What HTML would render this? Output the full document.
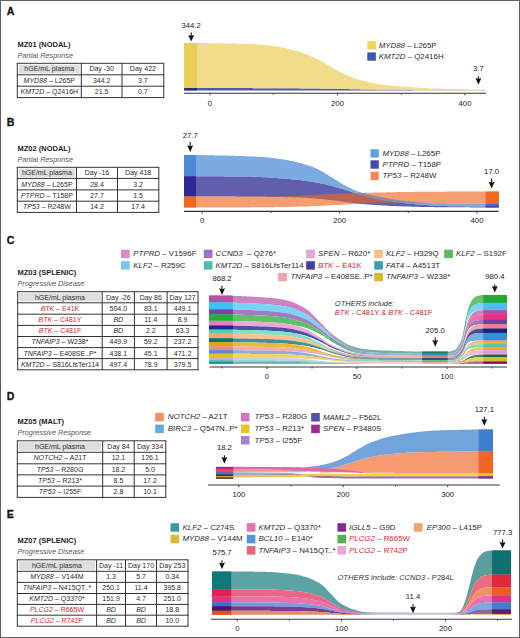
<!DOCTYPE html>
<html><head><meta charset="utf-8"><style>
html,body{margin:0;padding:0;background:#fff;}
svg{display:block;}
text{font-family:"Liberation Sans",sans-serif;}
</style></head><body>
<svg width="520" height="638" viewBox="0 0 520 638" font-family='"Liberation Sans", sans-serif'><rect x="0" y="0" width="520" height="638" fill="#fff"/>
<text x="6.8" y="14.6" font-size="10.6" font-weight="bold" fill="#111" stroke="#111" stroke-width="0.3">A</text>
<text x="17.50" y="46.90" font-size="7.5" font-weight="bold" fill="#1e1e1e"><tspan>MZ01 (NODAL)</tspan></text>
<text x="17.50" y="58.00" font-size="7.3" font-style="italic" fill="#555"><tspan>Partial Response</tspan></text>
<rect x="18.80" y="64.70" width="61.00" height="8.70" fill="#dedede" />
<line x1="16.80" y1="63.30" x2="164.30" y2="63.30" stroke="#333" stroke-width="1"/>
<line x1="16.80" y1="74.80" x2="164.30" y2="74.80" stroke="#333" stroke-width="1"/>
<line x1="16.80" y1="86.20" x2="164.30" y2="86.20" stroke="#333" stroke-width="1"/>
<line x1="16.80" y1="97.60" x2="164.30" y2="97.60" stroke="#333" stroke-width="1"/>
<line x1="17.30" y1="63.30" x2="17.30" y2="97.60" stroke="#333" stroke-width="1"/>
<line x1="81.30" y1="63.30" x2="81.30" y2="97.60" stroke="#333" stroke-width="1"/>
<line x1="122.00" y1="63.30" x2="122.00" y2="97.60" stroke="#333" stroke-width="1"/>
<line x1="163.80" y1="63.30" x2="163.80" y2="97.60" stroke="#333" stroke-width="1"/>
<text x="49.30" y="71.47" font-size="7.0" text-anchor="middle" fill="#2e2e2e"><tspan>hGE/mL plasma</tspan></text>
<text x="101.65" y="71.47" font-size="7.0" text-anchor="middle" fill="#2e2e2e"><tspan>Day -30</tspan></text>
<text x="142.90" y="71.47" font-size="7.0" text-anchor="middle" fill="#2e2e2e"><tspan>Day 422</tspan></text>
<text x="49.30" y="82.92" font-size="7.0" text-anchor="middle" fill="#2e2e2e"><tspan font-style="italic">MYD88</tspan><tspan> – L265P</tspan></text>
<text x="101.65" y="82.92" font-size="7.0" text-anchor="middle" fill="#2e2e2e"><tspan>344.2</tspan></text>
<text x="142.90" y="82.92" font-size="7.0" text-anchor="middle" fill="#2e2e2e"><tspan>3.7</tspan></text>
<text x="49.30" y="94.32" font-size="7.0" text-anchor="middle" fill="#2e2e2e"><tspan font-style="italic">KMT2D</tspan><tspan> – Q2416H</tspan></text>
<text x="101.65" y="94.32" font-size="7.0" text-anchor="middle" fill="#2e2e2e"><tspan>21.5</tspan></text>
<text x="142.90" y="94.32" font-size="7.0" text-anchor="middle" fill="#2e2e2e"><tspan>0.7</tspan></text>
<path d="M184,88.1 185,88.1 186,88.1 187,88.1 188,88.1 189,88.1 190,88.1 191,88.1 192,88.1 193,88.1 194,88.1 195,88.1 196,88.1 197,88.1 198,88.1 199,88.1 200,88.1 201,88.1 202,88.1 203,88.1 204,88.1 205,88.1 206,88.1 207,88.1 208,88.1 209,88.1 210,88.1 211,88.1 212,88.1 213,88.1 214,88.1 215,88.1 216,88.1 217,88.1 218,88.1 219,88.1 220,88.1 221,88.1 222,88.1 223,88.1 224,88.1 225,88.1 226,88.1 227,88.1 228,88.1 229,88.1 230,88.1 231,88.1 232,88.1 233,88.1 234,88.1 235,88.1 236,88.1 237,88.1 238,88.1 239,88.1 240,88.1 241,88.1 242,88.1 243,88.1 244,88.1 245,88.1 246,88.1 247,88.1 248,88.1 249,88.1 250,88.1 251,88.1 252,88.1 253,88.2 254,88.2 255,88.2 256,88.2 257,88.2 258,88.2 259,88.2 260,88.2 261,88.2 262,88.2 263,88.2 264,88.2 265,88.2 266,88.2 267,88.2 268,88.2 269,88.2 270,88.2 271,88.2 272,88.2 273,88.2 274,88.2 275,88.2 276,88.2 277,88.2 278,88.2 279,88.2 280,88.2 281,88.2 282,88.2 283,88.2 284,88.2 285,88.2 286,88.2 287,88.2 288,88.2 289,88.2 290,88.3 291,88.3 292,88.3 293,88.3 294,88.3 295,88.3 296,88.3 297,88.3 298,88.3 299,88.3 300,88.4 301,88.4 302,88.4 303,88.4 304,88.4 305,88.4 306,88.4 307,88.5 308,88.5 309,88.5 310,88.5 311,88.5 312,88.5 313,88.5 314,88.6 315,88.6 316,88.6 317,88.6 318,88.6 319,88.6 320,88.6 321,88.7 322,88.7 323,88.7 324,88.7 325,88.7 326,88.7 327,88.8 328,88.8 329,88.8 330,88.8 331,88.8 332,88.8 333,88.8 334,88.9 335,88.9 336,88.9 337,88.9 338,88.9 339,88.9 340,89 341,89 342,89 343,89 344,89 345,89.1 346,89.1 347,89.1 348,89.1 349,89.1 350,89.2 351,89.2 352,89.2 353,89.2 354,89.2 355,89.2 356,89.3 357,89.3 358,89.3 359,89.3 360,89.3 361,89.4 362,89.4 363,89.4 364,89.4 365,89.4 366,89.5 367,89.5 368,89.5 369,89.5 370,89.5 371,89.6 372,89.6 373,89.6 374,89.6 375,89.6 376,89.6 377,89.7 378,89.7 379,89.7 380,89.7 381,89.7 382,89.7 383,89.7 384,89.8 385,89.8 386,89.8 387,89.8 388,89.8 389,89.8 390,89.9 391,89.9 392,89.9 393,89.9 394,89.9 395,89.9 396,89.9 397,90 398,90 399,90 400,90 401,90 402,90 403,90 404,90.1 405,90.1 406,90.1 407,90.1 408,90.1 409,90.1 410,90.1 411,90.1 412,90.1 413,90.2 414,90.2 415,90.2 416,90.2 417,90.2 418,90.2 419,90.2 420,90.2 421,90.2 422,90.2 423,90.2 424,90.2 425,90.2 426,90.2 427,90.2 428,90.2 429,90.2 430,90.2 431,90.2 432,90.2 433,90.2 434,90.3 435,90.3 436,90.3 437,90.3 438,90.3 439,90.3 440,90.3 441,90.3 442,90.3 443,90.3 444,90.3 445,90.3 446,90.3 447,90.3 448,90.3 449,90.3 450,90.3 451,90.3 452,90.3 453,90.3 454,90.3 455,90.3 456,90.3 457,90.3 458,90.3 459,90.3 460,90.3 461,90.3 462,90.3 463,90.3 464,90.3 465,90.3 466,90.3 467,90.3 468,90.3 469,90.3 470,90.3 471,90.3 472,90.3 473,90.3 474,90.3 475,90.3 476,90.3 477,90.3 478,90.3 479,90.3 480,90.3 481,90.3 482,90.3 483,90.3 484,90.3 485,90.3 486,90.3 486,90.4 485,90.4 484,90.4 483,90.4 482,90.4 481,90.4 480,90.4 479,90.4 478,90.4 477,90.4 476,90.4 475,90.4 474,90.4 473,90.4 472,90.4 471,90.4 470,90.4 469,90.4 468,90.4 467,90.4 466,90.4 465,90.4 464,90.4 463,90.4 462,90.4 461,90.4 460,90.4 459,90.4 458,90.4 457,90.4 456,90.4 455,90.4 454,90.4 453,90.4 452,90.4 451,90.4 450,90.4 449,90.4 448,90.4 447,90.4 446,90.4 445,90.4 444,90.4 443,90.4 442,90.4 441,90.4 440,90.4 439,90.4 438,90.4 437,90.4 436,90.4 435,90.4 434,90.4 433,90.4 432,90.4 431,90.4 430,90.4 429,90.4 428,90.4 427,90.4 426,90.4 425,90.4 424,90.4 423,90.4 422,90.4 421,90.4 420,90.4 419,90.4 418,90.4 417,90.4 416,90.4 415,90.4 414,90.4 413,90.4 412,90.4 411,90.4 410,90.4 409,90.4 408,90.4 407,90.4 406,90.4 405,90.4 404,90.4 403,90.4 402,90.4 401,90.4 400,90.4 399,90.4 398,90.4 397,90.4 396,90.4 395,90.4 394,90.4 393,90.4 392,90.4 391,90.4 390,90.4 389,90.4 388,90.4 387,90.4 386,90.4 385,90.4 384,90.4 383,90.4 382,90.4 381,90.4 380,90.4 379,90.4 378,90.4 377,90.4 376,90.4 375,90.4 374,90.4 373,90.4 372,90.4 371,90.4 370,90.4 369,90.4 368,90.4 367,90.4 366,90.4 365,90.4 364,90.4 363,90.4 362,90.4 361,90.4 360,90.4 359,90.4 358,90.4 357,90.4 356,90.4 355,90.4 354,90.4 353,90.4 352,90.4 351,90.4 350,90.4 349,90.4 348,90.4 347,90.4 346,90.4 345,90.4 344,90.4 343,90.4 342,90.4 341,90.4 340,90.4 339,90.4 338,90.4 337,90.4 336,90.4 335,90.4 334,90.4 333,90.4 332,90.4 331,90.4 330,90.4 329,90.4 328,90.4 327,90.4 326,90.4 325,90.4 324,90.4 323,90.4 322,90.4 321,90.4 320,90.4 319,90.4 318,90.4 317,90.4 316,90.4 315,90.4 314,90.4 313,90.4 312,90.4 311,90.4 310,90.4 309,90.4 308,90.4 307,90.4 306,90.4 305,90.4 304,90.4 303,90.4 302,90.4 301,90.4 300,90.4 299,90.4 298,90.4 297,90.4 296,90.4 295,90.4 294,90.4 293,90.4 292,90.4 291,90.4 290,90.4 289,90.4 288,90.4 287,90.4 286,90.4 285,90.4 284,90.4 283,90.4 282,90.4 281,90.4 280,90.4 279,90.4 278,90.4 277,90.4 276,90.4 275,90.4 274,90.4 273,90.4 272,90.4 271,90.4 270,90.4 269,90.4 268,90.4 267,90.4 266,90.4 265,90.4 264,90.4 263,90.4 262,90.4 261,90.4 260,90.4 259,90.4 258,90.4 257,90.4 256,90.4 255,90.4 254,90.4 253,90.4 252,90.4 251,90.4 250,90.4 249,90.4 248,90.4 247,90.4 246,90.4 245,90.4 244,90.4 243,90.4 242,90.4 241,90.4 240,90.4 239,90.4 238,90.4 237,90.4 236,90.4 235,90.4 234,90.4 233,90.4 232,90.4 231,90.4 230,90.4 229,90.4 228,90.4 227,90.4 226,90.4 225,90.4 224,90.4 223,90.4 222,90.4 221,90.4 220,90.4 219,90.4 218,90.4 217,90.4 216,90.4 215,90.4 214,90.4 213,90.4 212,90.4 211,90.4 210,90.4 209,90.4 208,90.4 207,90.4 206,90.4 205,90.4 204,90.4 203,90.4 202,90.4 201,90.4 200,90.4 199,90.4 198,90.4 197,90.4 196,90.4 195,90.4 194,90.4 193,90.4 192,90.4 191,90.4 190,90.4 189,90.4 188,90.4 187,90.4 186,90.4 185,90.4 184,90.4Z" fill="#57599e"/>
<path d="M184,43 185,43 186,43 187,43 188,43 189,43 190,43 191,43 192,43 193,43 194,43 195,43 196,43 197,43 198,43 199,43.1 200,43.1 201,43.1 202,43.1 203,43.1 204,43.1 205,43.1 206,43.1 207,43.1 208,43.1 209,43.2 210,43.2 211,43.2 212,43.2 213,43.2 214,43.2 215,43.2 216,43.2 217,43.3 218,43.3 219,43.3 220,43.3 221,43.3 222,43.3 223,43.4 224,43.4 225,43.4 226,43.4 227,43.4 228,43.5 229,43.5 230,43.5 231,43.5 232,43.5 233,43.6 234,43.6 235,43.6 236,43.6 237,43.7 238,43.7 239,43.7 240,43.7 241,43.8 242,43.8 243,43.8 244,43.8 245,43.9 246,43.9 247,43.9 248,43.9 249,44 250,44 251,44 252,44.1 253,44.1 254,44.2 255,44.2 256,44.3 257,44.3 258,44.4 259,44.5 260,44.6 261,44.7 262,44.7 263,44.8 264,44.9 265,45 266,45.1 267,45.2 268,45.4 269,45.5 270,45.6 271,45.7 272,45.8 273,45.9 274,46.1 275,46.2 276,46.3 277,46.5 278,46.6 279,46.8 280,47 281,47.2 282,47.3 283,47.5 284,47.8 285,48 286,48.2 287,48.4 288,48.7 289,48.9 290,49.2 291,49.4 292,49.7 293,50 294,50.2 295,50.5 296,50.8 297,51.1 298,51.4 299,51.7 300,52 301,52.3 302,52.6 303,53 304,53.3 305,53.7 306,54.1 307,54.5 308,54.9 309,55.4 310,55.8 311,56.2 312,56.7 313,57.1 314,57.6 315,58.1 316,58.6 317,59 318,59.5 319,60 320,60.5 321,61 322,61.5 323,62.1 324,62.6 325,63.2 326,63.8 327,64.4 328,65 329,65.7 330,66.3 331,66.9 332,67.5 333,68.1 334,68.7 335,69.3 336,69.9 337,70.5 338,71 339,71.5 340,72 341,72.5 342,72.9 343,73.4 344,73.9 345,74.3 346,74.8 347,75.2 348,75.6 349,76.1 350,76.5 351,76.9 352,77.3 353,77.7 354,78 355,78.4 356,78.8 357,79.1 358,79.4 359,79.7 360,80 361,80.3 362,80.5 363,80.8 364,81.1 365,81.3 366,81.6 367,81.8 368,82.1 369,82.3 370,82.5 371,82.7 372,82.9 373,83.1 374,83.3 375,83.5 376,83.7 377,83.9 378,84 379,84.2 380,84.3 381,84.4 382,84.6 383,84.7 384,84.8 385,84.9 386,85 387,85.2 388,85.3 389,85.4 390,85.5 391,85.6 392,85.7 393,85.8 394,85.9 395,86 396,86.1 397,86.2 398,86.3 399,86.3 400,86.4 401,86.5 402,86.6 403,86.7 404,86.8 405,86.8 406,86.9 407,87 408,87.1 409,87.1 410,87.2 411,87.3 412,87.3 413,87.4 414,87.5 415,87.5 416,87.6 417,87.6 418,87.7 419,87.7 420,87.8 421,87.9 422,87.9 423,88 424,88 425,88.1 426,88.1 427,88.2 428,88.2 429,88.3 430,88.3 431,88.4 432,88.4 433,88.4 434,88.5 435,88.5 436,88.6 437,88.6 438,88.6 439,88.7 440,88.7 441,88.8 442,88.8 443,88.8 444,88.8 445,88.9 446,88.9 447,88.9 448,89 449,89 450,89 451,89 452,89 453,89.1 454,89.1 455,89.1 456,89.1 457,89.1 458,89.2 459,89.2 460,89.2 461,89.2 462,89.2 463,89.3 464,89.3 465,89.3 466,89.3 467,89.3 468,89.3 469,89.4 470,89.4 471,89.4 472,89.4 473,89.4 474,89.4 475,89.4 476,89.4 477,89.5 478,89.5 479,89.5 480,89.5 481,89.5 482,89.5 483,89.5 484,89.5 485,89.5 486,89.5 486,90.3 485,90.3 484,90.3 483,90.3 482,90.3 481,90.3 480,90.3 479,90.3 478,90.3 477,90.3 476,90.3 475,90.3 474,90.3 473,90.3 472,90.3 471,90.3 470,90.3 469,90.3 468,90.3 467,90.3 466,90.3 465,90.3 464,90.3 463,90.3 462,90.3 461,90.3 460,90.3 459,90.3 458,90.3 457,90.3 456,90.3 455,90.3 454,90.3 453,90.3 452,90.3 451,90.3 450,90.3 449,90.3 448,90.3 447,90.3 446,90.3 445,90.3 444,90.3 443,90.3 442,90.3 441,90.3 440,90.3 439,90.3 438,90.3 437,90.3 436,90.3 435,90.3 434,90.3 433,90.2 432,90.2 431,90.2 430,90.2 429,90.2 428,90.2 427,90.2 426,90.2 425,90.2 424,90.2 423,90.2 422,90.2 421,90.2 420,90.2 419,90.2 418,90.2 417,90.2 416,90.2 415,90.2 414,90.2 413,90.2 412,90.1 411,90.1 410,90.1 409,90.1 408,90.1 407,90.1 406,90.1 405,90.1 404,90.1 403,90 402,90 401,90 400,90 399,90 398,90 397,90 396,89.9 395,89.9 394,89.9 393,89.9 392,89.9 391,89.9 390,89.9 389,89.8 388,89.8 387,89.8 386,89.8 385,89.8 384,89.8 383,89.7 382,89.7 381,89.7 380,89.7 379,89.7 378,89.7 377,89.7 376,89.6 375,89.6 374,89.6 373,89.6 372,89.6 371,89.6 370,89.5 369,89.5 368,89.5 367,89.5 366,89.5 365,89.4 364,89.4 363,89.4 362,89.4 361,89.4 360,89.3 359,89.3 358,89.3 357,89.3 356,89.3 355,89.2 354,89.2 353,89.2 352,89.2 351,89.2 350,89.2 349,89.1 348,89.1 347,89.1 346,89.1 345,89.1 344,89 343,89 342,89 341,89 340,89 339,88.9 338,88.9 337,88.9 336,88.9 335,88.9 334,88.9 333,88.8 332,88.8 331,88.8 330,88.8 329,88.8 328,88.8 327,88.8 326,88.7 325,88.7 324,88.7 323,88.7 322,88.7 321,88.7 320,88.6 319,88.6 318,88.6 317,88.6 316,88.6 315,88.6 314,88.6 313,88.5 312,88.5 311,88.5 310,88.5 309,88.5 308,88.5 307,88.5 306,88.4 305,88.4 304,88.4 303,88.4 302,88.4 301,88.4 300,88.4 299,88.3 298,88.3 297,88.3 296,88.3 295,88.3 294,88.3 293,88.3 292,88.3 291,88.3 290,88.3 289,88.2 288,88.2 287,88.2 286,88.2 285,88.2 284,88.2 283,88.2 282,88.2 281,88.2 280,88.2 279,88.2 278,88.2 277,88.2 276,88.2 275,88.2 274,88.2 273,88.2 272,88.2 271,88.2 270,88.2 269,88.2 268,88.2 267,88.2 266,88.2 265,88.2 264,88.2 263,88.2 262,88.2 261,88.2 260,88.2 259,88.2 258,88.2 257,88.2 256,88.2 255,88.2 254,88.2 253,88.2 252,88.1 251,88.1 250,88.1 249,88.1 248,88.1 247,88.1 246,88.1 245,88.1 244,88.1 243,88.1 242,88.1 241,88.1 240,88.1 239,88.1 238,88.1 237,88.1 236,88.1 235,88.1 234,88.1 233,88.1 232,88.1 231,88.1 230,88.1 229,88.1 228,88.1 227,88.1 226,88.1 225,88.1 224,88.1 223,88.1 222,88.1 221,88.1 220,88.1 219,88.1 218,88.1 217,88.1 216,88.1 215,88.1 214,88.1 213,88.1 212,88.1 211,88.1 210,88.1 209,88.1 208,88.1 207,88.1 206,88.1 205,88.1 204,88.1 203,88.1 202,88.1 201,88.1 200,88.1 199,88.1 198,88.1 197,88.1 196,88.1 195,88.1 194,88.1 193,88.1 192,88.1 191,88.1 190,88.1 189,88.1 188,88.1 187,88.1 186,88.1 185,88.1 184,88.1Z" fill="#f1dc8c"/>
<rect x="184.20" y="43.00" width="12.80" height="45.10" fill="#e8cd58" />
<rect x="184.20" y="88.10" width="12.80" height="2.30" fill="#272a82" />
<line x1="184.00" y1="93.20" x2="486.00" y2="93.20" stroke="#333" stroke-width="1.1"/>
<line x1="210.00" y1="93.20" x2="210.00" y2="95.40" stroke="#333" stroke-width="0.9"/>
<line x1="337.50" y1="93.20" x2="337.50" y2="95.40" stroke="#333" stroke-width="0.9"/>
<line x1="465.00" y1="93.20" x2="465.00" y2="95.40" stroke="#333" stroke-width="0.9"/>
<line x1="273.70" y1="93.20" x2="273.70" y2="94.80" stroke="#333" stroke-width="0.8"/>
<line x1="401.30" y1="93.20" x2="401.30" y2="94.80" stroke="#333" stroke-width="0.8"/>
<text x="210.00" y="105.90" font-size="7.7" text-anchor="middle" fill="#222"><tspan>0</tspan></text>
<text x="337.50" y="105.90" font-size="7.7" text-anchor="middle" fill="#222"><tspan>200</tspan></text>
<text x="465.00" y="105.90" font-size="7.7" text-anchor="middle" fill="#222"><tspan>400</tspan></text>
<line x1="191.20" y1="32.40" x2="191.20" y2="37.60" stroke="#111" stroke-width="1.1"/>
<path d="M188.20,34.90 L191.20,35.80 L194.20,34.90 L191.20,41.60 Z" fill="#111"/>
<text x="191.20" y="27.90" font-size="7.7" text-anchor="middle" fill="#222"><tspan>344.2</tspan></text>
<line x1="478.40" y1="76.20" x2="478.40" y2="80.80" stroke="#111" stroke-width="1.1"/>
<path d="M475.40,78.10 L478.40,79.00 L481.40,78.10 L478.40,84.80 Z" fill="#111"/>
<text x="478.40" y="71.20" font-size="7.7" text-anchor="middle" fill="#222"><tspan>3.7</tspan></text>
<rect x="367.30" y="41.20" width="8.60" height="8.30" fill="#f4d356" />
<text x="378.70" y="47.67" font-size="7.9" fill="#2b2b2b"><tspan font-style="italic">MYD88</tspan><tspan> – L265P</tspan></text>
<rect x="367.30" y="52.40" width="8.60" height="8.30" fill="#3d59ae" />
<text x="378.70" y="58.87" font-size="7.9" fill="#2b2b2b"><tspan font-style="italic">KMT2D</tspan><tspan> – Q2416H</tspan></text>
<text x="6.8" y="126.3" font-size="10.6" font-weight="bold" fill="#111" stroke="#111" stroke-width="0.3">B</text>
<text x="17.50" y="150.90" font-size="7.5" font-weight="bold" fill="#1e1e1e"><tspan>MZ02 (NODAL)</tspan></text>
<text x="17.50" y="162.00" font-size="7.3" font-style="italic" fill="#555"><tspan>Partial Response</tspan></text>
<rect x="18.80" y="168.70" width="56.20" height="8.30" fill="#dedede" />
<line x1="16.80" y1="167.30" x2="159.30" y2="167.30" stroke="#333" stroke-width="1"/>
<line x1="16.80" y1="178.40" x2="159.30" y2="178.40" stroke="#333" stroke-width="1"/>
<line x1="16.80" y1="189.90" x2="159.30" y2="189.90" stroke="#333" stroke-width="1"/>
<line x1="16.80" y1="201.20" x2="159.30" y2="201.20" stroke="#333" stroke-width="1"/>
<line x1="16.80" y1="212.40" x2="159.30" y2="212.40" stroke="#333" stroke-width="1"/>
<line x1="17.30" y1="167.30" x2="17.30" y2="212.40" stroke="#333" stroke-width="1"/>
<line x1="76.50" y1="167.30" x2="76.50" y2="212.40" stroke="#333" stroke-width="1"/>
<line x1="117.50" y1="167.30" x2="117.50" y2="212.40" stroke="#333" stroke-width="1"/>
<line x1="158.80" y1="167.30" x2="158.80" y2="212.40" stroke="#333" stroke-width="1"/>
<text x="46.90" y="175.27" font-size="7.0" text-anchor="middle" fill="#2e2e2e"><tspan>hGE/mL plasma</tspan></text>
<text x="97.00" y="175.27" font-size="7.0" text-anchor="middle" fill="#2e2e2e"><tspan>Day -16</tspan></text>
<text x="138.15" y="175.27" font-size="7.0" text-anchor="middle" fill="#2e2e2e"><tspan>Day 418</tspan></text>
<text x="46.90" y="186.56" font-size="7.0" text-anchor="middle" fill="#2e2e2e"><tspan font-style="italic">MYD88</tspan><tspan> – L265P</tspan></text>
<text x="97.00" y="186.56" font-size="7.0" text-anchor="middle" fill="#2e2e2e"><tspan>28.4</tspan></text>
<text x="138.15" y="186.56" font-size="7.0" text-anchor="middle" fill="#2e2e2e"><tspan>3.2</tspan></text>
<text x="46.90" y="197.97" font-size="7.0" text-anchor="middle" fill="#2e2e2e"><tspan font-style="italic">PTPRD</tspan><tspan> – T158P</tspan></text>
<text x="97.00" y="197.97" font-size="7.0" text-anchor="middle" fill="#2e2e2e"><tspan>27.7</tspan></text>
<text x="138.15" y="197.97" font-size="7.0" text-anchor="middle" fill="#2e2e2e"><tspan>1.5</tspan></text>
<text x="46.90" y="209.22" font-size="7.0" text-anchor="middle" fill="#2e2e2e"><tspan font-style="italic">TP53</tspan><tspan> – R248W</tspan></text>
<text x="97.00" y="209.22" font-size="7.0" text-anchor="middle" fill="#2e2e2e"><tspan>14.2</tspan></text>
<text x="138.15" y="209.22" font-size="7.0" text-anchor="middle" fill="#2e2e2e"><tspan>17.4</tspan></text>
<path d="M184,176.3 185,176.3 186,176.3 187,176.3 188,176.3 189,176.3 190,176.3 191,176.3 192,176.3 193,176.3 194,176.3 195,176.3 196,176.3 197,176.3 198,176.3 199,176.3 200,176.3 201,176.3 202,176.3 203,176.3 204,176.3 205,176.3 206,176.3 207,176.3 208,176.3 209,176.3 210,176.3 211,176.3 212,176.3 213,176.3 214,176.3 215,176.3 216,176.3 217,176.3 218,176.3 219,176.3 220,176.3 221,176.3 222,176.3 223,176.3 224,176.4 225,176.4 226,176.4 227,176.4 228,176.4 229,176.4 230,176.4 231,176.4 232,176.4 233,176.4 234,176.4 235,176.4 236,176.4 237,176.4 238,176.4 239,176.4 240,176.4 241,176.4 242,176.4 243,176.4 244,176.4 245,176.5 246,176.5 247,176.5 248,176.5 249,176.5 250,176.6 251,176.6 252,176.6 253,176.7 254,176.7 255,176.8 256,176.8 257,176.8 258,176.9 259,176.9 260,177 261,177 262,177.1 263,177.2 264,177.2 265,177.3 266,177.3 267,177.4 268,177.5 269,177.5 270,177.6 271,177.7 272,177.7 273,177.8 274,177.9 275,177.9 276,178 277,178.1 278,178.2 279,178.3 280,178.3 281,178.4 282,178.5 283,178.6 284,178.7 285,178.7 286,178.8 287,178.9 288,179 289,179.1 290,179.2 291,179.2 292,179.3 293,179.4 294,179.5 295,179.6 296,179.7 297,179.8 298,179.9 299,180 300,180.1 301,180.2 302,180.4 303,180.5 304,180.6 305,180.7 306,180.9 307,181 308,181.2 309,181.3 310,181.5 311,181.6 312,181.8 313,182 314,182.1 315,182.3 316,182.5 317,182.7 318,182.8 319,183 320,183.2 321,183.4 322,183.6 323,183.8 324,184 325,184.2 326,184.5 327,184.7 328,184.9 329,185.2 330,185.5 331,185.7 332,186 333,186.2 334,186.5 335,186.8 336,187.1 337,187.4 338,187.6 339,187.9 340,188.2 341,188.5 342,188.8 343,189.1 344,189.4 345,189.8 346,190.1 347,190.4 348,190.8 349,191.1 350,191.4 351,191.8 352,192.1 353,192.4 354,192.7 355,193 356,193.3 357,193.6 358,193.9 359,194.2 360,194.5 361,194.8 362,195 363,195.3 364,195.6 365,195.9 366,196.2 367,196.5 368,196.7 369,197 370,197.3 371,197.5 372,197.8 373,198 374,198.3 375,198.5 376,198.7 377,198.9 378,199.1 379,199.3 380,199.5 381,199.7 382,199.8 383,200 384,200.2 385,200.4 386,200.5 387,200.7 388,200.8 389,201 390,201.1 391,201.3 392,201.4 393,201.6 394,201.7 395,201.9 396,202 397,202.2 398,202.3 399,202.4 400,202.6 401,202.7 402,202.8 403,202.9 404,203.1 405,203.2 406,203.3 407,203.4 408,203.5 409,203.6 410,203.7 411,203.8 412,203.9 413,204 414,204.1 415,204.2 416,204.3 417,204.4 418,204.4 419,204.5 420,204.6 421,204.7 422,204.7 423,204.8 424,204.9 425,205 426,205 427,205.1 428,205.2 429,205.2 430,205.3 431,205.4 432,205.4 433,205.5 434,205.6 435,205.6 436,205.7 437,205.7 438,205.8 439,205.8 440,205.9 441,205.9 442,206 443,206 444,206.1 445,206.1 446,206.1 447,206.1 448,206.2 449,206.2 450,206.2 451,206.2 452,206.2 453,206.2 454,206.2 455,206.3 456,206.3 457,206.3 458,206.3 459,206.3 460,206.3 461,206.3 462,206.3 463,206.3 464,206.3 465,206.4 466,206.4 467,206.4 468,206.4 469,206.4 470,206.4 471,206.4 472,206.4 473,206.4 474,206.4 475,206.4 476,206.4 477,206.4 478,206.4 479,206.4 480,206.5 481,206.5 482,206.5 483,206.5 484,206.5 485,206.5 486,206.5 487,206.5 488,206.5 489,206.5 490,206.5 491,206.5 492,206.5 493,206.5 494,206.5 495,206.5 496,206.5 497,206.5 498,206.5 499,206.5 499,207.4 498,207.4 497,207.4 496,207.4 495,207.4 494,207.4 493,207.4 492,207.4 491,207.4 490,207.4 489,207.4 488,207.4 487,207.4 486,207.4 485,207.4 484,207.4 483,207.4 482,207.4 481,207.4 480,207.4 479,207.4 478,207.4 477,207.4 476,207.4 475,207.4 474,207.4 473,207.4 472,207.4 471,207.4 470,207.3 469,207.3 468,207.3 467,207.3 466,207.3 465,207.3 464,207.3 463,207.3 462,207.3 461,207.3 460,207.3 459,207.3 458,207.3 457,207.3 456,207.3 455,207.3 454,207.3 453,207.3 452,207.3 451,207.3 450,207.3 449,207.3 448,207.2 447,207.2 446,207.2 445,207.2 444,207.2 443,207.2 442,207.2 441,207.2 440,207.2 439,207.2 438,207.2 437,207.2 436,207.2 435,207.2 434,207.1 433,207.1 432,207.1 431,207.1 430,207.1 429,207.1 428,207.1 427,207 426,207 425,207 424,207 423,207 422,206.9 421,206.9 420,206.9 419,206.9 418,206.8 417,206.8 416,206.8 415,206.8 414,206.7 413,206.7 412,206.7 411,206.6 410,206.6 409,206.6 408,206.6 407,206.5 406,206.5 405,206.5 404,206.4 403,206.4 402,206.4 401,206.3 400,206.3 399,206.3 398,206.2 397,206.2 396,206.2 395,206.1 394,206.1 393,206 392,206 391,205.9 390,205.9 389,205.8 388,205.8 387,205.7 386,205.7 385,205.6 384,205.6 383,205.5 382,205.4 381,205.4 380,205.3 379,205.2 378,205.2 377,205.1 376,205 375,205 374,204.9 373,204.8 372,204.8 371,204.7 370,204.6 369,204.5 368,204.5 367,204.4 366,204.3 365,204.2 364,204.1 363,204.1 362,204 361,203.9 360,203.8 359,203.7 358,203.6 357,203.5 356,203.4 355,203.3 354,203.2 353,203 352,202.9 351,202.8 350,202.7 349,202.5 348,202.4 347,202.2 346,202.1 345,201.9 344,201.8 343,201.7 342,201.5 341,201.4 340,201.2 339,201.1 338,201 337,200.8 336,200.7 335,200.6 334,200.4 333,200.3 332,200.2 331,200.1 330,200 329,199.9 328,199.8 327,199.7 326,199.6 325,199.5 324,199.4 323,199.3 322,199.2 321,199.1 320,199 319,198.9 318,198.8 317,198.7 316,198.6 315,198.6 314,198.5 313,198.4 312,198.3 311,198.2 310,198.2 309,198.1 308,198 307,197.9 306,197.9 305,197.8 304,197.8 303,197.7 302,197.7 301,197.6 300,197.6 299,197.6 298,197.5 297,197.5 296,197.5 295,197.4 294,197.4 293,197.4 292,197.4 291,197.3 290,197.3 289,197.3 288,197.3 287,197.2 286,197.2 285,197.2 284,197.2 283,197.1 282,197.1 281,197.1 280,197.1 279,197.1 278,197 277,197 276,197 275,197 274,197 273,196.9 272,196.9 271,196.9 270,196.9 269,196.9 268,196.9 267,196.9 266,196.9 265,196.8 264,196.8 263,196.8 262,196.8 261,196.8 260,196.8 259,196.8 258,196.8 257,196.8 256,196.8 255,196.8 254,196.8 253,196.8 252,196.7 251,196.7 250,196.7 249,196.7 248,196.7 247,196.7 246,196.7 245,196.7 244,196.7 243,196.7 242,196.7 241,196.7 240,196.7 239,196.7 238,196.7 237,196.7 236,196.6 235,196.6 234,196.6 233,196.6 232,196.6 231,196.6 230,196.6 229,196.6 228,196.6 227,196.6 226,196.6 225,196.6 224,196.6 223,196.6 222,196.6 221,196.6 220,196.6 219,196.6 218,196.6 217,196.6 216,196.6 215,196.6 214,196.6 213,196.5 212,196.5 211,196.5 210,196.5 209,196.5 208,196.5 207,196.5 206,196.5 205,196.5 204,196.5 203,196.5 202,196.5 201,196.5 200,196.5 199,196.5 198,196.5 197,196.5 196,196.5 195,196.5 194,196.5 193,196.5 192,196.5 191,196.5 190,196.5 189,196.5 188,196.5 187,196.5 186,196.5 185,196.5 184,196.5Z" fill="#2c2a92" fill-opacity="0.75"/>
<path d="M184,196.5 185,196.5 186,196.5 187,196.5 188,196.5 189,196.5 190,196.5 191,196.5 192,196.5 193,196.5 194,196.5 195,196.5 196,196.5 197,196.5 198,196.5 199,196.5 200,196.5 201,196.5 202,196.5 203,196.5 204,196.5 205,196.5 206,196.5 207,196.5 208,196.5 209,196.5 210,196.5 211,196.5 212,196.5 213,196.5 214,196.5 215,196.5 216,196.5 217,196.5 218,196.5 219,196.4 220,196.4 221,196.4 222,196.4 223,196.4 224,196.4 225,196.4 226,196.4 227,196.4 228,196.4 229,196.4 230,196.4 231,196.4 232,196.4 233,196.4 234,196.4 235,196.4 236,196.4 237,196.4 238,196.4 239,196.4 240,196.4 241,196.4 242,196.4 243,196.4 244,196.4 245,196.4 246,196.4 247,196.4 248,196.4 249,196.3 250,196.3 251,196.3 252,196.3 253,196.3 254,196.3 255,196.3 256,196.3 257,196.3 258,196.3 259,196.3 260,196.3 261,196.3 262,196.3 263,196.3 264,196.3 265,196.3 266,196.3 267,196.3 268,196.3 269,196.3 270,196.2 271,196.2 272,196.2 273,196.2 274,196.2 275,196.2 276,196.2 277,196.2 278,196.2 279,196.2 280,196.2 281,196.2 282,196.1 283,196.1 284,196.1 285,196.1 286,196.1 287,196.1 288,196.1 289,196.1 290,196.1 291,196 292,196 293,196 294,196 295,196 296,196 297,195.9 298,195.9 299,195.9 300,195.8 301,195.8 302,195.7 303,195.7 304,195.6 305,195.6 306,195.5 307,195.5 308,195.4 309,195.3 310,195.3 311,195.2 312,195.2 313,195.1 314,195 315,194.9 316,194.9 317,194.8 318,194.7 319,194.7 320,194.6 321,194.5 322,194.5 323,194.4 324,194.3 325,194.3 326,194.2 327,194.1 328,194.1 329,194 330,194 331,193.9 332,193.9 333,193.8 334,193.8 335,193.8 336,193.7 337,193.7 338,193.7 339,193.6 340,193.6 341,193.5 342,193.5 343,193.5 344,193.4 345,193.4 346,193.4 347,193.4 348,193.3 349,193.3 350,193.3 351,193.2 352,193.2 353,193.2 354,193.1 355,193.1 356,193.1 357,193.1 358,193 359,193 360,193 361,192.9 362,192.9 363,192.9 364,192.9 365,192.8 366,192.8 367,192.8 368,192.8 369,192.7 370,192.7 371,192.7 372,192.7 373,192.7 374,192.6 375,192.6 376,192.6 377,192.6 378,192.5 379,192.5 380,192.5 381,192.5 382,192.5 383,192.4 384,192.4 385,192.4 386,192.4 387,192.3 388,192.3 389,192.3 390,192.3 391,192.3 392,192.2 393,192.2 394,192.2 395,192.2 396,192.2 397,192.1 398,192.1 399,192.1 400,192.1 401,192.1 402,192 403,192 404,192 405,192 406,192 407,192 408,191.9 409,191.9 410,191.9 411,191.9 412,191.9 413,191.9 414,191.9 415,191.8 416,191.8 417,191.8 418,191.8 419,191.8 420,191.8 421,191.8 422,191.8 423,191.8 424,191.8 425,191.8 426,191.8 427,191.8 428,191.7 429,191.7 430,191.7 431,191.7 432,191.7 433,191.7 434,191.7 435,191.7 436,191.7 437,191.7 438,191.7 439,191.7 440,191.7 441,191.7 442,191.7 443,191.7 444,191.7 445,191.7 446,191.6 447,191.6 448,191.6 449,191.6 450,191.6 451,191.6 452,191.6 453,191.6 454,191.6 455,191.6 456,191.6 457,191.6 458,191.6 459,191.6 460,191.6 461,191.6 462,191.6 463,191.6 464,191.6 465,191.6 466,191.6 467,191.6 468,191.6 469,191.5 470,191.5 471,191.5 472,191.5 473,191.5 474,191.5 475,191.5 476,191.5 477,191.5 478,191.5 479,191.5 480,191.5 481,191.5 482,191.5 483,191.5 484,191.5 485,191.5 486,191.5 487,191.5 488,191.5 489,191.5 490,191.5 491,191.5 492,191.5 493,191.5 494,191.5 495,191.5 496,191.5 497,191.5 498,191.5 499,191.5 499,203.8 498,203.8 497,203.8 496,203.8 495,203.8 494,203.8 493,203.8 492,203.8 491,203.8 490,203.8 489,203.8 488,203.8 487,203.8 486,203.8 485,203.8 484,203.8 483,203.8 482,203.8 481,203.8 480,203.8 479,203.8 478,203.8 477,203.8 476,203.8 475,203.8 474,203.8 473,203.8 472,203.8 471,203.8 470,203.8 469,203.8 468,203.8 467,203.8 466,203.8 465,203.8 464,203.8 463,203.8 462,203.8 461,203.8 460,203.8 459,203.7 458,203.7 457,203.7 456,203.7 455,203.7 454,203.7 453,203.7 452,203.7 451,203.7 450,203.7 449,203.7 448,203.7 447,203.7 446,203.7 445,203.7 444,203.7 443,203.7 442,203.7 441,203.7 440,203.7 439,203.7 438,203.7 437,203.7 436,203.7 435,203.7 434,203.7 433,203.7 432,203.7 431,203.7 430,203.6 429,203.6 428,203.6 427,203.6 426,203.6 425,203.6 424,203.6 423,203.6 422,203.6 421,203.6 420,203.6 419,203.6 418,203.6 417,203.6 416,203.6 415,203.5 414,203.5 413,203.5 412,203.5 411,203.4 410,203.4 409,203.4 408,203.4 407,203.3 406,203.3 405,203.3 404,203.2 403,203.2 402,203.1 401,203.1 400,203.1 399,203 398,203 397,203 396,202.9 395,202.9 394,202.9 393,202.8 392,202.8 391,202.8 390,202.7 389,202.7 388,202.7 387,202.7 386,202.7 385,202.6 384,202.6 383,202.6 382,202.6 381,202.6 380,202.6 379,202.6 378,202.6 377,202.6 376,202.6 375,202.7 374,202.7 373,202.7 372,202.8 371,202.8 370,202.8 369,202.9 368,202.9 367,203 366,203 365,203.1 364,203.2 363,203.2 362,203.3 361,203.3 360,203.4 359,203.5 358,203.6 357,203.6 356,203.7 355,203.8 354,203.9 353,203.9 352,204 351,204.1 350,204.2 349,204.2 348,204.3 347,204.4 346,204.5 345,204.5 344,204.6 343,204.7 342,204.7 341,204.8 340,204.9 339,204.9 338,205 337,205 336,205.1 335,205.2 334,205.2 333,205.2 332,205.3 331,205.3 330,205.4 329,205.4 328,205.5 327,205.5 326,205.6 325,205.6 324,205.7 323,205.7 322,205.8 321,205.8 320,205.9 319,205.9 318,206 317,206 316,206 315,206.1 314,206.1 313,206.2 312,206.2 311,206.2 310,206.3 309,206.3 308,206.4 307,206.4 306,206.4 305,206.5 304,206.5 303,206.5 302,206.5 301,206.6 300,206.6 299,206.6 298,206.6 297,206.7 296,206.7 295,206.7 294,206.7 293,206.8 292,206.8 291,206.8 290,206.8 289,206.9 288,206.9 287,206.9 286,206.9 285,206.9 284,207 283,207 282,207 281,207 280,207 279,207.1 278,207.1 277,207.1 276,207.1 275,207.1 274,207.2 273,207.2 272,207.2 271,207.2 270,207.2 269,207.2 268,207.2 267,207.2 266,207.3 265,207.3 264,207.3 263,207.3 262,207.3 261,207.3 260,207.3 259,207.3 258,207.3 257,207.3 256,207.3 255,207.3 254,207.3 253,207.3 252,207.3 251,207.3 250,207.3 249,207.4 248,207.4 247,207.4 246,207.4 245,207.4 244,207.4 243,207.4 242,207.4 241,207.4 240,207.4 239,207.4 238,207.4 237,207.4 236,207.4 235,207.4 234,207.4 233,207.4 232,207.4 231,207.4 230,207.4 229,207.4 228,207.4 227,207.4 226,207.4 225,207.4 224,207.4 223,207.4 222,207.4 221,207.4 220,207.5 219,207.5 218,207.5 217,207.5 216,207.5 215,207.5 214,207.5 213,207.5 212,207.5 211,207.5 210,207.5 209,207.5 208,207.5 207,207.5 206,207.5 205,207.5 204,207.5 203,207.5 202,207.5 201,207.5 200,207.5 199,207.5 198,207.5 197,207.5 196,207.5 195,207.5 194,207.5 193,207.5 192,207.5 191,207.5 190,207.5 189,207.5 188,207.5 187,207.5 186,207.5 185,207.5 184,207.5Z" fill="#f06822" fill-opacity="0.64"/>
<path d="M184,155 185,155 186,155 187,155 188,155 189,155 190,155 191,155 192,155 193,155 194,155 195,155.1 196,155.1 197,155.1 198,155.1 199,155.1 200,155.1 201,155.1 202,155.1 203,155.1 204,155.2 205,155.2 206,155.2 207,155.2 208,155.2 209,155.2 210,155.3 211,155.3 212,155.3 213,155.3 214,155.3 215,155.4 216,155.4 217,155.4 218,155.4 219,155.5 220,155.5 221,155.5 222,155.5 223,155.5 224,155.6 225,155.6 226,155.6 227,155.6 228,155.7 229,155.7 230,155.7 231,155.8 232,155.8 233,155.8 234,155.8 235,155.9 236,155.9 237,155.9 238,155.9 239,156 240,156 241,156 242,156.1 243,156.1 244,156.1 245,156.2 246,156.2 247,156.2 248,156.3 249,156.3 250,156.4 251,156.4 252,156.5 253,156.5 254,156.6 255,156.6 256,156.7 257,156.7 258,156.8 259,156.8 260,156.9 261,157 262,157 263,157.1 264,157.2 265,157.2 266,157.3 267,157.4 268,157.5 269,157.6 270,157.7 271,157.8 272,157.9 273,158 274,158.1 275,158.2 276,158.4 277,158.5 278,158.6 279,158.8 280,158.9 281,159.1 282,159.3 283,159.4 284,159.6 285,159.8 286,159.9 287,160.1 288,160.3 289,160.5 290,160.7 291,160.9 292,161.1 293,161.3 294,161.5 295,161.7 296,161.9 297,162.2 298,162.4 299,162.7 300,162.9 301,163.2 302,163.5 303,163.8 304,164.1 305,164.4 306,164.7 307,165 308,165.4 309,165.7 310,166.1 311,166.5 312,166.8 313,167.2 314,167.6 315,168 316,168.4 317,168.8 318,169.3 319,169.8 320,170.3 321,170.9 322,171.5 323,172 324,172.6 325,173.2 326,173.9 327,174.5 328,175.1 329,175.7 330,176.4 331,177 332,177.6 333,178.2 334,178.8 335,179.4 336,180 337,180.6 338,181.3 339,181.9 340,182.5 341,183.1 342,183.8 343,184.4 344,185 345,185.5 346,186.1 347,186.6 348,187.1 349,187.6 350,188 351,188.5 352,189 353,189.4 354,189.8 355,190.2 356,190.6 357,191 358,191.4 359,191.7 360,192.1 361,192.4 362,192.7 363,193 364,193.3 365,193.6 366,193.9 367,194.1 368,194.4 369,194.6 370,194.9 371,195.1 372,195.3 373,195.6 374,195.8 375,196 376,196.2 377,196.4 378,196.6 379,196.8 380,197 381,197.2 382,197.4 383,197.6 384,197.7 385,197.9 386,198.1 387,198.3 388,198.4 389,198.6 390,198.8 391,199 392,199.1 393,199.3 394,199.4 395,199.6 396,199.8 397,199.9 398,200 399,200.2 400,200.3 401,200.5 402,200.6 403,200.7 404,200.8 405,201 406,201.1 407,201.2 408,201.3 409,201.4 410,201.5 411,201.6 412,201.7 413,201.8 414,201.9 415,202 416,202.1 417,202.2 418,202.3 419,202.4 420,202.5 421,202.5 422,202.6 423,202.7 424,202.8 425,202.9 426,203 427,203 428,203.1 429,203.2 430,203.2 431,203.3 432,203.4 433,203.4 434,203.4 435,203.5 436,203.5 437,203.5 438,203.6 439,203.6 440,203.6 441,203.6 442,203.6 443,203.6 444,203.6 445,203.6 446,203.6 447,203.6 448,203.7 449,203.7 450,203.7 451,203.7 452,203.7 453,203.7 454,203.7 455,203.7 456,203.7 457,203.7 458,203.7 459,203.7 460,203.7 461,203.7 462,203.7 463,203.7 464,203.7 465,203.7 466,203.7 467,203.7 468,203.7 469,203.8 470,203.8 471,203.8 472,203.8 473,203.8 474,203.8 475,203.8 476,203.8 477,203.8 478,203.8 479,203.8 480,203.8 481,203.8 482,203.8 483,203.8 484,203.8 485,203.8 486,203.8 487,203.8 488,203.8 489,203.8 490,203.8 491,203.8 492,203.8 493,203.8 494,203.8 495,203.8 496,203.8 497,203.8 498,203.8 499,203.8 499,206.5 498,206.5 497,206.5 496,206.5 495,206.5 494,206.5 493,206.5 492,206.5 491,206.5 490,206.5 489,206.5 488,206.5 487,206.5 486,206.5 485,206.5 484,206.5 483,206.5 482,206.5 481,206.5 480,206.5 479,206.4 478,206.4 477,206.4 476,206.4 475,206.4 474,206.4 473,206.4 472,206.4 471,206.4 470,206.4 469,206.4 468,206.4 467,206.4 466,206.4 465,206.4 464,206.3 463,206.3 462,206.3 461,206.3 460,206.3 459,206.3 458,206.3 457,206.3 456,206.3 455,206.3 454,206.2 453,206.2 452,206.2 451,206.2 450,206.2 449,206.2 448,206.2 447,206.1 446,206.1 445,206.1 444,206.1 443,206 442,206 441,205.9 440,205.9 439,205.8 438,205.8 437,205.7 436,205.7 435,205.6 434,205.6 433,205.5 432,205.4 431,205.4 430,205.3 429,205.2 428,205.2 427,205.1 426,205 425,205 424,204.9 423,204.8 422,204.7 421,204.7 420,204.6 419,204.5 418,204.4 417,204.4 416,204.3 415,204.2 414,204.1 413,204 412,203.9 411,203.8 410,203.7 409,203.6 408,203.5 407,203.4 406,203.3 405,203.2 404,203.1 403,202.9 402,202.8 401,202.7 400,202.6 399,202.4 398,202.3 397,202.2 396,202 395,201.9 394,201.7 393,201.6 392,201.4 391,201.3 390,201.1 389,201 388,200.8 387,200.7 386,200.5 385,200.4 384,200.2 383,200 382,199.8 381,199.7 380,199.5 379,199.3 378,199.1 377,198.9 376,198.7 375,198.5 374,198.3 373,198 372,197.8 371,197.5 370,197.3 369,197 368,196.7 367,196.5 366,196.2 365,195.9 364,195.6 363,195.3 362,195 361,194.8 360,194.5 359,194.2 358,193.9 357,193.6 356,193.3 355,193 354,192.7 353,192.4 352,192.1 351,191.8 350,191.4 349,191.1 348,190.8 347,190.4 346,190.1 345,189.8 344,189.4 343,189.1 342,188.8 341,188.5 340,188.2 339,187.9 338,187.6 337,187.4 336,187.1 335,186.8 334,186.5 333,186.2 332,186 331,185.7 330,185.5 329,185.2 328,184.9 327,184.7 326,184.5 325,184.2 324,184 323,183.8 322,183.6 321,183.4 320,183.2 319,183 318,182.8 317,182.7 316,182.5 315,182.3 314,182.1 313,182 312,181.8 311,181.6 310,181.5 309,181.3 308,181.2 307,181 306,180.9 305,180.7 304,180.6 303,180.5 302,180.4 301,180.2 300,180.1 299,180 298,179.9 297,179.8 296,179.7 295,179.6 294,179.5 293,179.4 292,179.3 291,179.2 290,179.2 289,179.1 288,179 287,178.9 286,178.8 285,178.7 284,178.7 283,178.6 282,178.5 281,178.4 280,178.3 279,178.3 278,178.2 277,178.1 276,178 275,177.9 274,177.9 273,177.8 272,177.7 271,177.7 270,177.6 269,177.5 268,177.5 267,177.4 266,177.3 265,177.3 264,177.2 263,177.2 262,177.1 261,177 260,177 259,176.9 258,176.9 257,176.8 256,176.8 255,176.8 254,176.7 253,176.7 252,176.6 251,176.6 250,176.6 249,176.5 248,176.5 247,176.5 246,176.5 245,176.5 244,176.4 243,176.4 242,176.4 241,176.4 240,176.4 239,176.4 238,176.4 237,176.4 236,176.4 235,176.4 234,176.4 233,176.4 232,176.4 231,176.4 230,176.4 229,176.4 228,176.4 227,176.4 226,176.4 225,176.4 224,176.4 223,176.3 222,176.3 221,176.3 220,176.3 219,176.3 218,176.3 217,176.3 216,176.3 215,176.3 214,176.3 213,176.3 212,176.3 211,176.3 210,176.3 209,176.3 208,176.3 207,176.3 206,176.3 205,176.3 204,176.3 203,176.3 202,176.3 201,176.3 200,176.3 199,176.3 198,176.3 197,176.3 196,176.3 195,176.3 194,176.3 193,176.3 192,176.3 191,176.3 190,176.3 189,176.3 188,176.3 187,176.3 186,176.3 185,176.3 184,176.3Z" fill="#4a8ad6" fill-opacity="0.72"/>
<rect x="184.00" y="155.00" width="12.00" height="21.30" fill="#4a8ad6" />
<rect x="184.00" y="176.30" width="12.00" height="20.20" fill="#2c2a92" />
<rect x="184.00" y="196.50" width="12.00" height="11.00" fill="#f06822" />
<rect x="485.60" y="191.50" width="13.20" height="12.30" fill="#f06822" />
<rect x="485.60" y="203.80" width="13.20" height="2.50" fill="#3e70c8" />
<rect x="485.60" y="206.30" width="13.20" height="1.10" fill="#2c2a92" />
<line x1="184.00" y1="211.40" x2="498.80" y2="211.40" stroke="#333" stroke-width="1.1"/>
<line x1="202.20" y1="211.40" x2="202.20" y2="213.60" stroke="#333" stroke-width="0.9"/>
<line x1="339.60" y1="211.40" x2="339.60" y2="213.60" stroke="#333" stroke-width="0.9"/>
<line x1="477.00" y1="211.40" x2="477.00" y2="213.60" stroke="#333" stroke-width="0.9"/>
<line x1="270.90" y1="211.40" x2="270.90" y2="213.00" stroke="#333" stroke-width="0.8"/>
<line x1="408.30" y1="211.40" x2="408.30" y2="213.00" stroke="#333" stroke-width="0.8"/>
<text x="202.20" y="222.80" font-size="7.7" text-anchor="middle" fill="#222"><tspan>0</tspan></text>
<text x="339.60" y="222.80" font-size="7.7" text-anchor="middle" fill="#222"><tspan>200</tspan></text>
<text x="477.00" y="222.80" font-size="7.7" text-anchor="middle" fill="#222"><tspan>400</tspan></text>
<line x1="190.20" y1="142.00" x2="190.20" y2="148.00" stroke="#111" stroke-width="1.1"/>
<path d="M187.20,145.30 L190.20,146.20 L193.20,145.30 L190.20,152.00 Z" fill="#111"/>
<text x="190.20" y="138.20" font-size="7.7" text-anchor="middle" fill="#222"><tspan>27.7</tspan></text>
<line x1="491.60" y1="178.50" x2="491.60" y2="184.50" stroke="#111" stroke-width="1.1"/>
<path d="M488.60,181.80 L491.60,182.70 L494.60,181.80 L491.60,188.50 Z" fill="#111"/>
<text x="491.60" y="174.00" font-size="7.7" text-anchor="middle" fill="#222"><tspan>17.0</tspan></text>
<rect x="370.50" y="149.20" width="8.30" height="8.40" fill="#5ea2de" />
<text x="382.50" y="155.72" font-size="7.9" fill="#2b2b2b"><tspan font-style="italic">MYD88</tspan><tspan> – L265P</tspan></text>
<rect x="370.50" y="160.30" width="8.30" height="8.40" fill="#4a48aa" />
<text x="382.50" y="166.82" font-size="7.9" fill="#2b2b2b"><tspan font-style="italic">PTPRD</tspan><tspan> – T158P</tspan></text>
<rect x="370.50" y="171.70" width="8.30" height="8.40" fill="#f08e56" />
<text x="382.50" y="178.22" font-size="7.9" fill="#2b2b2b"><tspan font-style="italic">TP53</tspan><tspan> – R248W</tspan></text>
<text x="6.8" y="243.8" font-size="10.6" font-weight="bold" fill="#111" stroke="#111" stroke-width="0.3">C</text>
<text x="17.50" y="275.00" font-size="7.5" font-weight="bold" fill="#1e1e1e"><tspan>MZ03 (SPLENIC)</tspan></text>
<text x="17.50" y="286.00" font-size="7.3" font-style="italic" fill="#555"><tspan>Progressive Disease</tspan></text>
<rect x="19.20" y="293.10" width="81.50" height="8.30" fill="#dedede" />
<line x1="17.20" y1="291.70" x2="198.50" y2="291.70" stroke="#333" stroke-width="1"/>
<line x1="17.20" y1="302.80" x2="198.50" y2="302.80" stroke="#333" stroke-width="1"/>
<line x1="17.20" y1="314.20" x2="198.50" y2="314.20" stroke="#333" stroke-width="1"/>
<line x1="17.20" y1="325.40" x2="198.50" y2="325.40" stroke="#333" stroke-width="1"/>
<line x1="17.20" y1="336.50" x2="198.50" y2="336.50" stroke="#333" stroke-width="1"/>
<line x1="17.20" y1="347.60" x2="198.50" y2="347.60" stroke="#333" stroke-width="1"/>
<line x1="17.20" y1="358.60" x2="198.50" y2="358.60" stroke="#333" stroke-width="1"/>
<line x1="17.20" y1="369.80" x2="198.50" y2="369.80" stroke="#333" stroke-width="1"/>
<line x1="17.70" y1="291.70" x2="17.70" y2="369.80" stroke="#333" stroke-width="1"/>
<line x1="102.20" y1="291.70" x2="102.20" y2="369.80" stroke="#333" stroke-width="1"/>
<line x1="134.40" y1="291.70" x2="134.40" y2="369.80" stroke="#333" stroke-width="1"/>
<line x1="167.10" y1="291.70" x2="167.10" y2="369.80" stroke="#333" stroke-width="1"/>
<line x1="198.00" y1="291.70" x2="198.00" y2="369.80" stroke="#333" stroke-width="1"/>
<text x="59.95" y="299.67" font-size="7.0" text-anchor="middle" fill="#2e2e2e"><tspan>hGE/mL plasma</tspan></text>
<text x="118.30" y="299.67" font-size="7.0" text-anchor="middle" fill="#2e2e2e"><tspan>Day -26</tspan></text>
<text x="150.75" y="299.67" font-size="7.0" text-anchor="middle" fill="#2e2e2e"><tspan>Day 86</tspan></text>
<text x="182.55" y="299.67" font-size="7.0" text-anchor="middle" fill="#2e2e2e"><tspan>Day 127</tspan></text>
<text x="59.95" y="310.92" font-size="7.0" text-anchor="middle" fill="#2e2e2e"><tspan font-style="italic" fill="#d01f2c">BTK</tspan><tspan fill="#d01f2c"> – E41K</tspan></text>
<text x="118.30" y="310.92" font-size="7.0" text-anchor="middle" fill="#2e2e2e"><tspan>504.0</tspan></text>
<text x="150.75" y="310.92" font-size="7.0" text-anchor="middle" fill="#2e2e2e"><tspan>83.1</tspan></text>
<text x="182.55" y="310.92" font-size="7.0" text-anchor="middle" fill="#2e2e2e"><tspan>449.1</tspan></text>
<text x="59.95" y="322.21" font-size="7.0" text-anchor="middle" fill="#2e2e2e"><tspan font-style="italic" fill="#d01f2c">BTK</tspan><tspan fill="#d01f2c"> – C481Y</tspan></text>
<text x="118.30" y="322.21" font-size="7.0" text-anchor="middle" fill="#2e2e2e"><tspan font-style="italic">BD</tspan></text>
<text x="150.75" y="322.21" font-size="7.0" text-anchor="middle" fill="#2e2e2e"><tspan>11.4</tspan></text>
<text x="182.55" y="322.21" font-size="7.0" text-anchor="middle" fill="#2e2e2e"><tspan>8.9</tspan></text>
<text x="59.95" y="333.37" font-size="7.0" text-anchor="middle" fill="#2e2e2e"><tspan font-style="italic" fill="#d01f2c">BTK</tspan><tspan fill="#d01f2c"> – C481F</tspan></text>
<text x="118.30" y="333.37" font-size="7.0" text-anchor="middle" fill="#2e2e2e"><tspan font-style="italic">BD</tspan></text>
<text x="150.75" y="333.37" font-size="7.0" text-anchor="middle" fill="#2e2e2e"><tspan>2.2</tspan></text>
<text x="182.55" y="333.37" font-size="7.0" text-anchor="middle" fill="#2e2e2e"><tspan>63.3</tspan></text>
<text x="59.95" y="344.47" font-size="7.0" text-anchor="middle" fill="#2e2e2e"><tspan font-style="italic">TNFAIP3</tspan><tspan> – W238*</tspan></text>
<text x="118.30" y="344.47" font-size="7.0" text-anchor="middle" fill="#2e2e2e"><tspan>449.9</tspan></text>
<text x="150.75" y="344.47" font-size="7.0" text-anchor="middle" fill="#2e2e2e"><tspan>59.2</tspan></text>
<text x="182.55" y="344.47" font-size="7.0" text-anchor="middle" fill="#2e2e2e"><tspan>237.2</tspan></text>
<text x="59.95" y="355.52" font-size="7.0" text-anchor="middle" fill="#2e2e2e"><tspan font-style="italic">TNFAIP3</tspan><tspan> – E408SE..P*</tspan></text>
<text x="118.30" y="355.52" font-size="7.0" text-anchor="middle" fill="#2e2e2e"><tspan>438.1</tspan></text>
<text x="150.75" y="355.52" font-size="7.0" text-anchor="middle" fill="#2e2e2e"><tspan>45.1</tspan></text>
<text x="182.55" y="355.52" font-size="7.0" text-anchor="middle" fill="#2e2e2e"><tspan>471.2</tspan></text>
<text x="59.95" y="366.62" font-size="7.0" text-anchor="middle" fill="#2e2e2e"><tspan font-style="italic">KMT2D</tspan><tspan> – S816LfsTer114</tspan></text>
<text x="118.30" y="366.62" font-size="7.0" text-anchor="middle" fill="#2e2e2e"><tspan>497.4</tspan></text>
<text x="150.75" y="366.62" font-size="7.0" text-anchor="middle" fill="#2e2e2e"><tspan>78.9</tspan></text>
<text x="182.55" y="366.62" font-size="7.0" text-anchor="middle" fill="#2e2e2e"><tspan>379.5</tspan></text>
<rect x="121.00" y="249.70" width="8.70" height="8.40" fill="#d48ccc" />
<text x="133.30" y="256.22" font-size="7.9" fill="#2b2b2b"><tspan font-style="italic">PTPRD</tspan><tspan> – V1596F</tspan></text>
<rect x="121.00" y="261.20" width="8.70" height="8.40" fill="#72c8f0" />
<text x="133.30" y="267.72" font-size="7.9" fill="#2b2b2b"><tspan font-style="italic">KLF2</tspan><tspan> – R259C</tspan></text>
<rect x="203.80" y="249.70" width="8.70" height="8.40" fill="#9c72c2" />
<text x="215.50" y="256.22" font-size="7.9" fill="#2b2b2b"><tspan font-style="italic">CCND3</tspan><tspan>  – Q276*</tspan></text>
<rect x="203.80" y="261.20" width="8.70" height="8.40" fill="#4cbfaa" />
<text x="215.50" y="267.72" font-size="7.9" fill="#2b2b2b"><tspan font-style="italic">KMT2D</tspan><tspan> – S816LfsTer114</tspan></text>
<rect x="306.20" y="249.70" width="8.70" height="8.40" fill="#e8a2d6" />
<text x="318.00" y="256.22" font-size="7.9" fill="#2b2b2b"><tspan font-style="italic">SPEN</tspan><tspan> – R620*</tspan></text>
<rect x="306.20" y="261.20" width="8.70" height="8.40" fill="#42409e" />
<text x="318.00" y="267.72" font-size="7.9" fill="#2b2b2b"><tspan font-style="italic" fill="#d01f2c">BTK</tspan><tspan fill="#d01f2c"> – E41K</tspan></text>
<rect x="278.20" y="272.90" width="8.70" height="8.40" fill="#f2a2aa" />
<text x="290.40" y="279.42" font-size="7.9" fill="#2b2b2b"><tspan font-style="italic">TNFAIP3</tspan><tspan> – E408SE..P*</tspan></text>
<rect x="374.20" y="249.70" width="8.70" height="8.40" fill="#f8be8a" />
<text x="386.00" y="256.22" font-size="7.9" fill="#2b2b2b"><tspan font-style="italic">KLF2</tspan><tspan> – H329Q</tspan></text>
<rect x="374.20" y="261.20" width="8.70" height="8.40" fill="#3a9cb2" />
<text x="386.00" y="267.72" font-size="7.9" fill="#2b2b2b"><tspan font-style="italic">FAT4</tspan><tspan> – A4513T</tspan></text>
<rect x="374.20" y="272.90" width="8.70" height="8.40" fill="#dab832" />
<text x="386.00" y="279.42" font-size="7.9" fill="#2b2b2b"><tspan font-style="italic">TNFAIP3</tspan><tspan> – W238*</tspan></text>
<rect x="444.20" y="249.70" width="8.70" height="8.40" fill="#5cb862" />
<text x="455.90" y="256.22" font-size="7.9" fill="#2b2b2b"><tspan font-style="italic">KLF2</tspan><tspan> – S192F</tspan></text>
<path d="M330,332.5 331,333.4 332,334.2 333,335 334,335.8 335,336.6 336,337.3 337,338 338,338.7 339,339.4 340,340 341,340.6 342,341.3 343,341.9 344,342.6 345,343.2 346,343.8 347,344.3 348,344.8 349,345.2 350,345.6 351,345.9 352,346.2 353,346.5 354,346.8 355,347.1 356,347.4 357,347.7 358,347.9 359,348.1 360,348.4 361,348.6 362,348.8 363,348.9 364,349.1 365,349.3 366,349.4 367,349.5 368,349.6 369,349.7 370,349.8 371,349.8 372,349.9 373,350 374,350 375,350.1 376,350.1 377,350.2 378,350.2 379,350.3 380,350.3 381,350.4 382,350.4 383,350.5 384,350.5 385,350.5 386,350.6 387,350.6 388,350.6 389,350.7 390,350.7 391,350.7 392,350.8 393,350.8 394,350.8 395,350.9 396,350.9 397,350.9 398,350.9 399,351 400,351 401,351 402,351.1 403,351.1 404,351.1 405,351.2 406,351.2 407,351.2 408,351.2 409,351.3 410,351.3 411,351.3 412,351.4 413,351.4 414,351.4 415,351.4 416,351.4 417,351.5 418,351.5 419,351.5 420,351.5 421,351.5 422,351.5 423,351.5 424,351.5 425,351.5 426,351.5 427,351.5 428,351.5 429,351.5 430,351.5 431,351.5 432,351.5 433,351.5 434,351.5 435,351.5 436,351.5 437,351.5 438,351.5 439,351.5 440,351.5 441,351.5 442,351.5 443,351.5 444,351.5 445,351.5 446,351.5 447,351.5 448,351.5 449,351.5 450,351.4 451,351.2 452,351 453,350.8 454,350.5 455,350 456,349.1 457,347.9 458,346.5 459,345 460,343.2 461,341 462,338.3 463,334.5 464,329.1 465,323.7 466,318.3 466,326.9 465,331.3 464,335.7 463,340 462,343.1 461,345.3 460,347.1 459,348.5 458,349.7 457,350.9 456,351.8 455,352.6 454,353 453,353.2 452,353.4 451,353.6 450,353.7 449,353.8 448,353.8 447,353.8 446,353.8 445,353.8 444,353.8 443,353.8 442,353.8 441,353.8 440,353.8 439,353.8 438,353.8 437,353.8 436,353.8 435,353.8 434,353.8 433,353.8 432,353.8 431,353.8 430,353.8 429,353.8 428,353.8 427,353.8 426,353.8 425,353.8 424,353.8 423,353.8 422,353.8 421,353.8 420,353.8 419,353.8 418,353.8 417,353.8 416,353.8 415,353.7 414,353.7 413,353.7 412,353.7 411,353.7 410,353.6 409,353.6 408,353.6 407,353.6 406,353.5 405,353.5 404,353.5 403,353.5 402,353.4 401,353.4 400,353.4 399,353.4 398,353.3 397,353.3 396,353.3 395,353.3 394,353.3 393,353.2 392,353.2 391,353.2 390,353.2 389,353.1 388,353.1 387,353.1 386,353.1 385,353 384,353 383,353 382,352.9 381,352.9 380,352.9 379,352.8 378,352.8 377,352.7 376,352.7 375,352.7 374,352.6 373,352.6 372,352.5 371,352.5 370,352.4 369,352.3 368,352.3 367,352.2 366,352.1 365,352 364,351.9 363,351.7 362,351.6 361,351.4 360,351.3 359,351.1 358,350.9 357,350.7 356,350.5 355,350.2 354,350 353,349.8 352,349.5 351,349.3 350,349 349,348.7 348,348.4 347,348 346,347.5 345,347.1 344,346.6 343,346 342,345.5 341,345 340,344.5 339,343.9 338,343.4 337,342.8 336,342.3 335,341.7 334,341.1 333,340.4 332,339.8 331,339.1 330,338.4Z" fill="#79aea0"/>
<path d="M330,338.4 331,339.1 332,339.8 333,340.4 334,341.1 335,341.7 336,342.3 337,342.8 338,343.4 339,343.9 340,344.5 341,345 342,345.5 343,346 344,346.6 345,347.1 346,347.5 347,348 348,348.4 349,348.7 350,349 351,349.3 352,349.5 353,349.8 354,350 355,350.2 356,350.5 357,350.7 358,350.9 359,351.1 360,351.3 361,351.4 362,351.6 363,351.7 364,351.9 365,352 366,352.1 367,352.2 368,352.3 369,352.3 370,352.4 371,352.5 372,352.5 373,352.6 374,352.6 375,352.7 376,352.7 377,352.7 378,352.8 379,352.8 380,352.9 381,352.9 382,352.9 383,353 384,353 385,353 386,353.1 387,353.1 388,353.1 389,353.1 390,353.2 391,353.2 392,353.2 393,353.2 394,353.3 395,353.3 396,353.3 397,353.3 398,353.3 399,353.4 400,353.4 401,353.4 402,353.4 403,353.5 404,353.5 405,353.5 406,353.5 407,353.6 408,353.6 409,353.6 410,353.6 411,353.7 412,353.7 413,353.7 414,353.7 415,353.7 416,353.8 417,353.8 418,353.8 419,353.8 420,353.8 421,353.8 422,353.8 423,353.8 424,353.8 425,353.8 426,353.8 427,353.8 428,353.8 429,353.8 430,353.8 431,353.8 432,353.8 433,353.8 434,353.8 435,353.8 436,353.8 437,353.8 438,353.8 439,353.8 440,353.8 441,353.8 442,353.8 443,353.8 444,353.8 445,353.8 446,353.8 447,353.8 448,353.8 449,353.8 450,353.7 451,353.6 452,353.4 453,353.2 454,353 455,352.6 456,351.8 457,350.9 458,349.7 459,348.5 460,347.1 461,345.3 462,343.1 463,340 464,335.7 465,331.3 466,326.9 466,334.3 465,337.8 464,341.3 463,344.8 462,347.2 461,349 460,350.4 459,351.6 458,352.6 457,353.5 456,354.2 455,354.8 454,355.2 453,355.3 452,355.5 451,355.6 450,355.7 449,355.8 448,355.8 447,355.8 446,355.8 445,355.8 444,355.8 443,355.8 442,355.8 441,355.8 440,355.8 439,355.8 438,355.8 437,355.8 436,355.8 435,355.8 434,355.8 433,355.8 432,355.8 431,355.8 430,355.8 429,355.8 428,355.8 427,355.8 426,355.8 425,355.8 424,355.8 423,355.8 422,355.8 421,355.8 420,355.8 419,355.8 418,355.8 417,355.8 416,355.8 415,355.8 414,355.7 413,355.7 412,355.7 411,355.7 410,355.7 409,355.7 408,355.6 407,355.6 406,355.6 405,355.6 404,355.6 403,355.5 402,355.5 401,355.5 400,355.5 399,355.5 398,355.4 397,355.4 396,355.4 395,355.4 394,355.4 393,355.3 392,355.3 391,355.3 390,355.3 389,355.3 388,355.2 387,355.2 386,355.2 385,355.2 384,355.2 383,355.1 382,355.1 381,355.1 380,355 379,355 378,355 377,355 376,354.9 375,354.9 374,354.8 373,354.8 372,354.8 371,354.7 370,354.7 369,354.6 368,354.6 367,354.5 366,354.4 365,354.4 364,354.3 363,354.1 362,354 361,353.9 360,353.8 359,353.6 358,353.5 357,353.3 356,353.1 355,353 354,352.8 353,352.6 352,352.4 351,352.2 350,352 349,351.7 348,351.5 347,351.1 346,350.8 345,350.4 344,350 343,349.6 342,349.2 341,348.8 340,348.4 339,347.9 338,347.5 337,347.1 336,346.6 335,346.1 334,345.6 333,345.1 332,344.6 331,344.1 330,343.5Z" fill="#83bcd0"/>
<path d="M330,343.5 331,344.1 332,344.6 333,345.1 334,345.6 335,346.1 336,346.6 337,347.1 338,347.5 339,347.9 340,348.4 341,348.8 342,349.2 343,349.6 344,350 345,350.4 346,350.8 347,351.1 348,351.5 349,351.7 350,352 351,352.2 352,352.4 353,352.6 354,352.8 355,353 356,353.1 357,353.3 358,353.5 359,353.6 360,353.8 361,353.9 362,354 363,354.1 364,354.3 365,354.4 366,354.4 367,354.5 368,354.6 369,354.6 370,354.7 371,354.7 372,354.8 373,354.8 374,354.8 375,354.9 376,354.9 377,355 378,355 379,355 380,355 381,355.1 382,355.1 383,355.1 384,355.2 385,355.2 386,355.2 387,355.2 388,355.2 389,355.3 390,355.3 391,355.3 392,355.3 393,355.3 394,355.4 395,355.4 396,355.4 397,355.4 398,355.4 399,355.5 400,355.5 401,355.5 402,355.5 403,355.5 404,355.6 405,355.6 406,355.6 407,355.6 408,355.6 409,355.7 410,355.7 411,355.7 412,355.7 413,355.7 414,355.7 415,355.8 416,355.8 417,355.8 418,355.8 419,355.8 420,355.8 421,355.8 422,355.8 423,355.8 424,355.8 425,355.8 426,355.8 427,355.8 428,355.8 429,355.8 430,355.8 431,355.8 432,355.8 433,355.8 434,355.8 435,355.8 436,355.8 437,355.8 438,355.8 439,355.8 440,355.8 441,355.8 442,355.8 443,355.8 444,355.8 445,355.8 446,355.8 447,355.8 448,355.8 449,355.8 450,355.7 451,355.6 452,355.5 453,355.3 454,355.2 455,354.8 456,354.2 457,353.5 458,352.6 459,351.6 460,350.4 461,349 462,347.2 463,344.8 464,341.3 465,337.8 466,334.3 466,342.5 465,345 464,347.6 463,350.1 462,351.8 461,353.1 460,354.1 459,355 458,355.7 457,356.3 456,356.9 455,357.3 454,357.5 453,357.7 452,357.8 451,357.9 450,357.9 449,358 448,358 447,358 446,358 445,358 444,358 443,358 442,358 441,358 440,358 439,358 438,358 437,358 436,358 435,358 434,358 433,358 432,358 431,358 430,358 429,358 428,358 427,358 426,358 425,358 424,358 423,358 422,358 421,358 420,358 419,358 418,358 417,358 416,358 415,358 414,358 413,357.9 412,357.9 411,357.9 410,357.9 409,357.9 408,357.9 407,357.9 406,357.9 405,357.8 404,357.8 403,357.8 402,357.8 401,357.8 400,357.8 399,357.8 398,357.7 397,357.7 396,357.7 395,357.7 394,357.7 393,357.7 392,357.7 391,357.6 390,357.6 389,357.6 388,357.6 387,357.6 386,357.6 385,357.6 384,357.5 383,357.5 382,357.5 381,357.5 380,357.5 379,357.4 378,357.4 377,357.4 376,357.4 375,357.3 374,357.3 373,357.3 372,357.3 371,357.2 370,357.2 369,357.2 368,357.1 367,357.1 366,357 365,357 364,356.9 363,356.8 362,356.7 361,356.6 360,356.5 359,356.4 358,356.3 357,356.2 356,356.1 355,356 354,355.8 353,355.7 352,355.5 351,355.4 350,355.2 349,355.1 348,354.9 347,354.6 346,354.4 345,354.1 344,353.8 343,353.5 342,353.2 341,352.9 340,352.6 339,352.3 338,352 337,351.7 336,351.4 335,351 334,350.7 333,350.3 332,349.9 331,349.5 330,349.1Z" fill="#ecb3b3"/>
<path d="M330,349.1 331,349.5 332,349.9 333,350.3 334,350.7 335,351 336,351.4 337,351.7 338,352 339,352.3 340,352.6 341,352.9 342,353.2 343,353.5 344,353.8 345,354.1 346,354.4 347,354.6 348,354.9 349,355.1 350,355.2 351,355.4 352,355.5 353,355.7 354,355.8 355,356 356,356.1 357,356.2 358,356.3 359,356.4 360,356.5 361,356.6 362,356.7 363,356.8 364,356.9 365,357 366,357 367,357.1 368,357.1 369,357.2 370,357.2 371,357.2 372,357.3 373,357.3 374,357.3 375,357.3 376,357.4 377,357.4 378,357.4 379,357.4 380,357.5 381,357.5 382,357.5 383,357.5 384,357.5 385,357.6 386,357.6 387,357.6 388,357.6 389,357.6 390,357.6 391,357.6 392,357.7 393,357.7 394,357.7 395,357.7 396,357.7 397,357.7 398,357.7 399,357.8 400,357.8 401,357.8 402,357.8 403,357.8 404,357.8 405,357.8 406,357.9 407,357.9 408,357.9 409,357.9 410,357.9 411,357.9 412,357.9 413,357.9 414,358 415,358 416,358 417,358 418,358 419,358 420,358 421,358 422,358 423,358 424,358 425,358 426,358 427,358 428,358 429,358 430,358 431,358 432,358 433,358 434,358 435,358 436,358 437,358 438,358 439,358 440,358 441,358 442,358 443,358 444,358 445,358 446,358 447,358 448,358 449,358 450,357.9 451,357.9 452,357.8 453,357.7 454,357.5 455,357.3 456,356.9 457,356.3 458,355.7 459,355 460,354.1 461,353.1 462,351.8 463,350.1 464,347.6 465,345 466,342.5 466,350.7 465,352.2 464,353.8 463,355.3 462,356.4 461,357.2 460,357.8 459,358.3 458,358.8 457,359.2 456,359.5 455,359.8 454,359.9 453,360 452,360.1 451,360.1 450,360.2 449,360.2 448,360.2 447,360.2 446,360.2 445,360.2 444,360.2 443,360.2 442,360.2 441,360.2 440,360.2 439,360.2 438,360.2 437,360.2 436,360.2 435,360.2 434,360.2 433,360.2 432,360.2 431,360.2 430,360.2 429,360.2 428,360.2 427,360.2 426,360.2 425,360.2 424,360.2 423,360.2 422,360.2 421,360.2 420,360.2 419,360.2 418,360.2 417,360.2 416,360.2 415,360.2 414,360.2 413,360.2 412,360.2 411,360.2 410,360.1 409,360.1 408,360.1 407,360.1 406,360.1 405,360.1 404,360.1 403,360.1 402,360.1 401,360.1 400,360.1 399,360 398,360 397,360 396,360 395,360 394,360 393,360 392,360 391,360 390,360 389,360 388,360 387,359.9 386,359.9 385,359.9 384,359.9 383,359.9 382,359.9 381,359.9 380,359.9 379,359.9 378,359.8 377,359.8 376,359.8 375,359.8 374,359.8 373,359.8 372,359.7 371,359.7 370,359.7 369,359.7 368,359.7 367,359.6 366,359.6 365,359.6 364,359.5 363,359.5 362,359.4 361,359.4 360,359.3 359,359.2 358,359.2 357,359.1 356,359 355,358.9 354,358.9 353,358.8 352,358.7 351,358.6 350,358.5 349,358.4 348,358.3 347,358.1 346,358 345,357.8 344,357.6 343,357.5 342,357.3 341,357.1 340,356.9 339,356.7 338,356.5 337,356.3 336,356.1 335,355.9 334,355.7 333,355.5 332,355.2 331,355 330,354.7Z" fill="#8396bc"/>
<path d="M330,354.7 331,355 332,355.2 333,355.5 334,355.7 335,355.9 336,356.1 337,356.3 338,356.5 339,356.7 340,356.9 341,357.1 342,357.3 343,357.5 344,357.6 345,357.8 346,358 347,358.1 348,358.3 349,358.4 350,358.5 351,358.6 352,358.7 353,358.8 354,358.9 355,358.9 356,359 357,359.1 358,359.2 359,359.2 360,359.3 361,359.4 362,359.4 363,359.5 364,359.5 365,359.6 366,359.6 367,359.6 368,359.7 369,359.7 370,359.7 371,359.7 372,359.7 373,359.8 374,359.8 375,359.8 376,359.8 377,359.8 378,359.8 379,359.9 380,359.9 381,359.9 382,359.9 383,359.9 384,359.9 385,359.9 386,359.9 387,359.9 388,360 389,360 390,360 391,360 392,360 393,360 394,360 395,360 396,360 397,360 398,360 399,360 400,360.1 401,360.1 402,360.1 403,360.1 404,360.1 405,360.1 406,360.1 407,360.1 408,360.1 409,360.1 410,360.1 411,360.2 412,360.2 413,360.2 414,360.2 415,360.2 416,360.2 417,360.2 418,360.2 419,360.2 420,360.2 421,360.2 422,360.2 423,360.2 424,360.2 425,360.2 426,360.2 427,360.2 428,360.2 429,360.2 430,360.2 431,360.2 432,360.2 433,360.2 434,360.2 435,360.2 436,360.2 437,360.2 438,360.2 439,360.2 440,360.2 441,360.2 442,360.2 443,360.2 444,360.2 445,360.2 446,360.2 447,360.2 448,360.2 449,360.2 450,360.2 451,360.1 452,360.1 453,360 454,359.9 455,359.8 456,359.5 457,359.2 458,358.8 459,358.3 460,357.8 461,357.2 462,356.4 463,355.3 464,353.8 465,352.2 466,350.7 466,357.4 465,358.1 464,358.9 463,359.6 462,360.2 461,360.5 460,360.8 459,361.1 458,361.3 457,361.5 456,361.7 455,361.8 454,361.9 453,361.9 452,361.9 451,362 450,362 449,362 448,362 447,362 446,362 445,362 444,362 443,362 442,362 441,362 440,362 439,362 438,362 437,362 436,362 435,362 434,362 433,362 432,362 431,362 430,362 429,362 428,362 427,362 426,362 425,362 424,362 423,362 422,362 421,362 420,362 419,362 418,362 417,362 416,362 415,362 414,362 413,362 412,362 411,362 410,362 409,362 408,362 407,362 406,362 405,362 404,361.9 403,361.9 402,361.9 401,361.9 400,361.9 399,361.9 398,361.9 397,361.9 396,361.9 395,361.9 394,361.9 393,361.9 392,361.9 391,361.9 390,361.9 389,361.9 388,361.9 387,361.9 386,361.9 385,361.9 384,361.9 383,361.9 382,361.9 381,361.8 380,361.8 379,361.8 378,361.8 377,361.8 376,361.8 375,361.8 374,361.8 373,361.8 372,361.8 371,361.8 370,361.8 369,361.7 368,361.7 367,361.7 366,361.7 365,361.7 364,361.7 363,361.6 362,361.6 361,361.6 360,361.6 359,361.5 358,361.5 357,361.5 356,361.4 355,361.4 354,361.3 353,361.3 352,361.3 351,361.2 350,361.2 349,361.1 348,361.1 347,361 346,360.9 345,360.8 344,360.8 343,360.7 342,360.6 341,360.5 340,360.4 339,360.3 338,360.2 337,360.1 336,360 335,359.9 334,359.8 333,359.7 332,359.6 331,359.5 330,359.4Z" fill="#a0d9a9"/>
<path d="M330,359.4 331,359.5 332,359.6 333,359.7 334,359.8 335,359.9 336,360 337,360.1 338,360.2 339,360.3 340,360.4 341,360.5 342,360.6 343,360.7 344,360.8 345,360.8 346,360.9 347,361 348,361.1 349,361.1 350,361.2 351,361.2 352,361.3 353,361.3 354,361.3 355,361.4 356,361.4 357,361.5 358,361.5 359,361.5 360,361.6 361,361.6 362,361.6 363,361.6 364,361.7 365,361.7 366,361.7 367,361.7 368,361.7 369,361.7 370,361.8 371,361.8 372,361.8 373,361.8 374,361.8 375,361.8 376,361.8 377,361.8 378,361.8 379,361.8 380,361.8 381,361.8 382,361.9 383,361.9 384,361.9 385,361.9 386,361.9 387,361.9 388,361.9 389,361.9 390,361.9 391,361.9 392,361.9 393,361.9 394,361.9 395,361.9 396,361.9 397,361.9 398,361.9 399,361.9 400,361.9 401,361.9 402,361.9 403,361.9 404,361.9 405,362 406,362 407,362 408,362 409,362 410,362 411,362 412,362 413,362 414,362 415,362 416,362 417,362 418,362 419,362 420,362 421,362 422,362 423,362 424,362 425,362 426,362 427,362 428,362 429,362 430,362 431,362 432,362 433,362 434,362 435,362 436,362 437,362 438,362 439,362 440,362 441,362 442,362 443,362 444,362 445,362 446,362 447,362 448,362 449,362 450,362 451,362 452,361.9 453,361.9 454,361.9 455,361.8 456,361.7 457,361.5 458,361.3 459,361.1 460,360.8 461,360.5 462,360.2 463,359.6 464,358.9 465,358.1 466,357.4 466,363.7 465,363.7 464,363.7 463,363.7 462,363.7 461,363.7 460,363.7 459,363.7 458,363.7 457,363.7 456,363.7 455,363.7 454,363.7 453,363.7 452,363.7 451,363.7 450,363.7 449,363.7 448,363.7 447,363.7 446,363.7 445,363.7 444,363.7 443,363.7 442,363.7 441,363.7 440,363.7 439,363.7 438,363.7 437,363.7 436,363.7 435,363.7 434,363.7 433,363.7 432,363.7 431,363.7 430,363.7 429,363.7 428,363.7 427,363.7 426,363.7 425,363.7 424,363.7 423,363.7 422,363.7 421,363.7 420,363.7 419,363.7 418,363.7 417,363.7 416,363.7 415,363.7 414,363.7 413,363.7 412,363.7 411,363.7 410,363.7 409,363.7 408,363.7 407,363.7 406,363.7 405,363.7 404,363.7 403,363.7 402,363.7 401,363.7 400,363.7 399,363.7 398,363.7 397,363.7 396,363.7 395,363.7 394,363.7 393,363.7 392,363.7 391,363.7 390,363.7 389,363.7 388,363.7 387,363.7 386,363.7 385,363.7 384,363.7 383,363.7 382,363.7 381,363.7 380,363.7 379,363.7 378,363.7 377,363.7 376,363.7 375,363.7 374,363.7 373,363.7 372,363.7 371,363.7 370,363.7 369,363.7 368,363.7 367,363.7 366,363.7 365,363.7 364,363.7 363,363.7 362,363.7 361,363.7 360,363.7 359,363.7 358,363.7 357,363.7 356,363.7 355,363.7 354,363.7 353,363.7 352,363.7 351,363.7 350,363.7 349,363.7 348,363.7 347,363.7 346,363.7 345,363.7 344,363.7 343,363.7 342,363.7 341,363.7 340,363.7 339,363.7 338,363.7 337,363.7 336,363.7 335,363.7 334,363.7 333,363.7 332,363.7 331,363.7 330,363.7Z" fill="#f6c6d0"/>
<linearGradient id="gmCL" gradientUnits="userSpaceOnUse" x1="338" x2="372" y1="0" y2="0"><stop offset="0" stop-color="#fff"/><stop offset="1" stop-color="#000"/></linearGradient><mask id="mCL" maskUnits="userSpaceOnUse" x="0" y="0" width="520" height="638"><rect x="0" y="0" width="520" height="638" fill="url(#gmCL)"/></mask>
<g mask="url(#mCL)">
<path d="M209,295.5 210,295.5 211,295.5 212,295.5 213,295.5 214,295.5 215,295.5 216,295.6 217,295.6 218,295.6 219,295.6 220,295.6 221,295.6 222,295.6 223,295.7 224,295.7 225,295.7 226,295.7 227,295.7 228,295.8 229,295.8 230,295.8 231,295.8 232,295.8 233,295.9 234,295.9 235,295.9 236,296 237,296 238,296 239,296 240,296.1 241,296.1 242,296.2 243,296.2 244,296.2 245,296.3 246,296.3 247,296.4 248,296.4 249,296.5 250,296.5 251,296.6 252,296.6 253,296.7 254,296.7 255,296.8 256,296.8 257,296.9 258,297 259,297 260,297.1 261,297.2 262,297.2 263,297.3 264,297.4 265,297.4 266,297.5 267,297.6 268,297.7 269,297.7 270,297.8 271,297.9 272,298 273,298.1 274,298.2 275,298.4 276,298.5 277,298.6 278,298.8 279,298.9 280,299.1 281,299.3 282,299.4 283,299.6 284,299.8 285,300 286,300.2 287,300.4 288,300.7 289,300.9 290,301.2 291,301.6 292,301.9 293,302.3 294,302.7 295,303.2 296,303.6 297,304.1 298,304.5 299,305 300,305.5 301,306 302,306.5 303,307 304,307.6 305,308.2 306,308.9 307,309.6 308,310.3 309,311.2 310,312.1 311,313 312,314 313,315 314,316 315,317 316,318 317,318.9 318,319.9 319,320.9 320,322 321,323 322,324 323,325.1 324,326.2 325,327.3 326,328.4 327,329.5 328,330.6 329,331.6 330,332.5 331,333.4 332,334.2 333,335 334,335.8 335,336.6 336,337.3 337,338 338,338.7 339,339.4 340,340 341,340.6 342,341.3 343,341.9 344,342.6 345,343.2 346,343.8 347,344.3 348,344.8 349,345.2 350,345.6 351,345.9 352,346.2 353,346.5 354,346.8 355,347.1 356,347.4 357,347.7 358,347.9 359,348.1 360,348.4 361,348.6 362,348.8 363,348.9 364,349.1 365,349.3 366,349.4 367,349.5 368,349.6 369,349.7 370,349.8 371,349.8 372,349.9 373,350 373,351.3 372,351.3 371,351.2 370,351.2 369,351.1 368,351 367,350.9 366,350.8 365,350.7 364,350.5 363,350.4 362,350.2 361,350 360,349.8 359,349.6 358,349.4 357,349.1 356,348.9 355,348.6 354,348.3 353,348 352,347.7 351,347.4 350,347.1 349,346.7 348,346.3 347,345.8 346,345.3 345,344.8 344,344.2 343,343.6 342,343 341,342.3 340,341.7 339,341.1 338,340.5 337,339.8 336,339.2 335,338.5 334,337.8 333,337 332,336.3 331,335.5 330,334.7 329,333.9 328,333 327,332 326,331 325,330 324,329 323,328 322,327.1 321,326.2 320,325.3 319,324.4 318,323.6 317,322.7 316,321.9 315,321 314,320.2 313,319.3 312,318.5 311,317.6 310,316.8 309,316.1 308,315.3 307,314.7 306,314.1 305,313.6 304,313.1 303,312.6 302,312.1 301,311.7 300,311.3 299,310.8 298,310.4 297,310 296,309.6 295,309.2 294,308.8 293,308.5 292,308.1 291,307.8 290,307.5 289,307.3 288,307 287,306.8 286,306.6 285,306.5 284,306.3 283,306.1 282,305.9 281,305.8 280,305.6 279,305.5 278,305.3 277,305.2 276,305.1 275,305 274,304.9 273,304.8 272,304.7 271,304.6 270,304.5 269,304.4 268,304.3 267,304.3 266,304.2 265,304.1 264,304.1 263,304 262,303.9 261,303.9 260,303.8 259,303.8 258,303.7 257,303.7 256,303.6 255,303.5 254,303.5 253,303.4 252,303.4 251,303.4 250,303.3 249,303.3 248,303.2 247,303.2 246,303.1 245,303.1 244,303.1 243,303 242,303 241,303 240,302.9 239,302.9 238,302.9 237,302.8 236,302.8 235,302.8 234,302.8 233,302.7 232,302.7 231,302.7 230,302.7 229,302.7 228,302.6 227,302.6 226,302.6 225,302.6 224,302.6 223,302.5 222,302.5 221,302.5 220,302.5 219,302.5 218,302.5 217,302.5 216,302.4 215,302.4 214,302.4 213,302.4 212,302.4 211,302.4 210,302.4 209,302.4Z" fill="#cd82c2"/>
<path d="M209,302.4 210,302.4 211,302.4 212,302.4 213,302.4 214,302.4 215,302.4 216,302.4 217,302.5 218,302.5 219,302.5 220,302.5 221,302.5 222,302.5 223,302.5 224,302.6 225,302.6 226,302.6 227,302.6 228,302.6 229,302.7 230,302.7 231,302.7 232,302.7 233,302.7 234,302.8 235,302.8 236,302.8 237,302.8 238,302.9 239,302.9 240,302.9 241,303 242,303 243,303 244,303.1 245,303.1 246,303.1 247,303.2 248,303.2 249,303.3 250,303.3 251,303.4 252,303.4 253,303.4 254,303.5 255,303.5 256,303.6 257,303.7 258,303.7 259,303.8 260,303.8 261,303.9 262,303.9 263,304 264,304.1 265,304.1 266,304.2 267,304.3 268,304.3 269,304.4 270,304.5 271,304.6 272,304.7 273,304.8 274,304.9 275,305 276,305.1 277,305.2 278,305.3 279,305.5 280,305.6 281,305.8 282,305.9 283,306.1 284,306.3 285,306.5 286,306.6 287,306.8 288,307 289,307.3 290,307.5 291,307.8 292,308.1 293,308.5 294,308.8 295,309.2 296,309.6 297,310 298,310.4 299,310.8 300,311.3 301,311.7 302,312.1 303,312.6 304,313.1 305,313.6 306,314.1 307,314.7 308,315.3 309,316.1 310,316.8 311,317.6 312,318.5 313,319.3 314,320.2 315,321 316,321.9 317,322.7 318,323.6 319,324.4 320,325.3 321,326.2 322,327.1 323,328 324,329 325,330 326,331 327,332 328,333 329,333.9 330,334.7 331,335.5 332,336.3 333,337 334,337.8 335,338.5 336,339.2 337,339.8 338,340.5 339,341.1 340,341.7 341,342.3 342,343 343,343.6 344,344.2 345,344.8 346,345.3 347,345.8 348,346.3 349,346.7 350,347.1 351,347.4 352,347.7 353,348 354,348.3 355,348.6 356,348.9 357,349.1 358,349.4 359,349.6 360,349.8 361,350 362,350.2 363,350.4 364,350.5 365,350.7 366,350.8 367,350.9 368,351 369,351.1 370,351.2 371,351.2 372,351.3 373,351.3 373,352.7 372,352.7 371,352.6 370,352.5 369,352.5 368,352.4 367,352.3 366,352.2 365,352.1 364,351.9 363,351.8 362,351.6 361,351.4 360,351.2 359,351 358,350.8 357,350.6 356,350.3 355,350.1 354,349.8 353,349.5 352,349.2 351,348.9 350,348.6 349,348.2 348,347.8 347,347.4 346,346.9 345,346.3 344,345.8 343,345.2 342,344.6 341,344 340,343.4 339,342.9 338,342.3 337,341.7 336,341 335,340.4 334,339.7 333,339.1 332,338.4 331,337.7 330,337 329,336.2 328,335.4 327,334.5 326,333.6 325,332.7 324,331.8 323,331 322,330.2 321,329.4 320,328.6 319,327.9 318,327.2 317,326.4 316,325.7 315,325 314,324.4 313,323.6 312,322.9 311,322.2 310,321.6 309,320.9 308,320.3 307,319.8 306,319.3 305,318.9 304,318.5 303,318.1 302,317.7 301,317.3 300,317 299,316.7 298,316.3 297,316 296,315.6 295,315.3 294,315 293,314.7 292,314.4 291,314.1 290,313.8 289,313.6 288,313.4 287,313.2 286,313.1 285,312.9 284,312.7 283,312.6 282,312.4 281,312.3 280,312.2 279,312 278,311.9 277,311.8 276,311.7 275,311.6 274,311.5 273,311.4 272,311.3 271,311.2 270,311.2 269,311.1 268,311 267,311 266,310.9 265,310.8 264,310.8 263,310.7 262,310.7 261,310.6 260,310.6 259,310.5 258,310.5 257,310.4 256,310.4 255,310.3 254,310.3 253,310.2 252,310.2 251,310.1 250,310.1 249,310.1 248,310 247,310 246,310 245,309.9 244,309.9 243,309.9 242,309.8 241,309.8 240,309.8 239,309.7 238,309.7 237,309.7 236,309.7 235,309.6 234,309.6 233,309.6 232,309.6 231,309.6 230,309.5 229,309.5 228,309.5 227,309.5 226,309.5 225,309.5 224,309.4 223,309.4 222,309.4 221,309.4 220,309.4 219,309.4 218,309.4 217,309.4 216,309.3 215,309.3 214,309.3 213,309.3 212,309.3 211,309.3 210,309.3 209,309.3Z" fill="#79d3f4"/>
<path d="M209,309.3 210,309.3 211,309.3 212,309.3 213,309.3 214,309.3 215,309.3 216,309.3 217,309.4 218,309.4 219,309.4 220,309.4 221,309.4 222,309.4 223,309.4 224,309.4 225,309.5 226,309.5 227,309.5 228,309.5 229,309.5 230,309.5 231,309.6 232,309.6 233,309.6 234,309.6 235,309.6 236,309.7 237,309.7 238,309.7 239,309.7 240,309.8 241,309.8 242,309.8 243,309.9 244,309.9 245,309.9 246,310 247,310 248,310 249,310.1 250,310.1 251,310.1 252,310.2 253,310.2 254,310.3 255,310.3 256,310.4 257,310.4 258,310.5 259,310.5 260,310.6 261,310.6 262,310.7 263,310.7 264,310.8 265,310.8 266,310.9 267,311 268,311 269,311.1 270,311.2 271,311.2 272,311.3 273,311.4 274,311.5 275,311.6 276,311.7 277,311.8 278,311.9 279,312 280,312.2 281,312.3 282,312.4 283,312.6 284,312.7 285,312.9 286,313.1 287,313.2 288,313.4 289,313.6 290,313.8 291,314.1 292,314.4 293,314.7 294,315 295,315.3 296,315.6 297,316 298,316.3 299,316.7 300,317 301,317.3 302,317.7 303,318.1 304,318.5 305,318.9 306,319.3 307,319.8 308,320.3 309,320.9 310,321.6 311,322.2 312,322.9 313,323.6 314,324.4 315,325 316,325.7 317,326.4 318,327.2 319,327.9 320,328.6 321,329.4 322,330.2 323,331 324,331.8 325,332.7 326,333.6 327,334.5 328,335.4 329,336.2 330,337 331,337.7 332,338.4 333,339.1 334,339.7 335,340.4 336,341 337,341.7 338,342.3 339,342.9 340,343.4 341,344 342,344.6 343,345.2 344,345.8 345,346.3 346,346.9 347,347.4 348,347.8 349,348.2 350,348.6 351,348.9 352,349.2 353,349.5 354,349.8 355,350.1 356,350.3 357,350.6 358,350.8 359,351 360,351.2 361,351.4 362,351.6 363,351.8 364,351.9 365,352.1 366,352.2 367,352.3 368,352.4 369,352.5 370,352.5 371,352.6 372,352.7 373,352.7 373,353.7 372,353.7 371,353.6 370,353.5 369,353.5 368,353.4 367,353.3 366,353.2 365,353.1 364,353 363,352.8 362,352.6 361,352.5 360,352.3 359,352.1 358,351.9 357,351.6 356,351.4 355,351.1 354,350.8 353,350.6 352,350.3 351,350 350,349.7 349,349.3 348,348.9 347,348.5 346,348 345,347.5 344,346.9 343,346.4 342,345.8 341,345.3 340,344.7 339,344.1 338,343.6 337,343 336,342.4 335,341.8 334,341.2 333,340.6 332,339.9 331,339.3 330,338.6 329,337.9 328,337.1 327,336.3 326,335.5 325,334.7 324,333.9 323,333.1 322,332.4 321,331.7 320,331.1 319,330.4 318,329.8 317,329.2 316,328.6 315,328 314,327.4 313,326.8 312,326.2 311,325.6 310,325 309,324.5 308,324 307,323.5 306,323.1 305,322.8 304,322.4 303,322.1 302,321.8 301,321.5 300,321.2 299,320.9 298,320.6 297,320.3 296,320 295,319.7 294,319.4 293,319.1 292,318.9 291,318.6 290,318.4 289,318.2 288,318 287,317.9 286,317.7 285,317.6 284,317.4 283,317.3 282,317.1 281,317 280,316.9 279,316.8 278,316.7 277,316.6 276,316.5 275,316.4 274,316.3 273,316.2 272,316.1 271,316.1 270,316 269,315.9 268,315.9 267,315.8 266,315.8 265,315.7 264,315.6 263,315.6 262,315.5 261,315.5 260,315.4 259,315.4 258,315.4 257,315.3 256,315.3 255,315.2 254,315.2 253,315.1 252,315.1 251,315.1 250,315 249,315 248,315 247,314.9 246,314.9 245,314.9 244,314.8 243,314.8 242,314.8 241,314.7 240,314.7 239,314.7 238,314.7 237,314.6 236,314.6 235,314.6 234,314.6 233,314.6 232,314.5 231,314.5 230,314.5 229,314.5 228,314.5 227,314.5 226,314.5 225,314.4 224,314.4 223,314.4 222,314.4 221,314.4 220,314.4 219,314.4 218,314.4 217,314.3 216,314.3 215,314.3 214,314.3 213,314.3 212,314.3 211,314.3 210,314.3 209,314.3Z" fill="#a679c2"/>
<path d="M209,314.3 210,314.3 211,314.3 212,314.3 213,314.3 214,314.3 215,314.3 216,314.3 217,314.3 218,314.4 219,314.4 220,314.4 221,314.4 222,314.4 223,314.4 224,314.4 225,314.4 226,314.5 227,314.5 228,314.5 229,314.5 230,314.5 231,314.5 232,314.5 233,314.6 234,314.6 235,314.6 236,314.6 237,314.6 238,314.7 239,314.7 240,314.7 241,314.7 242,314.8 243,314.8 244,314.8 245,314.9 246,314.9 247,314.9 248,315 249,315 250,315 251,315.1 252,315.1 253,315.1 254,315.2 255,315.2 256,315.3 257,315.3 258,315.4 259,315.4 260,315.4 261,315.5 262,315.5 263,315.6 264,315.6 265,315.7 266,315.8 267,315.8 268,315.9 269,315.9 270,316 271,316.1 272,316.1 273,316.2 274,316.3 275,316.4 276,316.5 277,316.6 278,316.7 279,316.8 280,316.9 281,317 282,317.1 283,317.3 284,317.4 285,317.6 286,317.7 287,317.9 288,318 289,318.2 290,318.4 291,318.6 292,318.9 293,319.1 294,319.4 295,319.7 296,320 297,320.3 298,320.6 299,320.9 300,321.2 301,321.5 302,321.8 303,322.1 304,322.4 305,322.8 306,323.1 307,323.5 308,324 309,324.5 310,325 311,325.6 312,326.2 313,326.8 314,327.4 315,328 316,328.6 317,329.2 318,329.8 319,330.4 320,331.1 321,331.7 322,332.4 323,333.1 324,333.9 325,334.7 326,335.5 327,336.3 328,337.1 329,337.9 330,338.6 331,339.3 332,339.9 333,340.6 334,341.2 335,341.8 336,342.4 337,343 338,343.6 339,344.1 340,344.7 341,345.3 342,345.8 343,346.4 344,346.9 345,347.5 346,348 347,348.5 348,348.9 349,349.3 350,349.7 351,350 352,350.3 353,350.6 354,350.8 355,351.1 356,351.4 357,351.6 358,351.9 359,352.1 360,352.3 361,352.5 362,352.6 363,352.8 364,353 365,353.1 366,353.2 367,353.3 368,353.4 369,353.5 370,353.5 371,353.6 372,353.7 373,353.7 373,355 372,355 371,354.9 370,354.9 369,354.8 368,354.7 367,354.6 366,354.5 365,354.4 364,354.3 363,354.1 362,354 361,353.8 360,353.6 359,353.4 358,353.2 357,353 356,352.8 355,352.5 354,352.2 353,352 352,351.7 351,351.4 350,351.1 349,350.7 348,350.4 347,349.9 346,349.5 345,349 344,348.5 343,347.9 342,347.4 341,346.8 340,346.3 339,345.8 338,345.2 337,344.7 336,344.2 335,343.6 334,343 333,342.5 332,341.9 331,341.3 330,340.7 329,340.1 328,339.4 327,338.7 326,338 325,337.3 324,336.6 323,335.9 322,335.3 321,334.8 320,334.2 319,333.7 318,333.2 317,332.7 316,332.2 315,331.8 314,331.3 313,330.8 312,330.4 311,329.9 310,329.5 309,329.1 308,328.7 307,328.3 306,328.1 305,327.8 304,327.5 303,327.3 302,327 301,326.8 300,326.6 299,326.4 298,326.1 297,325.9 296,325.6 295,325.4 294,325.2 293,324.9 292,324.7 291,324.5 290,324.3 289,324.2 288,324 287,323.9 286,323.7 285,323.6 284,323.5 283,323.4 282,323.3 281,323.2 280,323.1 279,323 278,322.9 277,322.8 276,322.7 275,322.6 274,322.5 273,322.5 272,322.4 271,322.3 270,322.3 269,322.2 268,322.2 267,322.1 266,322.1 265,322 264,322 263,321.9 262,321.9 261,321.8 260,321.8 259,321.8 258,321.7 257,321.7 256,321.6 255,321.6 254,321.6 253,321.5 252,321.5 251,321.5 250,321.4 249,321.4 248,321.4 247,321.3 246,321.3 245,321.3 244,321.3 243,321.2 242,321.2 241,321.2 240,321.2 239,321.1 238,321.1 237,321.1 236,321.1 235,321.1 234,321 233,321 232,321 231,321 230,321 229,321 228,321 227,320.9 226,320.9 225,320.9 224,320.9 223,320.9 222,320.9 221,320.9 220,320.9 219,320.9 218,320.8 217,320.8 216,320.8 215,320.8 214,320.8 213,320.8 212,320.8 211,320.8 210,320.8 209,320.8Z" fill="#59c467"/>
<path d="M209,320.8 210,320.8 211,320.8 212,320.8 213,320.8 214,320.8 215,320.8 216,320.8 217,320.8 218,320.8 219,320.9 220,320.9 221,320.9 222,320.9 223,320.9 224,320.9 225,320.9 226,320.9 227,320.9 228,321 229,321 230,321 231,321 232,321 233,321 234,321 235,321.1 236,321.1 237,321.1 238,321.1 239,321.1 240,321.2 241,321.2 242,321.2 243,321.2 244,321.3 245,321.3 246,321.3 247,321.3 248,321.4 249,321.4 250,321.4 251,321.5 252,321.5 253,321.5 254,321.6 255,321.6 256,321.6 257,321.7 258,321.7 259,321.8 260,321.8 261,321.8 262,321.9 263,321.9 264,322 265,322 266,322.1 267,322.1 268,322.2 269,322.2 270,322.3 271,322.3 272,322.4 273,322.5 274,322.5 275,322.6 276,322.7 277,322.8 278,322.9 279,323 280,323.1 281,323.2 282,323.3 283,323.4 284,323.5 285,323.6 286,323.7 287,323.9 288,324 289,324.2 290,324.3 291,324.5 292,324.7 293,324.9 294,325.2 295,325.4 296,325.6 297,325.9 298,326.1 299,326.4 300,326.6 301,326.8 302,327 303,327.3 304,327.5 305,327.8 306,328.1 307,328.3 308,328.7 309,329.1 310,329.5 311,329.9 312,330.4 313,330.8 314,331.3 315,331.8 316,332.2 317,332.7 318,333.2 319,333.7 320,334.2 321,334.8 322,335.3 323,335.9 324,336.6 325,337.3 326,338 327,338.7 328,339.4 329,340.1 330,340.7 331,341.3 332,341.9 333,342.5 334,343 335,343.6 336,344.2 337,344.7 338,345.2 339,345.8 340,346.3 341,346.8 342,347.4 343,347.9 344,348.5 345,349 346,349.5 347,349.9 348,350.4 349,350.7 350,351.1 351,351.4 352,351.7 353,352 354,352.2 355,352.5 356,352.8 357,353 358,353.2 359,353.4 360,353.6 361,353.8 362,354 363,354.1 364,354.3 365,354.4 366,354.5 367,354.6 368,354.7 369,354.8 370,354.9 371,354.9 372,355 373,355 373,355.1 372,355 371,355 370,354.9 369,354.9 368,354.8 367,354.8 366,354.7 365,354.6 364,354.5 363,354.4 362,354.3 361,354.2 360,354.1 359,353.9 358,353.8 357,353.6 356,353.4 355,353.3 354,353.1 353,352.9 352,352.7 351,352.5 350,352.3 349,352.1 348,351.8 347,351.5 346,351.2 345,350.8 344,350.4 343,350 342,349.6 341,349.2 340,348.8 339,348.4 338,348 337,347.5 336,347.1 335,346.6 334,346.2 333,345.7 332,345.2 331,344.6 330,344.1 329,343.5 328,342.9 327,342.2 326,341.5 325,340.8 324,340.1 323,339.4 322,338.7 321,338.1 320,337.5 319,336.8 318,336.2 317,335.6 316,334.9 315,334.3 314,333.7 313,333.1 312,332.5 311,331.8 310,331.2 309,330.7 308,330.1 307,329.7 306,329.2 305,328.8 304,328.4 303,328.1 302,327.7 301,327.4 300,327.1 299,326.8 298,326.5 297,326.2 296,325.9 295,325.6 294,325.3 293,325.1 292,324.8 291,324.6 290,324.4 289,324.2 288,324.1 287,323.9 286,323.8 285,323.6 284,323.5 283,323.4 282,323.3 281,323.2 280,323.1 279,323 278,322.9 277,322.8 276,322.7 275,322.6 274,322.5 273,322.5 272,322.4 271,322.3 270,322.3 269,322.2 268,322.2 267,322.1 266,322.1 265,322 264,322 263,321.9 262,321.9 261,321.8 260,321.8 259,321.8 258,321.7 257,321.7 256,321.6 255,321.6 254,321.6 253,321.5 252,321.5 251,321.5 250,321.4 249,321.4 248,321.4 247,321.3 246,321.3 245,321.3 244,321.3 243,321.2 242,321.2 241,321.2 240,321.2 239,321.1 238,321.1 237,321.1 236,321.1 235,321.1 234,321 233,321 232,321 231,321 230,321 229,321 228,321 227,320.9 226,320.9 225,320.9 224,320.9 223,320.9 222,320.9 221,320.9 220,320.9 219,320.9 218,320.8 217,320.8 216,320.8 215,320.8 214,320.8 213,320.8 212,320.8 211,320.8 210,320.8 209,320.8Z" fill="#ffffff"/>
<path d="M209,320.8 210,320.8 211,320.8 212,320.8 213,320.8 214,320.8 215,320.8 216,320.8 217,320.8 218,320.8 219,320.9 220,320.9 221,320.9 222,320.9 223,320.9 224,320.9 225,320.9 226,320.9 227,320.9 228,321 229,321 230,321 231,321 232,321 233,321 234,321 235,321.1 236,321.1 237,321.1 238,321.1 239,321.1 240,321.2 241,321.2 242,321.2 243,321.2 244,321.3 245,321.3 246,321.3 247,321.3 248,321.4 249,321.4 250,321.4 251,321.5 252,321.5 253,321.5 254,321.6 255,321.6 256,321.6 257,321.7 258,321.7 259,321.8 260,321.8 261,321.8 262,321.9 263,321.9 264,322 265,322 266,322.1 267,322.1 268,322.2 269,322.2 270,322.3 271,322.3 272,322.4 273,322.5 274,322.5 275,322.6 276,322.7 277,322.8 278,322.9 279,323 280,323.1 281,323.2 282,323.3 283,323.4 284,323.5 285,323.6 286,323.8 287,323.9 288,324.1 289,324.2 290,324.4 291,324.6 292,324.8 293,325.1 294,325.3 295,325.6 296,325.9 297,326.2 298,326.5 299,326.8 300,327.1 301,327.4 302,327.7 303,328.1 304,328.4 305,328.8 306,329.2 307,329.7 308,330.1 309,330.7 310,331.2 311,331.8 312,332.5 313,333.1 314,333.7 315,334.3 316,334.9 317,335.6 318,336.2 319,336.8 320,337.5 321,338.1 322,338.7 323,339.4 324,340.1 325,340.8 326,341.5 327,342.2 328,342.9 329,343.5 330,344.1 331,344.6 332,345.2 333,345.7 334,346.2 335,346.6 336,347.1 337,347.5 338,348 339,348.4 340,348.8 341,349.2 342,349.6 343,350 344,350.4 345,350.8 346,351.2 347,351.5 348,351.8 349,352.1 350,352.3 351,352.5 352,352.7 353,352.9 354,353.1 355,353.3 356,353.4 357,353.6 358,353.8 359,353.9 360,354.1 361,354.2 362,354.3 363,354.4 364,354.5 365,354.6 366,354.7 367,354.8 368,354.8 369,354.9 370,354.9 371,355 372,355 373,355.1 373,356 372,356 371,355.9 370,355.9 369,355.8 368,355.8 367,355.7 366,355.7 365,355.6 364,355.5 363,355.4 362,355.3 361,355.2 360,355 359,354.9 358,354.8 357,354.6 356,354.4 355,354.3 354,354.1 353,353.9 352,353.7 351,353.5 350,353.3 349,353.1 348,352.8 347,352.6 346,352.2 345,351.9 344,351.5 343,351.1 342,350.7 341,350.4 340,350 339,349.6 338,349.2 337,348.8 336,348.4 335,347.9 334,347.5 333,347.1 332,346.6 331,346.1 330,345.6 329,345.1 328,344.5 327,343.9 326,343.3 325,342.7 324,342 323,341.4 322,340.8 321,340.3 320,339.7 319,339.2 318,338.6 317,338.1 316,337.6 315,337.1 314,336.6 313,336 312,335.5 311,335 310,334.5 309,334 308,333.5 307,333.1 306,332.8 305,332.4 304,332.1 303,331.8 302,331.5 301,331.3 300,331 299,330.8 298,330.5 297,330.2 296,330 295,329.7 294,329.5 293,329.3 292,329.1 291,328.9 290,328.7 289,328.5 288,328.4 287,328.3 286,328.1 285,328 284,327.9 283,327.8 282,327.7 281,327.6 280,327.5 279,327.4 278,327.3 277,327.3 276,327.2 275,327.1 274,327 273,327 272,326.9 271,326.9 270,326.8 269,326.8 268,326.7 267,326.7 266,326.6 265,326.6 264,326.5 263,326.5 262,326.5 261,326.4 260,326.4 259,326.4 258,326.3 257,326.3 256,326.2 255,326.2 254,326.2 253,326.2 252,326.1 251,326.1 250,326.1 249,326 248,326 247,326 246,326 245,325.9 244,325.9 243,325.9 242,325.9 241,325.8 240,325.8 239,325.8 238,325.8 237,325.8 236,325.8 235,325.7 234,325.7 233,325.7 232,325.7 231,325.7 230,325.7 229,325.7 228,325.6 227,325.6 226,325.6 225,325.6 224,325.6 223,325.6 222,325.6 221,325.6 220,325.6 219,325.6 218,325.5 217,325.5 216,325.5 215,325.5 214,325.5 213,325.5 212,325.5 211,325.5 210,325.5 209,325.5Z" fill="#efa6d3"/>
<path d="M209,325.5 210,325.5 211,325.5 212,325.5 213,325.5 214,325.5 215,325.5 216,325.5 217,325.5 218,325.5 219,325.6 220,325.6 221,325.6 222,325.6 223,325.6 224,325.6 225,325.6 226,325.6 227,325.6 228,325.6 229,325.7 230,325.7 231,325.7 232,325.7 233,325.7 234,325.7 235,325.7 236,325.8 237,325.8 238,325.8 239,325.8 240,325.8 241,325.8 242,325.9 243,325.9 244,325.9 245,325.9 246,326 247,326 248,326 249,326 250,326.1 251,326.1 252,326.1 253,326.2 254,326.2 255,326.2 256,326.2 257,326.3 258,326.3 259,326.4 260,326.4 261,326.4 262,326.5 263,326.5 264,326.5 265,326.6 266,326.6 267,326.7 268,326.7 269,326.8 270,326.8 271,326.9 272,326.9 273,327 274,327 275,327.1 276,327.2 277,327.3 278,327.3 279,327.4 280,327.5 281,327.6 282,327.7 283,327.8 284,327.9 285,328 286,328.1 287,328.3 288,328.4 289,328.5 290,328.7 291,328.9 292,329.1 293,329.3 294,329.5 295,329.7 296,330 297,330.2 298,330.5 299,330.8 300,331 301,331.3 302,331.5 303,331.8 304,332.1 305,332.4 306,332.8 307,333.1 308,333.5 309,334 310,334.5 311,335 312,335.5 313,336 314,336.6 315,337.1 316,337.6 317,338.1 318,338.6 319,339.2 320,339.7 321,340.3 322,340.8 323,341.4 324,342 325,342.7 326,343.3 327,343.9 328,344.5 329,345.1 330,345.6 331,346.1 332,346.6 333,347.1 334,347.5 335,347.9 336,348.4 337,348.8 338,349.2 339,349.6 340,350 341,350.4 342,350.7 343,351.1 344,351.5 345,351.9 346,352.2 347,352.6 348,352.8 349,353.1 350,353.3 351,353.5 352,353.7 353,353.9 354,354.1 355,354.3 356,354.4 357,354.6 358,354.8 359,354.9 360,355 361,355.2 362,355.3 363,355.4 364,355.5 365,355.6 366,355.7 367,355.7 368,355.8 369,355.8 370,355.9 371,355.9 372,356 373,356 373,356.8 372,356.8 371,356.7 370,356.7 369,356.7 368,356.6 367,356.6 366,356.5 365,356.4 364,356.3 363,356.2 362,356.1 361,356 360,355.9 359,355.8 358,355.6 357,355.5 356,355.3 355,355.1 354,355 353,354.8 352,354.6 351,354.4 350,354.2 349,354 348,353.7 347,353.5 346,353.1 345,352.8 344,352.5 343,352.1 342,351.7 341,351.4 340,351 339,350.6 338,350.3 337,349.9 336,349.5 335,349.1 334,348.7 333,348.3 332,347.8 331,347.4 330,346.9 329,346.5 328,345.9 327,345.4 326,344.8 325,344.3 324,343.7 323,343.2 322,342.7 321,342.2 320,341.7 319,341.2 318,340.8 317,340.3 316,339.9 315,339.5 314,339 313,338.6 312,338.1 311,337.7 310,337.3 309,336.9 308,336.5 307,336.2 306,335.9 305,335.6 304,335.4 303,335.1 302,334.9 301,334.6 300,334.4 299,334.2 298,334 297,333.8 296,333.6 295,333.4 294,333.2 293,333 292,332.8 291,332.6 290,332.4 289,332.3 288,332.2 287,332.1 286,332 285,331.9 284,331.8 283,331.7 282,331.6 281,331.5 280,331.4 279,331.3 278,331.2 277,331.2 276,331.1 275,331 274,331 273,330.9 272,330.9 271,330.8 270,330.8 269,330.7 268,330.7 267,330.6 266,330.6 265,330.6 264,330.5 263,330.5 262,330.5 261,330.4 260,330.4 259,330.4 258,330.3 257,330.3 256,330.3 255,330.2 254,330.2 253,330.2 252,330.2 251,330.1 250,330.1 249,330.1 248,330.1 247,330 246,330 245,330 244,330 243,329.9 242,329.9 241,329.9 240,329.9 239,329.9 238,329.9 237,329.8 236,329.8 235,329.8 234,329.8 233,329.8 232,329.8 231,329.8 230,329.7 229,329.7 228,329.7 227,329.7 226,329.7 225,329.7 224,329.7 223,329.7 222,329.7 221,329.7 220,329.7 219,329.6 218,329.6 217,329.6 216,329.6 215,329.6 214,329.6 213,329.6 212,329.6 211,329.6 210,329.6 209,329.6Z" fill="#4853a6"/>
<path d="M209,329.6 210,329.6 211,329.6 212,329.6 213,329.6 214,329.6 215,329.6 216,329.6 217,329.6 218,329.6 219,329.6 220,329.7 221,329.7 222,329.7 223,329.7 224,329.7 225,329.7 226,329.7 227,329.7 228,329.7 229,329.7 230,329.7 231,329.8 232,329.8 233,329.8 234,329.8 235,329.8 236,329.8 237,329.8 238,329.9 239,329.9 240,329.9 241,329.9 242,329.9 243,329.9 244,330 245,330 246,330 247,330 248,330.1 249,330.1 250,330.1 251,330.1 252,330.2 253,330.2 254,330.2 255,330.2 256,330.3 257,330.3 258,330.3 259,330.4 260,330.4 261,330.4 262,330.5 263,330.5 264,330.5 265,330.6 266,330.6 267,330.6 268,330.7 269,330.7 270,330.8 271,330.8 272,330.9 273,330.9 274,331 275,331 276,331.1 277,331.2 278,331.2 279,331.3 280,331.4 281,331.5 282,331.6 283,331.7 284,331.8 285,331.9 286,332 287,332.1 288,332.2 289,332.3 290,332.4 291,332.6 292,332.8 293,333 294,333.2 295,333.4 296,333.6 297,333.8 298,334 299,334.2 300,334.4 301,334.6 302,334.9 303,335.1 304,335.4 305,335.6 306,335.9 307,336.2 308,336.5 309,336.9 310,337.3 311,337.7 312,338.1 313,338.6 314,339 315,339.5 316,339.9 317,340.3 318,340.8 319,341.2 320,341.7 321,342.2 322,342.7 323,343.2 324,343.7 325,344.3 326,344.8 327,345.4 328,345.9 329,346.5 330,346.9 331,347.4 332,347.8 333,348.3 334,348.7 335,349.1 336,349.5 337,349.9 338,350.3 339,350.6 340,351 341,351.4 342,351.7 343,352.1 344,352.5 345,352.8 346,353.1 347,353.5 348,353.7 349,354 350,354.2 351,354.4 352,354.6 353,354.8 354,355 355,355.1 356,355.3 357,355.5 358,355.6 359,355.8 360,355.9 361,356 362,356.1 363,356.2 364,356.3 365,356.4 366,356.5 367,356.6 368,356.6 369,356.7 370,356.7 371,356.7 372,356.8 373,356.8 373,356.8 372,356.8 371,356.8 370,356.7 369,356.7 368,356.7 367,356.6 366,356.6 365,356.5 364,356.4 363,356.3 362,356.3 361,356.2 360,356.1 359,356 358,355.9 357,355.7 356,355.6 355,355.5 354,355.3 353,355.2 352,355.1 351,354.9 350,354.8 349,354.6 348,354.4 347,354.2 346,353.9 345,353.6 344,353.3 343,353 342,352.7 341,352.4 340,352.1 339,351.8 338,351.4 337,351.1 336,350.8 335,350.4 334,350 333,349.7 332,349.3 331,348.8 330,348.4 329,348 328,347.5 327,346.9 326,346.4 325,345.8 324,345.3 323,344.7 322,344.2 321,343.6 320,343.1 319,342.6 318,342.1 317,341.6 316,341.1 315,340.6 314,340.1 313,339.6 312,339.1 311,338.6 310,338.1 309,337.6 308,337.2 307,336.8 306,336.4 305,336.1 304,335.7 303,335.4 302,335.2 301,334.9 300,334.6 299,334.4 298,334.2 297,333.9 296,333.7 295,333.4 294,333.2 293,333 292,332.8 291,332.6 290,332.5 289,332.3 288,332.2 287,332.1 286,332 285,331.9 284,331.8 283,331.7 282,331.6 281,331.5 280,331.4 279,331.3 278,331.2 277,331.2 276,331.1 275,331 274,331 273,330.9 272,330.9 271,330.8 270,330.8 269,330.7 268,330.7 267,330.6 266,330.6 265,330.6 264,330.5 263,330.5 262,330.5 261,330.4 260,330.4 259,330.4 258,330.3 257,330.3 256,330.3 255,330.2 254,330.2 253,330.2 252,330.2 251,330.1 250,330.1 249,330.1 248,330.1 247,330 246,330 245,330 244,330 243,329.9 242,329.9 241,329.9 240,329.9 239,329.9 238,329.9 237,329.8 236,329.8 235,329.8 234,329.8 233,329.8 232,329.8 231,329.8 230,329.8 229,329.7 228,329.7 227,329.7 226,329.7 225,329.7 224,329.7 223,329.7 222,329.7 221,329.7 220,329.7 219,329.6 218,329.6 217,329.6 216,329.6 215,329.6 214,329.6 213,329.6 212,329.6 211,329.6 210,329.6 209,329.6Z" fill="#ffffff"/>
<path d="M209,329.6 210,329.6 211,329.6 212,329.6 213,329.6 214,329.6 215,329.6 216,329.6 217,329.6 218,329.6 219,329.6 220,329.7 221,329.7 222,329.7 223,329.7 224,329.7 225,329.7 226,329.7 227,329.7 228,329.7 229,329.7 230,329.8 231,329.8 232,329.8 233,329.8 234,329.8 235,329.8 236,329.8 237,329.8 238,329.9 239,329.9 240,329.9 241,329.9 242,329.9 243,329.9 244,330 245,330 246,330 247,330 248,330.1 249,330.1 250,330.1 251,330.1 252,330.2 253,330.2 254,330.2 255,330.2 256,330.3 257,330.3 258,330.3 259,330.4 260,330.4 261,330.4 262,330.5 263,330.5 264,330.5 265,330.6 266,330.6 267,330.6 268,330.7 269,330.7 270,330.8 271,330.8 272,330.9 273,330.9 274,331 275,331 276,331.1 277,331.2 278,331.2 279,331.3 280,331.4 281,331.5 282,331.6 283,331.7 284,331.8 285,331.9 286,332 287,332.1 288,332.2 289,332.3 290,332.5 291,332.6 292,332.8 293,333 294,333.2 295,333.4 296,333.7 297,333.9 298,334.2 299,334.4 300,334.6 301,334.9 302,335.2 303,335.4 304,335.7 305,336.1 306,336.4 307,336.8 308,337.2 309,337.6 310,338.1 311,338.6 312,339.1 313,339.6 314,340.1 315,340.6 316,341.1 317,341.6 318,342.1 319,342.6 320,343.1 321,343.6 322,344.2 323,344.7 324,345.3 325,345.8 326,346.4 327,346.9 328,347.5 329,348 330,348.4 331,348.8 332,349.3 333,349.7 334,350 335,350.4 336,350.8 337,351.1 338,351.4 339,351.8 340,352.1 341,352.4 342,352.7 343,353 344,353.3 345,353.6 346,353.9 347,354.2 348,354.4 349,354.6 350,354.8 351,354.9 352,355.1 353,355.2 354,355.3 355,355.5 356,355.6 357,355.7 358,355.9 359,356 360,356.1 361,356.2 362,356.3 363,356.3 364,356.4 365,356.5 366,356.6 367,356.6 368,356.7 369,356.7 370,356.7 371,356.8 372,356.8 373,356.8 373,357.7 372,357.6 371,357.6 370,357.6 369,357.5 368,357.5 367,357.5 366,357.4 365,357.3 364,357.3 363,357.2 362,357.1 361,357 360,356.9 359,356.8 358,356.7 357,356.6 356,356.5 355,356.4 354,356.2 353,356.1 352,355.9 351,355.8 350,355.7 349,355.5 348,355.3 347,355.1 346,354.8 345,354.6 344,354.3 343,354 342,353.7 341,353.4 340,353.1 339,352.8 338,352.5 337,352.2 336,351.9 335,351.6 334,351.2 333,350.9 332,350.5 331,350.1 330,349.7 329,349.3 328,348.9 327,348.4 326,347.9 325,347.4 324,346.9 323,346.5 322,346 321,345.6 320,345.1 319,344.7 318,344.2 317,343.8 316,343.4 315,343 314,342.6 313,342.1 312,341.7 311,341.3 310,340.9 309,340.5 308,340.1 307,339.8 306,339.5 305,339.2 304,339 303,338.7 302,338.5 301,338.3 300,338.1 299,337.9 298,337.7 297,337.4 296,337.2 295,337.1 294,336.9 293,336.7 292,336.5 291,336.4 290,336.2 289,336.1 288,336 287,335.9 286,335.8 285,335.7 284,335.6 283,335.5 282,335.4 281,335.4 280,335.3 279,335.2 278,335.1 277,335.1 276,335 275,335 274,334.9 273,334.9 272,334.8 271,334.8 270,334.7 269,334.7 268,334.7 267,334.6 266,334.6 265,334.6 264,334.5 263,334.5 262,334.5 261,334.4 260,334.4 259,334.4 258,334.3 257,334.3 256,334.3 255,334.3 254,334.2 253,334.2 252,334.2 251,334.2 250,334.1 249,334.1 248,334.1 247,334.1 246,334.1 245,334 244,334 243,334 242,334 241,334 240,334 239,333.9 238,333.9 237,333.9 236,333.9 235,333.9 234,333.9 233,333.9 232,333.9 231,333.8 230,333.8 229,333.8 228,333.8 227,333.8 226,333.8 225,333.8 224,333.8 223,333.8 222,333.8 221,333.8 220,333.7 219,333.7 218,333.7 217,333.7 216,333.7 215,333.7 214,333.7 213,333.7 212,333.7 211,333.7 210,333.7 209,333.7Z" fill="#84dec8"/>
<path d="M209,333.7 210,333.7 211,333.7 212,333.7 213,333.7 214,333.7 215,333.7 216,333.7 217,333.7 218,333.7 219,333.7 220,333.7 221,333.8 222,333.8 223,333.8 224,333.8 225,333.8 226,333.8 227,333.8 228,333.8 229,333.8 230,333.8 231,333.8 232,333.9 233,333.9 234,333.9 235,333.9 236,333.9 237,333.9 238,333.9 239,333.9 240,334 241,334 242,334 243,334 244,334 245,334 246,334.1 247,334.1 248,334.1 249,334.1 250,334.1 251,334.2 252,334.2 253,334.2 254,334.2 255,334.3 256,334.3 257,334.3 258,334.3 259,334.4 260,334.4 261,334.4 262,334.5 263,334.5 264,334.5 265,334.6 266,334.6 267,334.6 268,334.7 269,334.7 270,334.7 271,334.8 272,334.8 273,334.9 274,334.9 275,335 276,335 277,335.1 278,335.1 279,335.2 280,335.3 281,335.4 282,335.4 283,335.5 284,335.6 285,335.7 286,335.8 287,335.9 288,336 289,336.1 290,336.2 291,336.4 292,336.5 293,336.7 294,336.9 295,337.1 296,337.2 297,337.4 298,337.7 299,337.9 300,338.1 301,338.3 302,338.5 303,338.7 304,339 305,339.2 306,339.5 307,339.8 308,340.1 309,340.5 310,340.9 311,341.3 312,341.7 313,342.1 314,342.6 315,343 316,343.4 317,343.8 318,344.2 319,344.7 320,345.1 321,345.6 322,346 323,346.5 324,346.9 325,347.4 326,347.9 327,348.4 328,348.9 329,349.3 330,349.7 331,350.1 332,350.5 333,350.9 334,351.2 335,351.6 336,351.9 337,352.2 338,352.5 339,352.8 340,353.1 341,353.4 342,353.7 343,354 344,354.3 345,354.6 346,354.8 347,355.1 348,355.3 349,355.5 350,355.7 351,355.8 352,355.9 353,356.1 354,356.2 355,356.4 356,356.5 357,356.6 358,356.7 359,356.8 360,356.9 361,357 362,357.1 363,357.2 364,357.3 365,357.3 366,357.4 367,357.5 368,357.5 369,357.5 370,357.6 371,357.6 372,357.6 373,357.7 373,358.6 372,358.5 371,358.5 370,358.5 369,358.5 368,358.4 367,358.4 366,358.3 365,358.3 364,358.2 363,358.1 362,358.1 361,358 360,357.9 359,357.8 358,357.7 357,357.6 356,357.5 355,357.3 354,357.2 353,357.1 352,356.9 351,356.8 350,356.6 349,356.5 348,356.3 347,356.1 346,355.9 345,355.6 344,355.3 343,355.1 342,354.8 341,354.5 340,354.3 339,354 338,353.7 337,353.4 336,353.1 335,352.8 334,352.5 333,352.2 332,351.9 331,351.6 330,351.2 329,350.9 328,350.5 327,350.1 326,349.7 325,349.3 324,348.8 323,348.4 322,348.1 321,347.7 320,347.3 319,347 318,346.7 317,346.3 316,346 315,345.7 314,345.3 313,345 312,344.7 311,344.4 310,344 309,343.7 308,343.5 307,343.2 306,343 305,342.8 304,342.6 303,342.4 302,342.2 301,342.1 300,341.9 299,341.7 298,341.6 297,341.4 296,341.3 295,341.1 294,340.9 293,340.8 292,340.7 291,340.5 290,340.4 289,340.3 288,340.2 287,340.1 286,340.1 285,340 284,339.9 283,339.8 282,339.8 281,339.7 280,339.6 279,339.6 278,339.5 277,339.5 276,339.4 275,339.4 274,339.3 273,339.3 272,339.2 271,339.2 270,339.2 269,339.1 268,339.1 267,339.1 266,339 265,339 264,339 263,339 262,338.9 261,338.9 260,338.9 259,338.9 258,338.8 257,338.8 256,338.8 255,338.8 254,338.8 253,338.7 252,338.7 251,338.7 250,338.7 249,338.7 248,338.6 247,338.6 246,338.6 245,338.6 244,338.6 243,338.6 242,338.5 241,338.5 240,338.5 239,338.5 238,338.5 237,338.5 236,338.5 235,338.5 234,338.4 233,338.4 232,338.4 231,338.4 230,338.4 229,338.4 228,338.4 227,338.4 226,338.4 225,338.4 224,338.4 223,338.4 222,338.4 221,338.3 220,338.3 219,338.3 218,338.3 217,338.3 216,338.3 215,338.3 214,338.3 213,338.3 212,338.3 211,338.3 210,338.3 209,338.3Z" fill="#fac290"/>
<path d="M209,338.3 210,338.3 211,338.3 212,338.3 213,338.3 214,338.3 215,338.3 216,338.3 217,338.3 218,338.3 219,338.3 220,338.3 221,338.3 222,338.4 223,338.4 224,338.4 225,338.4 226,338.4 227,338.4 228,338.4 229,338.4 230,338.4 231,338.4 232,338.4 233,338.4 234,338.4 235,338.5 236,338.5 237,338.5 238,338.5 239,338.5 240,338.5 241,338.5 242,338.5 243,338.6 244,338.6 245,338.6 246,338.6 247,338.6 248,338.6 249,338.7 250,338.7 251,338.7 252,338.7 253,338.7 254,338.8 255,338.8 256,338.8 257,338.8 258,338.8 259,338.9 260,338.9 261,338.9 262,338.9 263,339 264,339 265,339 266,339 267,339.1 268,339.1 269,339.1 270,339.2 271,339.2 272,339.2 273,339.3 274,339.3 275,339.4 276,339.4 277,339.5 278,339.5 279,339.6 280,339.6 281,339.7 282,339.8 283,339.8 284,339.9 285,340 286,340.1 287,340.1 288,340.2 289,340.3 290,340.4 291,340.5 292,340.7 293,340.8 294,340.9 295,341.1 296,341.3 297,341.4 298,341.6 299,341.7 300,341.9 301,342.1 302,342.2 303,342.4 304,342.6 305,342.8 306,343 307,343.2 308,343.5 309,343.7 310,344 311,344.4 312,344.7 313,345 314,345.3 315,345.7 316,346 317,346.3 318,346.7 319,347 320,347.3 321,347.7 322,348.1 323,348.4 324,348.8 325,349.3 326,349.7 327,350.1 328,350.5 329,350.9 330,351.2 331,351.6 332,351.9 333,352.2 334,352.5 335,352.8 336,353.1 337,353.4 338,353.7 339,354 340,354.3 341,354.5 342,354.8 343,355.1 344,355.3 345,355.6 346,355.9 347,356.1 348,356.3 349,356.5 350,356.6 351,356.8 352,356.9 353,357.1 354,357.2 355,357.3 356,357.5 357,357.6 358,357.7 359,357.8 360,357.9 361,358 362,358.1 363,358.1 364,358.2 365,358.3 366,358.3 367,358.4 368,358.4 369,358.5 370,358.5 371,358.5 372,358.5 373,358.6 373,359.4 372,359.3 371,359.3 370,359.3 369,359.2 368,359.2 367,359.2 366,359.1 365,359.1 364,359 363,358.9 362,358.9 361,358.8 360,358.7 359,358.6 358,358.5 357,358.4 356,358.3 355,358.2 354,358 353,357.9 352,357.8 351,357.6 350,357.5 349,357.3 348,357.2 347,356.9 346,356.7 345,356.5 344,356.2 343,356 342,355.7 341,355.5 340,355.2 339,355 338,354.7 337,354.5 336,354.2 335,353.9 334,353.6 333,353.4 332,353.1 331,352.8 330,352.5 329,352.2 328,351.9 327,351.5 326,351.2 325,350.8 324,350.5 323,350.1 322,349.8 321,349.5 320,349.2 319,349 318,348.7 317,348.4 316,348.2 315,347.9 314,347.7 313,347.4 312,347.2 311,346.9 310,346.7 309,346.5 308,346.3 307,346.1 306,345.9 305,345.8 304,345.7 303,345.5 302,345.4 301,345.3 300,345.1 299,345 298,344.9 297,344.8 296,344.7 295,344.5 294,344.4 293,344.3 292,344.2 291,344.1 290,344 289,343.9 288,343.8 287,343.7 286,343.7 285,343.6 284,343.6 283,343.5 282,343.4 281,343.4 280,343.3 279,343.3 278,343.2 277,343.2 276,343.1 275,343.1 274,343.1 273,343 272,343 271,343 270,342.9 269,342.9 268,342.9 267,342.9 266,342.8 265,342.8 264,342.8 263,342.8 262,342.7 261,342.7 260,342.7 259,342.7 258,342.7 257,342.6 256,342.6 255,342.6 254,342.6 253,342.6 252,342.6 251,342.5 250,342.5 249,342.5 248,342.5 247,342.5 246,342.5 245,342.4 244,342.4 243,342.4 242,342.4 241,342.4 240,342.4 239,342.4 238,342.4 237,342.4 236,342.3 235,342.3 234,342.3 233,342.3 232,342.3 231,342.3 230,342.3 229,342.3 228,342.3 227,342.3 226,342.3 225,342.3 224,342.3 223,342.3 222,342.2 221,342.2 220,342.2 219,342.2 218,342.2 217,342.2 216,342.2 215,342.2 214,342.2 213,342.2 212,342.2 211,342.2 210,342.2 209,342.2Z" fill="#458f96"/>
<path d="M209,342.2 210,342.2 211,342.2 212,342.2 213,342.2 214,342.2 215,342.2 216,342.2 217,342.2 218,342.2 219,342.2 220,342.2 221,342.2 222,342.2 223,342.3 224,342.3 225,342.3 226,342.3 227,342.3 228,342.3 229,342.3 230,342.3 231,342.3 232,342.3 233,342.3 234,342.3 235,342.3 236,342.3 237,342.4 238,342.4 239,342.4 240,342.4 241,342.4 242,342.4 243,342.4 244,342.4 245,342.4 246,342.5 247,342.5 248,342.5 249,342.5 250,342.5 251,342.5 252,342.6 253,342.6 254,342.6 255,342.6 256,342.6 257,342.6 258,342.7 259,342.7 260,342.7 261,342.7 262,342.7 263,342.8 264,342.8 265,342.8 266,342.8 267,342.9 268,342.9 269,342.9 270,342.9 271,343 272,343 273,343 274,343.1 275,343.1 276,343.1 277,343.2 278,343.2 279,343.3 280,343.3 281,343.4 282,343.4 283,343.5 284,343.6 285,343.6 286,343.7 287,343.7 288,343.8 289,343.9 290,344 291,344.1 292,344.2 293,344.3 294,344.4 295,344.5 296,344.7 297,344.8 298,344.9 299,345 300,345.1 301,345.3 302,345.4 303,345.5 304,345.7 305,345.8 306,345.9 307,346.1 308,346.3 309,346.5 310,346.7 311,346.9 312,347.2 313,347.4 314,347.7 315,347.9 316,348.2 317,348.4 318,348.7 319,349 320,349.2 321,349.5 322,349.8 323,350.1 324,350.5 325,350.8 326,351.2 327,351.5 328,351.9 329,352.2 330,352.5 331,352.8 332,353.1 333,353.4 334,353.6 335,353.9 336,354.2 337,354.5 338,354.7 339,355 340,355.2 341,355.5 342,355.7 343,356 344,356.2 345,356.5 346,356.7 347,356.9 348,357.2 349,357.3 350,357.5 351,357.6 352,357.8 353,357.9 354,358 355,358.2 356,358.3 357,358.4 358,358.5 359,358.6 360,358.7 361,358.8 362,358.9 363,358.9 364,359 365,359.1 366,359.1 367,359.2 368,359.2 369,359.2 370,359.3 371,359.3 372,359.3 373,359.4 373,359.4 372,359.4 371,359.3 370,359.3 369,359.3 368,359.3 367,359.2 366,359.2 365,359.2 364,359.1 363,359.1 362,359 361,359 360,358.9 359,358.8 358,358.8 357,358.7 356,358.6 355,358.5 354,358.5 353,358.4 352,358.3 351,358.2 350,358.1 349,358 348,357.9 347,357.7 346,357.6 345,357.4 344,357.2 343,357 342,356.9 341,356.7 340,356.5 339,356.3 338,356.1 337,355.9 336,355.7 335,355.4 334,355.2 333,355 332,354.7 331,354.5 330,354.2 329,353.9 328,353.6 327,353.3 326,352.9 325,352.6 324,352.2 323,351.9 322,351.5 321,351.2 320,350.9 319,350.5 318,350.2 317,349.9 316,349.5 315,349.2 314,348.9 313,348.6 312,348.2 311,347.9 310,347.6 309,347.3 308,347 307,346.8 306,346.5 305,346.3 304,346.1 303,345.9 302,345.7 301,345.6 300,345.4 299,345.2 298,345.1 297,344.9 296,344.8 295,344.6 294,344.5 293,344.4 292,344.2 291,344.1 290,344 289,343.9 288,343.8 287,343.8 286,343.7 285,343.6 284,343.6 283,343.5 282,343.4 281,343.4 280,343.3 279,343.3 278,343.2 277,343.2 276,343.1 275,343.1 274,343.1 273,343 272,343 271,343 270,342.9 269,342.9 268,342.9 267,342.9 266,342.8 265,342.8 264,342.8 263,342.8 262,342.7 261,342.7 260,342.7 259,342.7 258,342.7 257,342.6 256,342.6 255,342.6 254,342.6 253,342.6 252,342.6 251,342.5 250,342.5 249,342.5 248,342.5 247,342.5 246,342.5 245,342.4 244,342.4 243,342.4 242,342.4 241,342.4 240,342.4 239,342.4 238,342.4 237,342.4 236,342.3 235,342.3 234,342.3 233,342.3 232,342.3 231,342.3 230,342.3 229,342.3 228,342.3 227,342.3 226,342.3 225,342.3 224,342.3 223,342.3 222,342.2 221,342.2 220,342.2 219,342.2 218,342.2 217,342.2 216,342.2 215,342.2 214,342.2 213,342.2 212,342.2 211,342.2 210,342.2 209,342.2Z" fill="#ffffff"/>
<path d="M209,342.2 210,342.2 211,342.2 212,342.2 213,342.2 214,342.2 215,342.2 216,342.2 217,342.2 218,342.2 219,342.2 220,342.2 221,342.2 222,342.2 223,342.3 224,342.3 225,342.3 226,342.3 227,342.3 228,342.3 229,342.3 230,342.3 231,342.3 232,342.3 233,342.3 234,342.3 235,342.3 236,342.3 237,342.4 238,342.4 239,342.4 240,342.4 241,342.4 242,342.4 243,342.4 244,342.4 245,342.4 246,342.5 247,342.5 248,342.5 249,342.5 250,342.5 251,342.5 252,342.6 253,342.6 254,342.6 255,342.6 256,342.6 257,342.6 258,342.7 259,342.7 260,342.7 261,342.7 262,342.7 263,342.8 264,342.8 265,342.8 266,342.8 267,342.9 268,342.9 269,342.9 270,342.9 271,343 272,343 273,343 274,343.1 275,343.1 276,343.1 277,343.2 278,343.2 279,343.3 280,343.3 281,343.4 282,343.4 283,343.5 284,343.6 285,343.6 286,343.7 287,343.8 288,343.8 289,343.9 290,344 291,344.1 292,344.2 293,344.4 294,344.5 295,344.6 296,344.8 297,344.9 298,345.1 299,345.2 300,345.4 301,345.6 302,345.7 303,345.9 304,346.1 305,346.3 306,346.5 307,346.8 308,347 309,347.3 310,347.6 311,347.9 312,348.2 313,348.6 314,348.9 315,349.2 316,349.5 317,349.9 318,350.2 319,350.5 320,350.9 321,351.2 322,351.5 323,351.9 324,352.2 325,352.6 326,352.9 327,353.3 328,353.6 329,353.9 330,354.2 331,354.5 332,354.7 333,355 334,355.2 335,355.4 336,355.7 337,355.9 338,356.1 339,356.3 340,356.5 341,356.7 342,356.9 343,357 344,357.2 345,357.4 346,357.6 347,357.7 348,357.9 349,358 350,358.1 351,358.2 352,358.3 353,358.4 354,358.5 355,358.5 356,358.6 357,358.7 358,358.8 359,358.8 360,358.9 361,359 362,359 363,359.1 364,359.1 365,359.2 366,359.2 367,359.2 368,359.3 369,359.3 370,359.3 371,359.3 372,359.4 373,359.4 373,360.2 372,360.2 371,360.2 370,360.2 369,360.1 368,360.1 367,360.1 366,360.1 365,360 364,360 363,359.9 362,359.9 361,359.8 360,359.8 359,359.7 358,359.7 357,359.6 356,359.5 355,359.4 354,359.4 353,359.3 352,359.2 351,359.1 350,359 349,358.9 348,358.8 347,358.7 346,358.5 345,358.4 344,358.2 343,358 342,357.9 341,357.7 340,357.5 339,357.3 338,357.2 337,357 336,356.8 335,356.6 334,356.4 333,356.2 332,356 331,355.8 330,355.6 329,355.3 328,355.1 327,354.8 326,354.5 325,354.2 324,353.9 323,353.7 322,353.4 321,353.1 320,352.9 319,352.6 318,352.4 317,352.2 316,351.9 315,351.7 314,351.4 313,351.2 312,351 311,350.7 310,350.5 309,350.3 308,350.1 307,349.9 306,349.7 305,349.6 304,349.4 303,349.3 302,349.1 301,349 300,348.9 299,348.8 298,348.7 297,348.6 296,348.4 295,348.3 294,348.2 293,348.1 292,348 291,347.9 290,347.8 289,347.8 288,347.7 287,347.7 286,347.6 285,347.5 284,347.5 283,347.4 282,347.4 281,347.4 280,347.3 279,347.3 278,347.2 277,347.2 276,347.2 275,347.1 274,347.1 273,347.1 272,347 271,347 270,347 269,347 268,346.9 267,346.9 266,346.9 265,346.9 264,346.9 263,346.9 262,346.8 261,346.8 260,346.8 259,346.8 258,346.8 257,346.8 256,346.7 255,346.7 254,346.7 253,346.7 252,346.7 251,346.7 250,346.7 249,346.6 248,346.6 247,346.6 246,346.6 245,346.6 244,346.6 243,346.6 242,346.6 241,346.6 240,346.5 239,346.5 238,346.5 237,346.5 236,346.5 235,346.5 234,346.5 233,346.5 232,346.5 231,346.5 230,346.5 229,346.5 228,346.5 227,346.5 226,346.5 225,346.5 224,346.4 223,346.4 222,346.4 221,346.4 220,346.4 219,346.4 218,346.4 217,346.4 216,346.4 215,346.4 214,346.4 213,346.4 212,346.4 211,346.4 210,346.4 209,346.4Z" fill="#e7bb38"/>
<path d="M209,346.4 210,346.4 211,346.4 212,346.4 213,346.4 214,346.4 215,346.4 216,346.4 217,346.4 218,346.4 219,346.4 220,346.4 221,346.4 222,346.4 223,346.4 224,346.4 225,346.5 226,346.5 227,346.5 228,346.5 229,346.5 230,346.5 231,346.5 232,346.5 233,346.5 234,346.5 235,346.5 236,346.5 237,346.5 238,346.5 239,346.5 240,346.5 241,346.6 242,346.6 243,346.6 244,346.6 245,346.6 246,346.6 247,346.6 248,346.6 249,346.6 250,346.7 251,346.7 252,346.7 253,346.7 254,346.7 255,346.7 256,346.7 257,346.8 258,346.8 259,346.8 260,346.8 261,346.8 262,346.8 263,346.9 264,346.9 265,346.9 266,346.9 267,346.9 268,346.9 269,347 270,347 271,347 272,347 273,347.1 274,347.1 275,347.1 276,347.2 277,347.2 278,347.2 279,347.3 280,347.3 281,347.4 282,347.4 283,347.4 284,347.5 285,347.5 286,347.6 287,347.7 288,347.7 289,347.8 290,347.8 291,347.9 292,348 293,348.1 294,348.2 295,348.3 296,348.4 297,348.6 298,348.7 299,348.8 300,348.9 301,349 302,349.1 303,349.3 304,349.4 305,349.6 306,349.7 307,349.9 308,350.1 309,350.3 310,350.5 311,350.7 312,351 313,351.2 314,351.4 315,351.7 316,351.9 317,352.2 318,352.4 319,352.6 320,352.9 321,353.1 322,353.4 323,353.7 324,353.9 325,354.2 326,354.5 327,354.8 328,355.1 329,355.3 330,355.6 331,355.8 332,356 333,356.2 334,356.4 335,356.6 336,356.8 337,357 338,357.2 339,357.3 340,357.5 341,357.7 342,357.9 343,358 344,358.2 345,358.4 346,358.5 347,358.7 348,358.8 349,358.9 350,359 351,359.1 352,359.2 353,359.3 354,359.4 355,359.4 356,359.5 357,359.6 358,359.7 359,359.7 360,359.8 361,359.8 362,359.9 363,359.9 364,360 365,360 366,360.1 367,360.1 368,360.1 369,360.1 370,360.2 371,360.2 372,360.2 373,360.2 373,361 372,361 371,360.9 370,360.9 369,360.9 368,360.9 367,360.9 366,360.8 365,360.8 364,360.8 363,360.7 362,360.7 361,360.6 360,360.6 359,360.5 358,360.5 357,360.4 356,360.3 355,360.2 354,360.2 353,360.1 352,360 351,359.9 350,359.8 349,359.8 348,359.6 347,359.5 346,359.4 345,359.2 344,359.1 343,358.9 342,358.8 341,358.6 340,358.5 339,358.3 338,358.2 337,358 336,357.8 335,357.7 334,357.5 333,357.3 332,357.1 331,357 330,356.8 329,356.6 328,356.4 327,356.2 326,355.9 325,355.7 324,355.5 323,355.3 322,355.1 321,354.9 320,354.7 319,354.6 318,354.4 317,354.2 316,354.1 315,353.9 314,353.7 313,353.6 312,353.4 311,353.2 310,353.1 309,353 308,352.8 307,352.7 306,352.6 305,352.5 304,352.4 303,352.3 302,352.2 301,352.1 300,352.1 299,352 298,351.9 297,351.8 296,351.7 295,351.7 294,351.6 293,351.5 292,351.4 291,351.4 290,351.3 289,351.3 288,351.2 287,351.2 286,351.1 285,351.1 284,351.1 283,351 282,351 281,350.9 280,350.9 279,350.9 278,350.8 277,350.8 276,350.8 275,350.8 274,350.7 273,350.7 272,350.7 271,350.7 270,350.7 269,350.6 268,350.6 267,350.6 266,350.6 265,350.6 264,350.6 263,350.6 262,350.5 261,350.5 260,350.5 259,350.5 258,350.5 257,350.5 256,350.5 255,350.5 254,350.4 253,350.4 252,350.4 251,350.4 250,350.4 249,350.4 248,350.4 247,350.4 246,350.4 245,350.4 244,350.3 243,350.3 242,350.3 241,350.3 240,350.3 239,350.3 238,350.3 237,350.3 236,350.3 235,350.3 234,350.3 233,350.3 232,350.3 231,350.3 230,350.3 229,350.3 228,350.3 227,350.2 226,350.2 225,350.2 224,350.2 223,350.2 222,350.2 221,350.2 220,350.2 219,350.2 218,350.2 217,350.2 216,350.2 215,350.2 214,350.2 213,350.2 212,350.2 211,350.2 210,350.2 209,350.2Z" fill="#f4acac"/>
<path d="M209,350.2 210,350.2 211,350.2 212,350.2 213,350.2 214,350.2 215,350.2 216,350.2 217,350.2 218,350.2 219,350.2 220,350.2 221,350.2 222,350.2 223,350.2 224,350.2 225,350.2 226,350.2 227,350.2 228,350.3 229,350.3 230,350.3 231,350.3 232,350.3 233,350.3 234,350.3 235,350.3 236,350.3 237,350.3 238,350.3 239,350.3 240,350.3 241,350.3 242,350.3 243,350.3 244,350.3 245,350.4 246,350.4 247,350.4 248,350.4 249,350.4 250,350.4 251,350.4 252,350.4 253,350.4 254,350.4 255,350.5 256,350.5 257,350.5 258,350.5 259,350.5 260,350.5 261,350.5 262,350.5 263,350.6 264,350.6 265,350.6 266,350.6 267,350.6 268,350.6 269,350.6 270,350.7 271,350.7 272,350.7 273,350.7 274,350.7 275,350.8 276,350.8 277,350.8 278,350.8 279,350.9 280,350.9 281,350.9 282,351 283,351 284,351.1 285,351.1 286,351.1 287,351.2 288,351.2 289,351.3 290,351.3 291,351.4 292,351.4 293,351.5 294,351.6 295,351.7 296,351.7 297,351.8 298,351.9 299,352 300,352.1 301,352.1 302,352.2 303,352.3 304,352.4 305,352.5 306,352.6 307,352.7 308,352.8 309,353 310,353.1 311,353.2 312,353.4 313,353.6 314,353.7 315,353.9 316,354.1 317,354.2 318,354.4 319,354.6 320,354.7 321,354.9 322,355.1 323,355.3 324,355.5 325,355.7 326,355.9 327,356.2 328,356.4 329,356.6 330,356.8 331,357 332,357.1 333,357.3 334,357.5 335,357.7 336,357.8 337,358 338,358.2 339,358.3 340,358.5 341,358.6 342,358.8 343,358.9 344,359.1 345,359.2 346,359.4 347,359.5 348,359.6 349,359.8 350,359.8 351,359.9 352,360 353,360.1 354,360.2 355,360.2 356,360.3 357,360.4 358,360.5 359,360.5 360,360.6 361,360.6 362,360.7 363,360.7 364,360.8 365,360.8 366,360.8 367,360.9 368,360.9 369,360.9 370,360.9 371,360.9 372,361 373,361 373,361 372,361 371,361 370,361 369,360.9 368,360.9 367,360.9 366,360.9 365,360.9 364,360.8 363,360.8 362,360.8 361,360.8 360,360.7 359,360.7 358,360.7 357,360.6 356,360.6 355,360.5 354,360.5 353,360.5 352,360.4 351,360.4 350,360.3 349,360.3 348,360.2 347,360.1 346,360 345,359.9 344,359.8 343,359.7 342,359.6 341,359.5 340,359.4 339,359.3 338,359.2 337,359.1 336,358.9 335,358.8 334,358.7 333,358.5 332,358.4 331,358.2 330,358.1 329,357.9 328,357.7 327,357.5 326,357.3 325,357 324,356.8 323,356.6 322,356.4 321,356.2 320,355.9 319,355.7 318,355.5 317,355.3 316,355.1 315,354.9 314,354.6 313,354.4 312,354.2 311,354 310,353.8 309,353.6 308,353.4 307,353.2 306,353 305,352.9 304,352.7 303,352.6 302,352.5 301,352.4 300,352.3 299,352.2 298,352 297,351.9 296,351.8 295,351.7 294,351.7 293,351.6 292,351.5 291,351.4 290,351.3 289,351.3 288,351.2 287,351.2 286,351.1 285,351.1 284,351.1 283,351 282,351 281,350.9 280,350.9 279,350.9 278,350.9 277,350.8 276,350.8 275,350.8 274,350.7 273,350.7 272,350.7 271,350.7 270,350.7 269,350.6 268,350.6 267,350.6 266,350.6 265,350.6 264,350.6 263,350.6 262,350.5 261,350.5 260,350.5 259,350.5 258,350.5 257,350.5 256,350.5 255,350.5 254,350.4 253,350.4 252,350.4 251,350.4 250,350.4 249,350.4 248,350.4 247,350.4 246,350.4 245,350.4 244,350.3 243,350.3 242,350.3 241,350.3 240,350.3 239,350.3 238,350.3 237,350.3 236,350.3 235,350.3 234,350.3 233,350.3 232,350.3 231,350.3 230,350.3 229,350.3 228,350.3 227,350.2 226,350.2 225,350.2 224,350.2 223,350.2 222,350.2 221,350.2 220,350.2 219,350.2 218,350.2 217,350.2 216,350.2 215,350.2 214,350.2 213,350.2 212,350.2 211,350.2 210,350.2 209,350.2Z" fill="#ffffff"/>
<path d="M209,350.2 210,350.2 211,350.2 212,350.2 213,350.2 214,350.2 215,350.2 216,350.2 217,350.2 218,350.2 219,350.2 220,350.2 221,350.2 222,350.2 223,350.2 224,350.2 225,350.2 226,350.2 227,350.2 228,350.3 229,350.3 230,350.3 231,350.3 232,350.3 233,350.3 234,350.3 235,350.3 236,350.3 237,350.3 238,350.3 239,350.3 240,350.3 241,350.3 242,350.3 243,350.3 244,350.3 245,350.4 246,350.4 247,350.4 248,350.4 249,350.4 250,350.4 251,350.4 252,350.4 253,350.4 254,350.4 255,350.5 256,350.5 257,350.5 258,350.5 259,350.5 260,350.5 261,350.5 262,350.5 263,350.6 264,350.6 265,350.6 266,350.6 267,350.6 268,350.6 269,350.6 270,350.7 271,350.7 272,350.7 273,350.7 274,350.7 275,350.8 276,350.8 277,350.8 278,350.9 279,350.9 280,350.9 281,350.9 282,351 283,351 284,351.1 285,351.1 286,351.1 287,351.2 288,351.2 289,351.3 290,351.3 291,351.4 292,351.5 293,351.6 294,351.7 295,351.7 296,351.8 297,351.9 298,352 299,352.2 300,352.3 301,352.4 302,352.5 303,352.6 304,352.7 305,352.9 306,353 307,353.2 308,353.4 309,353.6 310,353.8 311,354 312,354.2 313,354.4 314,354.6 315,354.9 316,355.1 317,355.3 318,355.5 319,355.7 320,355.9 321,356.2 322,356.4 323,356.6 324,356.8 325,357 326,357.3 327,357.5 328,357.7 329,357.9 330,358.1 331,358.2 332,358.4 333,358.5 334,358.7 335,358.8 336,358.9 337,359.1 338,359.2 339,359.3 340,359.4 341,359.5 342,359.6 343,359.7 344,359.8 345,359.9 346,360 347,360.1 348,360.2 349,360.3 350,360.3 351,360.4 352,360.4 353,360.5 354,360.5 355,360.5 356,360.6 357,360.6 358,360.7 359,360.7 360,360.7 361,360.8 362,360.8 363,360.8 364,360.8 365,360.9 366,360.9 367,360.9 368,360.9 369,360.9 370,361 371,361 372,361 373,361 373,361.7 372,361.7 371,361.7 370,361.7 369,361.6 368,361.6 367,361.6 366,361.6 365,361.6 364,361.6 363,361.5 362,361.5 361,361.5 360,361.5 359,361.4 358,361.4 357,361.4 356,361.3 355,361.3 354,361.2 353,361.2 352,361.2 351,361.1 350,361.1 349,361 348,361 347,360.9 346,360.8 345,360.7 344,360.6 343,360.6 342,360.5 341,360.4 340,360.3 339,360.2 338,360.1 337,360 336,359.9 335,359.8 334,359.7 333,359.6 332,359.4 331,359.3 330,359.2 329,359.1 328,358.9 327,358.8 326,358.6 325,358.4 324,358.3 323,358.1 322,357.9 321,357.8 320,357.6 319,357.5 318,357.3 317,357.2 316,357 315,356.9 314,356.8 313,356.6 312,356.5 311,356.3 310,356.2 309,356 308,355.9 307,355.8 306,355.7 305,355.6 304,355.5 303,355.4 302,355.3 301,355.2 300,355.2 299,355.1 298,355 297,355 296,354.9 295,354.8 294,354.8 293,354.7 292,354.6 291,354.6 290,354.5 289,354.5 288,354.5 287,354.4 286,354.4 285,354.4 284,354.3 283,354.3 282,354.3 281,354.3 280,354.2 279,354.2 278,354.2 277,354.2 276,354.1 275,354.1 274,354.1 273,354.1 272,354.1 271,354.1 270,354 269,354 268,354 267,354 266,354 265,354 264,354 263,354 262,354 261,353.9 260,353.9 259,353.9 258,353.9 257,353.9 256,353.9 255,353.9 254,353.9 253,353.9 252,353.9 251,353.9 250,353.8 249,353.8 248,353.8 247,353.8 246,353.8 245,353.8 244,353.8 243,353.8 242,353.8 241,353.8 240,353.8 239,353.8 238,353.8 237,353.8 236,353.8 235,353.8 234,353.8 233,353.8 232,353.8 231,353.7 230,353.7 229,353.7 228,353.7 227,353.7 226,353.7 225,353.7 224,353.7 223,353.7 222,353.7 221,353.7 220,353.7 219,353.7 218,353.7 217,353.7 216,353.7 215,353.7 214,353.7 213,353.7 212,353.7 211,353.7 210,353.7 209,353.7Z" fill="#90acde"/>
<path d="M209,353.7 210,353.7 211,353.7 212,353.7 213,353.7 214,353.7 215,353.7 216,353.7 217,353.7 218,353.7 219,353.7 220,353.7 221,353.7 222,353.7 223,353.7 224,353.7 225,353.7 226,353.7 227,353.7 228,353.7 229,353.7 230,353.7 231,353.7 232,353.8 233,353.8 234,353.8 235,353.8 236,353.8 237,353.8 238,353.8 239,353.8 240,353.8 241,353.8 242,353.8 243,353.8 244,353.8 245,353.8 246,353.8 247,353.8 248,353.8 249,353.8 250,353.8 251,353.9 252,353.9 253,353.9 254,353.9 255,353.9 256,353.9 257,353.9 258,353.9 259,353.9 260,353.9 261,353.9 262,354 263,354 264,354 265,354 266,354 267,354 268,354 269,354 270,354 271,354.1 272,354.1 273,354.1 274,354.1 275,354.1 276,354.1 277,354.2 278,354.2 279,354.2 280,354.2 281,354.3 282,354.3 283,354.3 284,354.3 285,354.4 286,354.4 287,354.4 288,354.5 289,354.5 290,354.5 291,354.6 292,354.6 293,354.7 294,354.8 295,354.8 296,354.9 297,355 298,355 299,355.1 300,355.2 301,355.2 302,355.3 303,355.4 304,355.5 305,355.6 306,355.7 307,355.8 308,355.9 309,356 310,356.2 311,356.3 312,356.5 313,356.6 314,356.8 315,356.9 316,357 317,357.2 318,357.3 319,357.5 320,357.6 321,357.8 322,357.9 323,358.1 324,358.3 325,358.4 326,358.6 327,358.8 328,358.9 329,359.1 330,359.2 331,359.3 332,359.4 333,359.6 334,359.7 335,359.8 336,359.9 337,360 338,360.1 339,360.2 340,360.3 341,360.4 342,360.5 343,360.6 344,360.6 345,360.7 346,360.8 347,360.9 348,361 349,361 350,361.1 351,361.1 352,361.2 353,361.2 354,361.2 355,361.3 356,361.3 357,361.4 358,361.4 359,361.4 360,361.5 361,361.5 362,361.5 363,361.5 364,361.6 365,361.6 366,361.6 367,361.6 368,361.6 369,361.6 370,361.7 371,361.7 372,361.7 373,361.7 373,362.5 372,362.5 371,362.5 370,362.5 369,362.5 368,362.5 367,362.5 366,362.5 365,362.4 364,362.4 363,362.4 362,362.4 361,362.4 360,362.3 359,362.3 358,362.3 357,362.2 356,362.2 355,362.2 354,362.1 353,362.1 352,362.1 351,362 350,362 349,361.9 348,361.9 347,361.8 346,361.8 345,361.7 344,361.6 343,361.5 342,361.5 341,361.4 340,361.3 339,361.2 338,361.2 337,361.1 336,361 335,360.9 334,360.9 333,360.8 332,360.7 331,360.6 330,360.5 329,360.5 328,360.4 327,360.3 326,360.2 325,360.1 324,360 323,359.9 322,359.8 321,359.7 320,359.7 319,359.6 318,359.5 317,359.5 316,359.4 315,359.4 314,359.3 313,359.2 312,359.2 311,359.1 310,359.1 309,359 308,358.9 307,358.9 306,358.9 305,358.8 304,358.8 303,358.8 302,358.7 301,358.7 300,358.7 299,358.6 298,358.6 297,358.6 296,358.6 295,358.5 294,358.5 293,358.5 292,358.4 291,358.4 290,358.4 289,358.4 288,358.3 287,358.3 286,358.3 285,358.3 284,358.3 283,358.2 282,358.2 281,358.2 280,358.2 279,358.2 278,358.2 277,358.2 276,358.2 275,358.1 274,358.1 273,358.1 272,358.1 271,358.1 270,358.1 269,358.1 268,358.1 267,358.1 266,358.1 265,358.1 264,358.1 263,358.1 262,358 261,358 260,358 259,358 258,358 257,358 256,358 255,358 254,358 253,358 252,358 251,358 250,358 249,358 248,358 247,358 246,358 245,358 244,358 243,358 242,358 241,358 240,357.9 239,357.9 238,357.9 237,357.9 236,357.9 235,357.9 234,357.9 233,357.9 232,357.9 231,357.9 230,357.9 229,357.9 228,357.9 227,357.9 226,357.9 225,357.9 224,357.9 223,357.9 222,357.9 221,357.9 220,357.9 219,357.9 218,357.9 217,357.9 216,357.9 215,357.9 214,357.9 213,357.9 212,357.9 211,357.9 210,357.9 209,357.9Z" fill="#efd363"/>
<path d="M209,357.9 210,357.9 211,357.9 212,357.9 213,357.9 214,357.9 215,357.9 216,357.9 217,357.9 218,357.9 219,357.9 220,357.9 221,357.9 222,357.9 223,357.9 224,357.9 225,357.9 226,357.9 227,357.9 228,357.9 229,357.9 230,357.9 231,357.9 232,357.9 233,357.9 234,357.9 235,357.9 236,357.9 237,357.9 238,357.9 239,357.9 240,357.9 241,358 242,358 243,358 244,358 245,358 246,358 247,358 248,358 249,358 250,358 251,358 252,358 253,358 254,358 255,358 256,358 257,358 258,358 259,358 260,358 261,358 262,358 263,358.1 264,358.1 265,358.1 266,358.1 267,358.1 268,358.1 269,358.1 270,358.1 271,358.1 272,358.1 273,358.1 274,358.1 275,358.1 276,358.2 277,358.2 278,358.2 279,358.2 280,358.2 281,358.2 282,358.2 283,358.2 284,358.3 285,358.3 286,358.3 287,358.3 288,358.3 289,358.4 290,358.4 291,358.4 292,358.4 293,358.5 294,358.5 295,358.5 296,358.6 297,358.6 298,358.6 299,358.6 300,358.7 301,358.7 302,358.7 303,358.8 304,358.8 305,358.8 306,358.9 307,358.9 308,358.9 309,359 310,359.1 311,359.1 312,359.2 313,359.2 314,359.3 315,359.4 316,359.4 317,359.5 318,359.5 319,359.6 320,359.7 321,359.7 322,359.8 323,359.9 324,360 325,360.1 326,360.2 327,360.3 328,360.4 329,360.5 330,360.5 331,360.6 332,360.7 333,360.8 334,360.9 335,360.9 336,361 337,361.1 338,361.2 339,361.2 340,361.3 341,361.4 342,361.5 343,361.5 344,361.6 345,361.7 346,361.8 347,361.8 348,361.9 349,361.9 350,362 351,362 352,362.1 353,362.1 354,362.1 355,362.2 356,362.2 357,362.2 358,362.3 359,362.3 360,362.3 361,362.4 362,362.4 363,362.4 364,362.4 365,362.4 366,362.5 367,362.5 368,362.5 369,362.5 370,362.5 371,362.5 372,362.5 373,362.5 373,362.5 372,362.5 371,362.5 370,362.5 369,362.5 368,362.5 367,362.5 366,362.5 365,362.5 364,362.5 363,362.5 362,362.5 361,362.5 360,362.5 359,362.5 358,362.5 357,362.5 356,362.5 355,362.5 354,362.5 353,362.5 352,362.5 351,362.4 350,362.4 349,362.4 348,362.4 347,362.4 346,362.4 345,362.4 344,362.4 343,362.3 342,362.3 341,362.3 340,362.3 339,362.2 338,362.2 337,362.2 336,362.1 335,362.1 334,362 333,362 332,361.9 331,361.9 330,361.8 329,361.8 328,361.7 327,361.6 326,361.5 325,361.4 324,361.3 323,361.2 322,361.1 321,361 320,360.9 319,360.8 318,360.7 317,360.6 316,360.4 315,360.3 314,360.2 313,360.1 312,360 311,359.8 310,359.7 309,359.6 308,359.5 307,359.4 306,359.3 305,359.2 304,359.1 303,359.1 302,359 301,358.9 300,358.9 299,358.8 298,358.8 297,358.7 296,358.6 295,358.6 294,358.6 293,358.5 292,358.5 291,358.4 290,358.4 289,358.4 288,358.4 287,358.3 286,358.3 285,358.3 284,358.3 283,358.3 282,358.2 281,358.2 280,358.2 279,358.2 278,358.2 277,358.2 276,358.2 275,358.1 274,358.1 273,358.1 272,358.1 271,358.1 270,358.1 269,358.1 268,358.1 267,358.1 266,358.1 265,358.1 264,358.1 263,358.1 262,358 261,358 260,358 259,358 258,358 257,358 256,358 255,358 254,358 253,358 252,358 251,358 250,358 249,358 248,358 247,358 246,358 245,358 244,358 243,358 242,358 241,358 240,357.9 239,357.9 238,357.9 237,357.9 236,357.9 235,357.9 234,357.9 233,357.9 232,357.9 231,357.9 230,357.9 229,357.9 228,357.9 227,357.9 226,357.9 225,357.9 224,357.9 223,357.9 222,357.9 221,357.9 220,357.9 219,357.9 218,357.9 217,357.9 216,357.9 215,357.9 214,357.9 213,357.9 212,357.9 211,357.9 210,357.9 209,357.9Z" fill="#ffffff"/>
<path d="M209,357.9 210,357.9 211,357.9 212,357.9 213,357.9 214,357.9 215,357.9 216,357.9 217,357.9 218,357.9 219,357.9 220,357.9 221,357.9 222,357.9 223,357.9 224,357.9 225,357.9 226,357.9 227,357.9 228,357.9 229,357.9 230,357.9 231,357.9 232,357.9 233,357.9 234,357.9 235,357.9 236,357.9 237,357.9 238,357.9 239,357.9 240,357.9 241,358 242,358 243,358 244,358 245,358 246,358 247,358 248,358 249,358 250,358 251,358 252,358 253,358 254,358 255,358 256,358 257,358 258,358 259,358 260,358 261,358 262,358 263,358.1 264,358.1 265,358.1 266,358.1 267,358.1 268,358.1 269,358.1 270,358.1 271,358.1 272,358.1 273,358.1 274,358.1 275,358.1 276,358.2 277,358.2 278,358.2 279,358.2 280,358.2 281,358.2 282,358.2 283,358.3 284,358.3 285,358.3 286,358.3 287,358.3 288,358.4 289,358.4 290,358.4 291,358.4 292,358.5 293,358.5 294,358.6 295,358.6 296,358.6 297,358.7 298,358.8 299,358.8 300,358.9 301,358.9 302,359 303,359.1 304,359.1 305,359.2 306,359.3 307,359.4 308,359.5 309,359.6 310,359.7 311,359.8 312,360 313,360.1 314,360.2 315,360.3 316,360.4 317,360.6 318,360.7 319,360.8 320,360.9 321,361 322,361.1 323,361.2 324,361.3 325,361.4 326,361.5 327,361.6 328,361.7 329,361.8 330,361.8 331,361.9 332,361.9 333,362 334,362 335,362.1 336,362.1 337,362.2 338,362.2 339,362.2 340,362.3 341,362.3 342,362.3 343,362.3 344,362.4 345,362.4 346,362.4 347,362.4 348,362.4 349,362.4 350,362.4 351,362.4 352,362.5 353,362.5 354,362.5 355,362.5 356,362.5 357,362.5 358,362.5 359,362.5 360,362.5 361,362.5 362,362.5 363,362.5 364,362.5 365,362.5 366,362.5 367,362.5 368,362.5 369,362.5 370,362.5 371,362.5 372,362.5 373,362.5 373,363 372,363 371,363 370,363 369,363 368,363 367,363 366,363 365,363 364,363 363,363 362,363 361,363 360,363 359,363 358,363 357,363 356,363 355,363 354,363 353,363 352,362.9 351,362.9 350,362.9 349,362.9 348,362.9 347,362.9 346,362.9 345,362.9 344,362.9 343,362.9 342,362.9 341,362.8 340,362.8 339,362.8 338,362.8 337,362.8 336,362.7 335,362.7 334,362.7 333,362.7 332,362.6 331,362.6 330,362.6 329,362.5 328,362.5 327,362.4 326,362.4 325,362.3 324,362.3 323,362.2 322,362.1 321,362.1 320,362 319,361.9 318,361.9 317,361.8 316,361.7 315,361.7 314,361.6 313,361.5 312,361.4 311,361.4 310,361.3 309,361.2 308,361.2 307,361.1 306,361 305,361 304,360.9 303,360.9 302,360.9 301,360.8 300,360.8 299,360.7 298,360.7 297,360.7 296,360.7 295,360.6 294,360.6 293,360.6 292,360.5 291,360.5 290,360.5 289,360.5 288,360.5 287,360.5 286,360.4 285,360.4 284,360.4 283,360.4 282,360.4 281,360.4 280,360.4 279,360.4 278,360.4 277,360.4 276,360.4 275,360.3 274,360.3 273,360.3 272,360.3 271,360.3 270,360.3 269,360.3 268,360.3 267,360.3 266,360.3 265,360.3 264,360.3 263,360.3 262,360.3 261,360.3 260,360.3 259,360.3 258,360.3 257,360.3 256,360.3 255,360.3 254,360.3 253,360.3 252,360.3 251,360.3 250,360.3 249,360.2 248,360.2 247,360.2 246,360.2 245,360.2 244,360.2 243,360.2 242,360.2 241,360.2 240,360.2 239,360.2 238,360.2 237,360.2 236,360.2 235,360.2 234,360.2 233,360.2 232,360.2 231,360.2 230,360.2 229,360.2 228,360.2 227,360.2 226,360.2 225,360.2 224,360.2 223,360.2 222,360.2 221,360.2 220,360.2 219,360.2 218,360.2 217,360.2 216,360.2 215,360.2 214,360.2 213,360.2 212,360.2 211,360.2 210,360.2 209,360.2Z" fill="#d3c8e9"/>
<path d="M209,360.2 210,360.2 211,360.2 212,360.2 213,360.2 214,360.2 215,360.2 216,360.2 217,360.2 218,360.2 219,360.2 220,360.2 221,360.2 222,360.2 223,360.2 224,360.2 225,360.2 226,360.2 227,360.2 228,360.2 229,360.2 230,360.2 231,360.2 232,360.2 233,360.2 234,360.2 235,360.2 236,360.2 237,360.2 238,360.2 239,360.2 240,360.2 241,360.2 242,360.2 243,360.2 244,360.2 245,360.2 246,360.2 247,360.2 248,360.2 249,360.2 250,360.3 251,360.3 252,360.3 253,360.3 254,360.3 255,360.3 256,360.3 257,360.3 258,360.3 259,360.3 260,360.3 261,360.3 262,360.3 263,360.3 264,360.3 265,360.3 266,360.3 267,360.3 268,360.3 269,360.3 270,360.3 271,360.3 272,360.3 273,360.3 274,360.3 275,360.3 276,360.4 277,360.4 278,360.4 279,360.4 280,360.4 281,360.4 282,360.4 283,360.4 284,360.4 285,360.4 286,360.4 287,360.5 288,360.5 289,360.5 290,360.5 291,360.5 292,360.5 293,360.6 294,360.6 295,360.6 296,360.7 297,360.7 298,360.7 299,360.7 300,360.8 301,360.8 302,360.9 303,360.9 304,360.9 305,361 306,361 307,361.1 308,361.2 309,361.2 310,361.3 311,361.4 312,361.4 313,361.5 314,361.6 315,361.7 316,361.7 317,361.8 318,361.9 319,361.9 320,362 321,362.1 322,362.1 323,362.2 324,362.3 325,362.3 326,362.4 327,362.4 328,362.5 329,362.5 330,362.6 331,362.6 332,362.6 333,362.7 334,362.7 335,362.7 336,362.7 337,362.8 338,362.8 339,362.8 340,362.8 341,362.8 342,362.9 343,362.9 344,362.9 345,362.9 346,362.9 347,362.9 348,362.9 349,362.9 350,362.9 351,362.9 352,362.9 353,363 354,363 355,363 356,363 357,363 358,363 359,363 360,363 361,363 362,363 363,363 364,363 365,363 366,363 367,363 368,363 369,363 370,363 371,363 372,363 373,363 373,363.3 372,363.3 371,363.3 370,363.3 369,363.3 368,363.3 367,363.3 366,363.3 365,363.3 364,363.3 363,363.3 362,363.3 361,363.3 360,363.3 359,363.3 358,363.3 357,363.3 356,363.3 355,363.3 354,363.3 353,363.3 352,363.3 351,363.3 350,363.3 349,363.3 348,363.3 347,363.3 346,363.3 345,363.3 344,363.3 343,363.3 342,363.2 341,363.2 340,363.2 339,363.2 338,363.2 337,363.2 336,363.2 335,363.2 334,363.2 333,363.1 332,363.1 331,363.1 330,363.1 329,363.1 328,363 327,363 326,363 325,362.9 324,362.9 323,362.9 322,362.8 321,362.8 320,362.8 319,362.7 318,362.7 317,362.7 316,362.6 315,362.6 314,362.6 313,362.5 312,362.5 311,362.4 310,362.4 309,362.4 308,362.3 307,362.3 306,362.3 305,362.2 304,362.2 303,362.2 302,362.2 301,362.1 300,362.1 299,362.1 298,362.1 297,362.1 296,362 295,362 294,362 293,362 292,362 291,362 290,362 289,362 288,361.9 287,361.9 286,361.9 285,361.9 284,361.9 283,361.9 282,361.9 281,361.9 280,361.9 279,361.9 278,361.9 277,361.9 276,361.9 275,361.9 274,361.9 273,361.9 272,361.9 271,361.9 270,361.9 269,361.9 268,361.9 267,361.9 266,361.9 265,361.9 264,361.9 263,361.8 262,361.8 261,361.8 260,361.8 259,361.8 258,361.8 257,361.8 256,361.8 255,361.8 254,361.8 253,361.8 252,361.8 251,361.8 250,361.8 249,361.8 248,361.8 247,361.8 246,361.8 245,361.8 244,361.8 243,361.8 242,361.8 241,361.8 240,361.8 239,361.8 238,361.8 237,361.8 236,361.8 235,361.8 234,361.8 233,361.8 232,361.8 231,361.8 230,361.8 229,361.8 228,361.8 227,361.8 226,361.8 225,361.8 224,361.8 223,361.8 222,361.8 221,361.8 220,361.8 219,361.8 218,361.8 217,361.8 216,361.8 215,361.8 214,361.8 213,361.8 212,361.8 211,361.8 210,361.8 209,361.8Z" fill="#79d3c8"/>
<path d="M209,361.8 210,361.8 211,361.8 212,361.8 213,361.8 214,361.8 215,361.8 216,361.8 217,361.8 218,361.8 219,361.8 220,361.8 221,361.8 222,361.8 223,361.8 224,361.8 225,361.8 226,361.8 227,361.8 228,361.8 229,361.8 230,361.8 231,361.8 232,361.8 233,361.8 234,361.8 235,361.8 236,361.8 237,361.8 238,361.8 239,361.8 240,361.8 241,361.8 242,361.8 243,361.8 244,361.8 245,361.8 246,361.8 247,361.8 248,361.8 249,361.8 250,361.8 251,361.8 252,361.8 253,361.8 254,361.8 255,361.8 256,361.8 257,361.8 258,361.8 259,361.8 260,361.8 261,361.8 262,361.8 263,361.8 264,361.9 265,361.9 266,361.9 267,361.9 268,361.9 269,361.9 270,361.9 271,361.9 272,361.9 273,361.9 274,361.9 275,361.9 276,361.9 277,361.9 278,361.9 279,361.9 280,361.9 281,361.9 282,361.9 283,361.9 284,361.9 285,361.9 286,361.9 287,361.9 288,361.9 289,362 290,362 291,362 292,362 293,362 294,362 295,362 296,362 297,362.1 298,362.1 299,362.1 300,362.1 301,362.1 302,362.2 303,362.2 304,362.2 305,362.2 306,362.3 307,362.3 308,362.3 309,362.4 310,362.4 311,362.4 312,362.5 313,362.5 314,362.6 315,362.6 316,362.6 317,362.7 318,362.7 319,362.7 320,362.8 321,362.8 322,362.8 323,362.9 324,362.9 325,362.9 326,363 327,363 328,363 329,363.1 330,363.1 331,363.1 332,363.1 333,363.1 334,363.2 335,363.2 336,363.2 337,363.2 338,363.2 339,363.2 340,363.2 341,363.2 342,363.2 343,363.3 344,363.3 345,363.3 346,363.3 347,363.3 348,363.3 349,363.3 350,363.3 351,363.3 352,363.3 353,363.3 354,363.3 355,363.3 356,363.3 357,363.3 358,363.3 359,363.3 360,363.3 361,363.3 362,363.3 363,363.3 364,363.3 365,363.3 366,363.3 367,363.3 368,363.3 369,363.3 370,363.3 371,363.3 372,363.3 373,363.3 373,363.7 372,363.7 371,363.7 370,363.7 369,363.7 368,363.7 367,363.7 366,363.7 365,363.7 364,363.7 363,363.7 362,363.7 361,363.7 360,363.7 359,363.7 358,363.7 357,363.7 356,363.7 355,363.7 354,363.7 353,363.7 352,363.7 351,363.7 350,363.7 349,363.7 348,363.7 347,363.7 346,363.7 345,363.7 344,363.7 343,363.7 342,363.7 341,363.7 340,363.7 339,363.7 338,363.7 337,363.7 336,363.7 335,363.7 334,363.7 333,363.7 332,363.7 331,363.7 330,363.7 329,363.7 328,363.7 327,363.7 326,363.7 325,363.7 324,363.7 323,363.7 322,363.7 321,363.7 320,363.7 319,363.7 318,363.7 317,363.7 316,363.7 315,363.7 314,363.7 313,363.7 312,363.7 311,363.7 310,363.7 309,363.7 308,363.7 307,363.7 306,363.7 305,363.7 304,363.7 303,363.7 302,363.7 301,363.7 300,363.7 299,363.7 298,363.7 297,363.7 296,363.7 295,363.7 294,363.7 293,363.7 292,363.7 291,363.7 290,363.7 289,363.7 288,363.7 287,363.7 286,363.7 285,363.7 284,363.7 283,363.7 282,363.7 281,363.7 280,363.7 279,363.7 278,363.7 277,363.7 276,363.7 275,363.7 274,363.7 273,363.7 272,363.7 271,363.7 270,363.7 269,363.7 268,363.7 267,363.7 266,363.7 265,363.7 264,363.7 263,363.7 262,363.7 261,363.7 260,363.7 259,363.7 258,363.7 257,363.7 256,363.7 255,363.7 254,363.7 253,363.7 252,363.7 251,363.7 250,363.7 249,363.7 248,363.7 247,363.7 246,363.7 245,363.7 244,363.7 243,363.7 242,363.7 241,363.7 240,363.7 239,363.7 238,363.7 237,363.7 236,363.7 235,363.7 234,363.7 233,363.7 232,363.7 231,363.7 230,363.7 229,363.7 228,363.7 227,363.7 226,363.7 225,363.7 224,363.7 223,363.7 222,363.7 221,363.7 220,363.7 219,363.7 218,363.7 217,363.7 216,363.7 215,363.7 214,363.7 213,363.7 212,363.7 211,363.7 210,363.7 209,363.7Z" fill="#63acb1"/>
</g>
<linearGradient id="gmCR" gradientUnits="userSpaceOnUse" x1="450" x2="462" y1="0" y2="0"><stop offset="0" stop-color="#000"/><stop offset="1" stop-color="#fff"/></linearGradient><mask id="mCR" maskUnits="userSpaceOnUse" x="0" y="0" width="520" height="638"><rect x="0" y="0" width="520" height="638" fill="url(#gmCR)"/></mask>
<g mask="url(#mCR)">
<path d="M449,351.5 449.5,351.4 450,351.4 450.5,351.3 451,351.2 451.5,351.1 452,351 452.5,350.9 453,350.8 453.5,350.6 454,350.5 454.5,350.3 455,350 455.5,349.6 456,349.1 456.5,348.5 457,347.9 457.5,347.2 458,346.5 458.5,345.7 459,345 459.5,344.2 460,343.2 460.5,342.2 461,341 461.5,339.7 462,338.3 462.5,336.7 463,334.5 463.5,332 464,329.1 464.5,326.3 465,323.7 465.5,321 466,318.3 466.5,315.8 467,313.5 467.5,311.5 468,309.6 468.5,307.9 469,306.3 469.5,305.1 470,303.9 470.5,302.8 471,301.8 471.5,300.9 472,300 472.5,299.4 473,298.8 473.5,298.3 474,297.9 474.5,297.5 475,297.1 475.5,296.8 476,296.5 476.5,296.3 477,296.1 477.5,295.9 478,295.8 478.5,295.7 479,295.6 479.5,295.5 480,295.4 480.5,295.3 481,295.2 481.5,295.1 482,295.1 482.5,295 483,295 483.5,295 484,295 484.5,295 485,295 485.5,295 486,295 486.5,295 487,295 487.5,295 488,295 488.5,295 489,295 489.5,295 490,295 490.5,295 491,295 491.5,295 492,295 492.5,295 493,295 493.5,295 494,295 494.5,295 495,295 495.5,295 496,295 496.5,295 497,295 497.5,295 498,295 498.5,295 499,295 499.5,295 500,295 500.5,295 501,295 501.5,295 502,295 502.5,295 503,295 503.5,295 504,295 504.5,295 505,295 505.5,295 506,295 506.5,295 507,295 507,302.9 506.5,302.9 506,302.9 505.5,302.9 505,302.9 504.5,302.9 504,302.9 503.5,302.9 503,302.9 502.5,302.9 502,302.9 501.5,302.9 501,302.9 500.5,302.9 500,302.9 499.5,302.9 499,302.9 498.5,302.9 498,302.9 497.5,302.9 497,302.9 496.5,302.9 496,302.9 495.5,302.9 495,302.9 494.5,302.9 494,302.9 493.5,302.9 493,302.9 492.5,302.9 492,302.9 491.5,302.9 491,302.9 490.5,302.9 490,302.9 489.5,302.9 489,302.9 488.5,302.9 488,302.9 487.5,302.9 487,302.9 486.5,302.9 486,302.9 485.5,302.9 485,302.9 484.5,302.9 484,302.9 483.5,302.9 483,302.9 482.5,302.9 482,303 481.5,303 481,303.1 480.5,303.1 480,303.2 479.5,303.3 479,303.4 478.5,303.5 478,303.6 477.5,303.7 477,303.8 476.5,304 476,304.2 475.5,304.4 475,304.6 474.5,304.9 474,305.2 473.5,305.6 473,305.9 472.5,306.3 472,306.9 471.5,307.5 471,308.3 470.5,309.1 470,310 469.5,311 469,312.1 468.5,313.4 468,314.8 467.5,316.5 467,318.2 466.5,320.2 466,322.5 465.5,324.9 465,327.4 464.5,329.8 464,332.3 463.5,334.9 463,337.2 462.5,339.1 462,340.6 461.5,341.9 461,343.1 460.5,344.2 460,345.2 459.5,346.1 459,346.9 458.5,347.6 458,348.2 457.5,348.9 457,349.5 456.5,350.1 456,350.6 455.5,351.1 455,351.5 454.5,351.8 454,352 453.5,352.1 453,352.2 452.5,352.3 452,352.4 451.5,352.5 451,352.6 450.5,352.7 450,352.8 449.5,352.8 449,352.9Z" fill="#64c274"/>
<path d="M449,352.9 449.5,352.8 450,352.8 450.5,352.7 451,352.6 451.5,352.5 452,352.4 452.5,352.3 453,352.2 453.5,352.1 454,352 454.5,351.8 455,351.5 455.5,351.1 456,350.6 456.5,350.1 457,349.5 457.5,348.9 458,348.2 458.5,347.6 459,346.9 459.5,346.1 460,345.2 460.5,344.2 461,343.1 461.5,341.9 462,340.6 462.5,339.1 463,337.2 463.5,334.9 464,332.3 464.5,329.8 465,327.4 465.5,324.9 466,322.5 466.5,320.2 467,318.2 467.5,316.5 468,314.8 468.5,313.4 469,312.1 469.5,311 470,310 470.5,309.1 471,308.3 471.5,307.5 472,306.9 472.5,306.3 473,305.9 473.5,305.6 474,305.2 474.5,304.9 475,304.6 475.5,304.4 476,304.2 476.5,304 477,303.8 477.5,303.7 478,303.6 478.5,303.5 479,303.4 479.5,303.3 480,303.2 480.5,303.1 481,303.1 481.5,303 482,303 482.5,302.9 483,302.9 483.5,302.9 484,302.9 484.5,302.9 485,302.9 485.5,302.9 486,302.9 486.5,302.9 487,302.9 487.5,302.9 488,302.9 488.5,302.9 489,302.9 489.5,302.9 490,302.9 490.5,302.9 491,302.9 491.5,302.9 492,302.9 492.5,302.9 493,302.9 493.5,302.9 494,302.9 494.5,302.9 495,302.9 495.5,302.9 496,302.9 496.5,302.9 497,302.9 497.5,302.9 498,302.9 498.5,302.9 499,302.9 499.5,302.9 500,302.9 500.5,302.9 501,302.9 501.5,302.9 502,302.9 502.5,302.9 503,302.9 503.5,302.9 504,302.9 504.5,302.9 505,302.9 505.5,302.9 506,302.9 506.5,302.9 507,302.9 507,310.2 506.5,310.2 506,310.2 505.5,310.2 505,310.2 504.5,310.2 504,310.2 503.5,310.2 503,310.2 502.5,310.2 502,310.2 501.5,310.2 501,310.2 500.5,310.2 500,310.2 499.5,310.2 499,310.2 498.5,310.2 498,310.2 497.5,310.2 497,310.2 496.5,310.2 496,310.2 495.5,310.2 495,310.2 494.5,310.2 494,310.2 493.5,310.2 493,310.2 492.5,310.2 492,310.2 491.5,310.2 491,310.2 490.5,310.2 490,310.2 489.5,310.2 489,310.2 488.5,310.2 488,310.2 487.5,310.2 487,310.2 486.5,310.2 486,310.2 485.5,310.2 485,310.2 484.5,310.2 484,310.2 483.5,310.2 483,310.2 482.5,310.2 482,310.3 481.5,310.3 481,310.3 480.5,310.4 480,310.5 479.5,310.5 479,310.6 478.5,310.7 478,310.8 477.5,310.8 477,310.9 476.5,311 476,311.2 475.5,311.4 475,311.6 474.5,311.8 474,312 473.5,312.2 473,312.5 472.5,312.8 472,313.2 471.5,313.7 471,314.3 470.5,314.9 470,315.7 469.5,316.4 469,317.3 468.5,318.4 468,319.7 467.5,321.1 467,322.6 466.5,324.4 466,326.4 465.5,328.6 465,330.8 464.5,332.9 464,335.2 463.5,337.5 463,339.7 462.5,341.5 462,342.8 461.5,344 461,345.1 460.5,346.1 460,347 459.5,347.8 459,348.6 458.5,349.2 458,349.9 457.5,350.5 457,351.1 456.5,351.6 456,352.1 455.5,352.5 455,352.9 454.5,353.1 454,353.3 453.5,353.5 453,353.6 452.5,353.7 452,353.8 451.5,353.9 451,353.9 450.5,354 450,354.1 449.5,354.1 449,354.2Z" fill="#7fd3f4"/>
<path d="M449,354.2 449.5,354.1 450,354.1 450.5,354 451,353.9 451.5,353.9 452,353.8 452.5,353.7 453,353.6 453.5,353.5 454,353.3 454.5,353.1 455,352.9 455.5,352.5 456,352.1 456.5,351.6 457,351.1 457.5,350.5 458,349.9 458.5,349.2 459,348.6 459.5,347.8 460,347 460.5,346.1 461,345.1 461.5,344 462,342.8 462.5,341.5 463,339.7 463.5,337.5 464,335.2 464.5,332.9 465,330.8 465.5,328.6 466,326.4 466.5,324.4 467,322.6 467.5,321.1 468,319.7 468.5,318.4 469,317.3 469.5,316.4 470,315.7 470.5,314.9 471,314.3 471.5,313.7 472,313.2 472.5,312.8 473,312.5 473.5,312.2 474,312 474.5,311.8 475,311.6 475.5,311.4 476,311.2 476.5,311 477,310.9 477.5,310.8 478,310.8 478.5,310.7 479,310.6 479.5,310.5 480,310.5 480.5,310.4 481,310.3 481.5,310.3 482,310.3 482.5,310.2 483,310.2 483.5,310.2 484,310.2 484.5,310.2 485,310.2 485.5,310.2 486,310.2 486.5,310.2 487,310.2 487.5,310.2 488,310.2 488.5,310.2 489,310.2 489.5,310.2 490,310.2 490.5,310.2 491,310.2 491.5,310.2 492,310.2 492.5,310.2 493,310.2 493.5,310.2 494,310.2 494.5,310.2 495,310.2 495.5,310.2 496,310.2 496.5,310.2 497,310.2 497.5,310.2 498,310.2 498.5,310.2 499,310.2 499.5,310.2 500,310.2 500.5,310.2 501,310.2 501.5,310.2 502,310.2 502.5,310.2 503,310.2 503.5,310.2 504,310.2 504.5,310.2 505,310.2 505.5,310.2 506,310.2 506.5,310.2 507,310.2 507,310.2 506.5,310.2 506,310.2 505.5,310.2 505,310.2 504.5,310.2 504,310.2 503.5,310.2 503,310.2 502.5,310.2 502,310.2 501.5,310.2 501,310.2 500.5,310.2 500,310.2 499.5,310.2 499,310.2 498.5,310.2 498,310.2 497.5,310.2 497,310.2 496.5,310.2 496,310.2 495.5,310.2 495,310.2 494.5,310.2 494,310.2 493.5,310.2 493,310.2 492.5,310.2 492,310.2 491.5,310.2 491,310.2 490.5,310.2 490,310.2 489.5,310.2 489,310.2 488.5,310.2 488,310.2 487.5,310.2 487,310.2 486.5,310.2 486,310.2 485.5,310.2 485,310.2 484.5,310.2 484,310.2 483.5,310.2 483,310.2 482.5,310.2 482,310.3 481.5,310.3 481,310.3 480.5,310.4 480,310.5 479.5,310.6 479,310.6 478.5,310.7 478,310.8 477.5,310.9 477,311 476.5,311.2 476,311.4 475.5,311.6 475,311.8 474.5,312.1 474,312.4 473.5,312.7 473,313.1 472.5,313.5 472,314 471.5,314.6 471,315.3 470.5,316.1 470,316.9 469.5,317.8 469,318.8 468.5,320 468,321.3 467.5,322.8 467,324.3 466.5,326.1 466,328.1 465.5,330.2 465,332.3 464.5,334.4 464,336.6 463.5,338.8 463,340.8 462.5,342.5 462,343.7 461.5,344.9 461,345.9 460.5,346.8 460,347.7 459.5,348.4 459,349.1 458.5,349.7 458,350.2 457.5,350.8 457,351.3 456.5,351.8 456,352.3 455.5,352.7 455,353 454.5,353.2 454,353.4 453.5,353.5 453,353.6 452.5,353.7 452,353.8 451.5,353.9 451,354 450.5,354 450,354.1 449.5,354.1 449,354.2Z" fill="#ffffff"/>
<path d="M449,354.2 449.5,354.1 450,354.1 450.5,354 451,354 451.5,353.9 452,353.8 452.5,353.7 453,353.6 453.5,353.5 454,353.4 454.5,353.2 455,353 455.5,352.7 456,352.3 456.5,351.8 457,351.3 457.5,350.8 458,350.2 458.5,349.7 459,349.1 459.5,348.4 460,347.7 460.5,346.8 461,345.9 461.5,344.9 462,343.7 462.5,342.5 463,340.8 463.5,338.8 464,336.6 464.5,334.4 465,332.3 465.5,330.2 466,328.1 466.5,326.1 467,324.3 467.5,322.8 468,321.3 468.5,320 469,318.8 469.5,317.8 470,316.9 470.5,316.1 471,315.3 471.5,314.6 472,314 472.5,313.5 473,313.1 473.5,312.7 474,312.4 474.5,312.1 475,311.8 475.5,311.6 476,311.4 476.5,311.2 477,311 477.5,310.9 478,310.8 478.5,310.7 479,310.6 479.5,310.6 480,310.5 480.5,310.4 481,310.3 481.5,310.3 482,310.3 482.5,310.2 483,310.2 483.5,310.2 484,310.2 484.5,310.2 485,310.2 485.5,310.2 486,310.2 486.5,310.2 487,310.2 487.5,310.2 488,310.2 488.5,310.2 489,310.2 489.5,310.2 490,310.2 490.5,310.2 491,310.2 491.5,310.2 492,310.2 492.5,310.2 493,310.2 493.5,310.2 494,310.2 494.5,310.2 495,310.2 495.5,310.2 496,310.2 496.5,310.2 497,310.2 497.5,310.2 498,310.2 498.5,310.2 499,310.2 499.5,310.2 500,310.2 500.5,310.2 501,310.2 501.5,310.2 502,310.2 502.5,310.2 503,310.2 503.5,310.2 504,310.2 504.5,310.2 505,310.2 505.5,310.2 506,310.2 506.5,310.2 507,310.2 507,314.2 506.5,314.2 506,314.2 505.5,314.2 505,314.2 504.5,314.2 504,314.2 503.5,314.2 503,314.2 502.5,314.2 502,314.2 501.5,314.2 501,314.2 500.5,314.2 500,314.2 499.5,314.2 499,314.2 498.5,314.2 498,314.2 497.5,314.2 497,314.2 496.5,314.2 496,314.2 495.5,314.2 495,314.2 494.5,314.2 494,314.2 493.5,314.2 493,314.2 492.5,314.2 492,314.2 491.5,314.2 491,314.2 490.5,314.2 490,314.2 489.5,314.2 489,314.2 488.5,314.2 488,314.2 487.5,314.2 487,314.2 486.5,314.2 486,314.2 485.5,314.2 485,314.2 484.5,314.2 484,314.2 483.5,314.2 483,314.2 482.5,314.2 482,314.3 481.5,314.3 481,314.3 480.5,314.4 480,314.5 479.5,314.5 479,314.6 478.5,314.7 478,314.7 477.5,314.8 477,314.9 476.5,315.1 476,315.2 475.5,315.4 475,315.6 474.5,315.9 474,316.1 473.5,316.4 473,316.7 472.5,317 472,317.5 471.5,318 471,318.6 470.5,319.3 470,320 469.5,320.8 469,321.7 468.5,322.8 468,324 467.5,325.3 467,326.8 466.5,328.4 466,330.2 465.5,332.2 465,334.2 464.5,336.1 464,338.2 463.5,340.3 463,342.2 462.5,343.7 462,344.9 461.5,346 461,347 460.5,347.9 460,348.7 459.5,349.4 459,350 458.5,350.6 458,351.1 457.5,351.7 457,352.2 456.5,352.7 456,353.1 455.5,353.5 455,353.8 454.5,354 454,354.2 453.5,354.3 453,354.4 452.5,354.5 452,354.5 451.5,354.6 451,354.7 450.5,354.7 450,354.8 449.5,354.8 449,354.9Z" fill="#c884bc"/>
<path d="M449,354.9 449.5,354.8 450,354.8 450.5,354.7 451,354.7 451.5,354.6 452,354.5 452.5,354.5 453,354.4 453.5,354.3 454,354.2 454.5,354 455,353.8 455.5,353.5 456,353.1 456.5,352.7 457,352.2 457.5,351.7 458,351.1 458.5,350.6 459,350 459.5,349.4 460,348.7 460.5,347.9 461,347 461.5,346 462,344.9 462.5,343.7 463,342.2 463.5,340.3 464,338.2 464.5,336.1 465,334.2 465.5,332.2 466,330.2 466.5,328.4 467,326.8 467.5,325.3 468,324 468.5,322.8 469,321.7 469.5,320.8 470,320 470.5,319.3 471,318.6 471.5,318 472,317.5 472.5,317 473,316.7 473.5,316.4 474,316.1 474.5,315.9 475,315.6 475.5,315.4 476,315.2 476.5,315.1 477,314.9 477.5,314.8 478,314.7 478.5,314.7 479,314.6 479.5,314.5 480,314.5 480.5,314.4 481,314.3 481.5,314.3 482,314.3 482.5,314.2 483,314.2 483.5,314.2 484,314.2 484.5,314.2 485,314.2 485.5,314.2 486,314.2 486.5,314.2 487,314.2 487.5,314.2 488,314.2 488.5,314.2 489,314.2 489.5,314.2 490,314.2 490.5,314.2 491,314.2 491.5,314.2 492,314.2 492.5,314.2 493,314.2 493.5,314.2 494,314.2 494.5,314.2 495,314.2 495.5,314.2 496,314.2 496.5,314.2 497,314.2 497.5,314.2 498,314.2 498.5,314.2 499,314.2 499.5,314.2 500,314.2 500.5,314.2 501,314.2 501.5,314.2 502,314.2 502.5,314.2 503,314.2 503.5,314.2 504,314.2 504.5,314.2 505,314.2 505.5,314.2 506,314.2 506.5,314.2 507,314.2 507,319.9 506.5,319.9 506,319.9 505.5,319.9 505,319.9 504.5,319.9 504,319.9 503.5,319.9 503,319.9 502.5,319.9 502,319.9 501.5,319.9 501,319.9 500.5,319.9 500,319.9 499.5,319.9 499,319.9 498.5,319.9 498,319.9 497.5,319.9 497,319.9 496.5,319.9 496,319.9 495.5,319.9 495,319.9 494.5,319.9 494,319.9 493.5,319.9 493,319.9 492.5,319.9 492,319.9 491.5,319.9 491,319.9 490.5,319.9 490,319.9 489.5,319.9 489,319.9 488.5,319.9 488,319.9 487.5,319.9 487,319.9 486.5,319.9 486,319.9 485.5,319.9 485,319.9 484.5,319.9 484,319.9 483.5,319.9 483,319.9 482.5,319.9 482,319.9 481.5,320 481,320 480.5,320.1 480,320.1 479.5,320.2 479,320.2 478.5,320.3 478,320.4 477.5,320.4 477,320.5 476.5,320.6 476,320.7 475.5,320.9 475,321 474.5,321.2 474,321.4 473.5,321.6 473,321.8 472.5,322.1 472,322.4 471.5,322.8 471,323.3 470.5,323.8 470,324.4 469.5,325.1 469,325.8 468.5,326.7 468,327.8 467.5,328.9 467,330.2 466.5,331.6 466,333.3 465.5,335 465,336.8 464.5,338.6 464,340.5 463.5,342.4 463,344.1 462.5,345.5 462,346.6 461.5,347.6 461,348.5 460.5,349.4 460,350.1 459.5,350.8 459,351.3 458.5,351.9 458,352.4 457.5,352.9 457,353.4 456.5,353.8 456,354.2 455.5,354.6 455,354.8 454.5,355.1 454,355.2 453.5,355.3 453,355.4 452.5,355.5 452,355.6 451.5,355.6 451,355.7 450.5,355.8 450,355.8 449.5,355.9 449,355.9Z" fill="#ef6ea6"/>
<path d="M449,355.9 449.5,355.9 450,355.8 450.5,355.8 451,355.7 451.5,355.6 452,355.6 452.5,355.5 453,355.4 453.5,355.3 454,355.2 454.5,355.1 455,354.8 455.5,354.6 456,354.2 456.5,353.8 457,353.4 457.5,352.9 458,352.4 458.5,351.9 459,351.3 459.5,350.8 460,350.1 460.5,349.4 461,348.5 461.5,347.6 462,346.6 462.5,345.5 463,344.1 463.5,342.4 464,340.5 464.5,338.6 465,336.8 465.5,335 466,333.3 466.5,331.6 467,330.2 467.5,328.9 468,327.8 468.5,326.7 469,325.8 469.5,325.1 470,324.4 470.5,323.8 471,323.3 471.5,322.8 472,322.4 472.5,322.1 473,321.8 473.5,321.6 474,321.4 474.5,321.2 475,321 475.5,320.9 476,320.7 476.5,320.6 477,320.5 477.5,320.4 478,320.4 478.5,320.3 479,320.2 479.5,320.2 480,320.1 480.5,320.1 481,320 481.5,320 482,319.9 482.5,319.9 483,319.9 483.5,319.9 484,319.9 484.5,319.9 485,319.9 485.5,319.9 486,319.9 486.5,319.9 487,319.9 487.5,319.9 488,319.9 488.5,319.9 489,319.9 489.5,319.9 490,319.9 490.5,319.9 491,319.9 491.5,319.9 492,319.9 492.5,319.9 493,319.9 493.5,319.9 494,319.9 494.5,319.9 495,319.9 495.5,319.9 496,319.9 496.5,319.9 497,319.9 497.5,319.9 498,319.9 498.5,319.9 499,319.9 499.5,319.9 500,319.9 500.5,319.9 501,319.9 501.5,319.9 502,319.9 502.5,319.9 503,319.9 503.5,319.9 504,319.9 504.5,319.9 505,319.9 505.5,319.9 506,319.9 506.5,319.9 507,319.9 507,324.3 506.5,324.3 506,324.3 505.5,324.3 505,324.3 504.5,324.3 504,324.3 503.5,324.3 503,324.3 502.5,324.3 502,324.3 501.5,324.3 501,324.3 500.5,324.3 500,324.3 499.5,324.3 499,324.3 498.5,324.3 498,324.3 497.5,324.3 497,324.3 496.5,324.3 496,324.3 495.5,324.3 495,324.3 494.5,324.3 494,324.3 493.5,324.3 493,324.3 492.5,324.3 492,324.3 491.5,324.3 491,324.3 490.5,324.3 490,324.3 489.5,324.3 489,324.3 488.5,324.3 488,324.3 487.5,324.3 487,324.3 486.5,324.3 486,324.3 485.5,324.3 485,324.3 484.5,324.3 484,324.3 483.5,324.3 483,324.3 482.5,324.3 482,324.3 481.5,324.4 481,324.4 480.5,324.4 480,324.5 479.5,324.5 479,324.6 478.5,324.6 478,324.7 477.5,324.7 477,324.8 476.5,324.9 476,325 475.5,325.1 475,325.2 474.5,325.3 474,325.5 473.5,325.6 473,325.8 472.5,325.9 472,326.2 471.5,326.5 471,326.9 470.5,327.4 470,327.8 469.5,328.4 469,329 468.5,329.8 468,330.7 467.5,331.7 467,332.8 466.5,334.1 466,335.6 465.5,337.2 465,338.9 464.5,340.5 464,342.2 463.5,344 463,345.6 462.5,346.9 462,348 461.5,348.9 461,349.7 460.5,350.5 460,351.2 459.5,351.8 459,352.4 458.5,352.9 458,353.4 457.5,353.9 457,354.3 456.5,354.7 456,355.1 455.5,355.4 455,355.7 454.5,355.9 454,356 453.5,356.1 453,356.2 452.5,356.3 452,356.4 451.5,356.4 451,356.5 450.5,356.6 450,356.6 449.5,356.6 449,356.7Z" fill="#9b79bc"/>
<path d="M449,356.7 449.5,356.6 450,356.6 450.5,356.6 451,356.5 451.5,356.4 452,356.4 452.5,356.3 453,356.2 453.5,356.1 454,356 454.5,355.9 455,355.7 455.5,355.4 456,355.1 456.5,354.7 457,354.3 457.5,353.9 458,353.4 458.5,352.9 459,352.4 459.5,351.8 460,351.2 460.5,350.5 461,349.7 461.5,348.9 462,348 462.5,346.9 463,345.6 463.5,344 464,342.2 464.5,340.5 465,338.9 465.5,337.2 466,335.6 466.5,334.1 467,332.8 467.5,331.7 468,330.7 468.5,329.8 469,329 469.5,328.4 470,327.8 470.5,327.4 471,326.9 471.5,326.5 472,326.2 472.5,325.9 473,325.8 473.5,325.6 474,325.5 474.5,325.3 475,325.2 475.5,325.1 476,325 476.5,324.9 477,324.8 477.5,324.7 478,324.7 478.5,324.6 479,324.6 479.5,324.5 480,324.5 480.5,324.4 481,324.4 481.5,324.4 482,324.3 482.5,324.3 483,324.3 483.5,324.3 484,324.3 484.5,324.3 485,324.3 485.5,324.3 486,324.3 486.5,324.3 487,324.3 487.5,324.3 488,324.3 488.5,324.3 489,324.3 489.5,324.3 490,324.3 490.5,324.3 491,324.3 491.5,324.3 492,324.3 492.5,324.3 493,324.3 493.5,324.3 494,324.3 494.5,324.3 495,324.3 495.5,324.3 496,324.3 496.5,324.3 497,324.3 497.5,324.3 498,324.3 498.5,324.3 499,324.3 499.5,324.3 500,324.3 500.5,324.3 501,324.3 501.5,324.3 502,324.3 502.5,324.3 503,324.3 503.5,324.3 504,324.3 504.5,324.3 505,324.3 505.5,324.3 506,324.3 506.5,324.3 507,324.3 507,324.3 506.5,324.3 506,324.3 505.5,324.3 505,324.3 504.5,324.3 504,324.3 503.5,324.3 503,324.3 502.5,324.3 502,324.3 501.5,324.3 501,324.3 500.5,324.3 500,324.3 499.5,324.3 499,324.3 498.5,324.3 498,324.3 497.5,324.3 497,324.3 496.5,324.3 496,324.3 495.5,324.3 495,324.3 494.5,324.3 494,324.3 493.5,324.3 493,324.3 492.5,324.3 492,324.3 491.5,324.3 491,324.3 490.5,324.3 490,324.3 489.5,324.3 489,324.3 488.5,324.3 488,324.3 487.5,324.3 487,324.3 486.5,324.3 486,324.3 485.5,324.3 485,324.3 484.5,324.3 484,324.3 483.5,324.3 483,324.3 482.5,324.3 482,324.3 481.5,324.4 481,324.4 480.5,324.5 480,324.5 479.5,324.6 479,324.6 478.5,324.7 478,324.7 477.5,324.8 477,324.9 476.5,325 476,325.1 475.5,325.3 475,325.5 474.5,325.7 474,325.9 473.5,326.1 473,326.4 472.5,326.6 472,327 471.5,327.5 471,328 470.5,328.5 470,329.1 469.5,329.8 469,330.5 468.5,331.3 468,332.3 467.5,333.4 467,334.5 466.5,335.8 466,337.3 465.5,338.9 465,340.4 464.5,342 464,343.6 463.5,345.2 463,346.7 462.5,348 462,348.9 461.5,349.7 461,350.5 460.5,351.2 460,351.8 459.5,352.4 459,352.9 458.5,353.3 458,353.7 457.5,354.2 457,354.6 456.5,354.9 456,355.3 455.5,355.6 455,355.8 454.5,356 454,356.1 453.5,356.2 453,356.3 452.5,356.3 452,356.4 451.5,356.5 451,356.5 450.5,356.6 450,356.6 449.5,356.6 449,356.7Z" fill="#ffffff"/>
<path d="M449,356.7 449.5,356.6 450,356.6 450.5,356.6 451,356.5 451.5,356.5 452,356.4 452.5,356.3 453,356.3 453.5,356.2 454,356.1 454.5,356 455,355.8 455.5,355.6 456,355.3 456.5,354.9 457,354.6 457.5,354.2 458,353.7 458.5,353.3 459,352.9 459.5,352.4 460,351.8 460.5,351.2 461,350.5 461.5,349.7 462,348.9 462.5,348 463,346.7 463.5,345.2 464,343.6 464.5,342 465,340.4 465.5,338.9 466,337.3 466.5,335.8 467,334.5 467.5,333.4 468,332.3 468.5,331.3 469,330.5 469.5,329.8 470,329.1 470.5,328.5 471,328 471.5,327.5 472,327 472.5,326.6 473,326.4 473.5,326.1 474,325.9 474.5,325.7 475,325.5 475.5,325.3 476,325.1 476.5,325 477,324.9 477.5,324.8 478,324.7 478.5,324.7 479,324.6 479.5,324.6 480,324.5 480.5,324.5 481,324.4 481.5,324.4 482,324.3 482.5,324.3 483,324.3 483.5,324.3 484,324.3 484.5,324.3 485,324.3 485.5,324.3 486,324.3 486.5,324.3 487,324.3 487.5,324.3 488,324.3 488.5,324.3 489,324.3 489.5,324.3 490,324.3 490.5,324.3 491,324.3 491.5,324.3 492,324.3 492.5,324.3 493,324.3 493.5,324.3 494,324.3 494.5,324.3 495,324.3 495.5,324.3 496,324.3 496.5,324.3 497,324.3 497.5,324.3 498,324.3 498.5,324.3 499,324.3 499.5,324.3 500,324.3 500.5,324.3 501,324.3 501.5,324.3 502,324.3 502.5,324.3 503,324.3 503.5,324.3 504,324.3 504.5,324.3 505,324.3 505.5,324.3 506,324.3 506.5,324.3 507,324.3 507,328.6 506.5,328.6 506,328.6 505.5,328.6 505,328.6 504.5,328.6 504,328.6 503.5,328.6 503,328.6 502.5,328.6 502,328.6 501.5,328.6 501,328.6 500.5,328.6 500,328.6 499.5,328.6 499,328.6 498.5,328.6 498,328.6 497.5,328.6 497,328.6 496.5,328.6 496,328.6 495.5,328.6 495,328.6 494.5,328.6 494,328.6 493.5,328.6 493,328.6 492.5,328.6 492,328.6 491.5,328.6 491,328.6 490.5,328.6 490,328.6 489.5,328.6 489,328.6 488.5,328.6 488,328.6 487.5,328.6 487,328.6 486.5,328.6 486,328.6 485.5,328.6 485,328.6 484.5,328.6 484,328.6 483.5,328.6 483,328.6 482.5,328.6 482,328.6 481.5,328.7 481,328.7 480.5,328.7 480,328.8 479.5,328.8 479,328.9 478.5,328.9 478,329 477.5,329 477,329.1 476.5,329.2 476,329.3 475.5,329.4 475,329.5 474.5,329.7 474,329.9 473.5,330 473,330.2 472.5,330.4 472,330.7 471.5,331.1 471,331.5 470.5,332 470,332.5 469.5,333 469,333.6 468.5,334.3 468,335.2 467.5,336.1 467,337.1 466.5,338.3 466,339.6 465.5,341 465,342.4 464.5,343.8 464,345.3 463.5,346.8 463,348.2 462.5,349.3 462,350.2 461.5,351 461,351.7 460.5,352.3 460,352.9 459.5,353.4 459,353.9 458.5,354.3 458,354.7 457.5,355.1 457,355.5 456.5,355.8 456,356.1 455.5,356.4 455,356.6 454.5,356.8 454,356.9 453.5,357 453,357.1 452.5,357.1 452,357.2 451.5,357.3 451,357.3 450.5,357.3 450,357.4 449.5,357.4 449,357.4Z" fill="#f4a6a6"/>
<path d="M449,357.4 449.5,357.4 450,357.4 450.5,357.3 451,357.3 451.5,357.3 452,357.2 452.5,357.1 453,357.1 453.5,357 454,356.9 454.5,356.8 455,356.6 455.5,356.4 456,356.1 456.5,355.8 457,355.5 457.5,355.1 458,354.7 458.5,354.3 459,353.9 459.5,353.4 460,352.9 460.5,352.3 461,351.7 461.5,351 462,350.2 462.5,349.3 463,348.2 463.5,346.8 464,345.3 464.5,343.8 465,342.4 465.5,341 466,339.6 466.5,338.3 467,337.1 467.5,336.1 468,335.2 468.5,334.3 469,333.6 469.5,333 470,332.5 470.5,332 471,331.5 471.5,331.1 472,330.7 472.5,330.4 473,330.2 473.5,330 474,329.9 474.5,329.7 475,329.5 475.5,329.4 476,329.3 476.5,329.2 477,329.1 477.5,329 478,329 478.5,328.9 479,328.9 479.5,328.8 480,328.8 480.5,328.7 481,328.7 481.5,328.7 482,328.6 482.5,328.6 483,328.6 483.5,328.6 484,328.6 484.5,328.6 485,328.6 485.5,328.6 486,328.6 486.5,328.6 487,328.6 487.5,328.6 488,328.6 488.5,328.6 489,328.6 489.5,328.6 490,328.6 490.5,328.6 491,328.6 491.5,328.6 492,328.6 492.5,328.6 493,328.6 493.5,328.6 494,328.6 494.5,328.6 495,328.6 495.5,328.6 496,328.6 496.5,328.6 497,328.6 497.5,328.6 498,328.6 498.5,328.6 499,328.6 499.5,328.6 500,328.6 500.5,328.6 501,328.6 501.5,328.6 502,328.6 502.5,328.6 503,328.6 503.5,328.6 504,328.6 504.5,328.6 505,328.6 505.5,328.6 506,328.6 506.5,328.6 507,328.6 507,332.9 506.5,332.9 506,332.9 505.5,332.9 505,332.9 504.5,332.9 504,332.9 503.5,332.9 503,332.9 502.5,332.9 502,332.9 501.5,332.9 501,332.9 500.5,332.9 500,332.9 499.5,332.9 499,332.9 498.5,332.9 498,332.9 497.5,332.9 497,332.9 496.5,332.9 496,332.9 495.5,332.9 495,332.9 494.5,332.9 494,332.9 493.5,332.9 493,332.9 492.5,332.9 492,332.9 491.5,332.9 491,332.9 490.5,332.9 490,332.9 489.5,332.9 489,332.9 488.5,332.9 488,332.9 487.5,332.9 487,332.9 486.5,332.9 486,332.9 485.5,332.9 485,332.9 484.5,332.9 484,332.9 483.5,332.9 483,332.9 482.5,332.9 482,332.9 481.5,333 481,333 480.5,333 480,333 479.5,333.1 479,333.1 478.5,333.2 478,333.2 477.5,333.2 477,333.3 476.5,333.4 476,333.4 475.5,333.5 475,333.6 474.5,333.7 474,333.8 473.5,334 473,334.1 472.5,334.2 472,334.5 471.5,334.7 471,335 470.5,335.4 470,335.8 469.5,336.2 469,336.7 468.5,337.3 468,338 467.5,338.8 467,339.7 466.5,340.7 466,341.9 465.5,343.1 465,344.4 464.5,345.7 464,347 463.5,348.4 463,349.6 462.5,350.7 462,351.5 461.5,352.2 461,352.8 460.5,353.4 460,354 459.5,354.5 459,354.9 458.5,355.3 458,355.7 457.5,356 457,356.4 456.5,356.7 456,357 455.5,357.2 455,357.4 454.5,357.6 454,357.7 453.5,357.8 453,357.9 452.5,357.9 452,358 451.5,358 451,358.1 450.5,358.1 450,358.2 449.5,358.2 449,358.2Z" fill="#484d99"/>
<path d="M449,358.2 449.5,358.2 450,358.2 450.5,358.1 451,358.1 451.5,358 452,358 452.5,357.9 453,357.9 453.5,357.8 454,357.7 454.5,357.6 455,357.4 455.5,357.2 456,357 456.5,356.7 457,356.4 457.5,356 458,355.7 458.5,355.3 459,354.9 459.5,354.5 460,354 460.5,353.4 461,352.8 461.5,352.2 462,351.5 462.5,350.7 463,349.6 463.5,348.4 464,347 464.5,345.7 465,344.4 465.5,343.1 466,341.9 466.5,340.7 467,339.7 467.5,338.8 468,338 468.5,337.3 469,336.7 469.5,336.2 470,335.8 470.5,335.4 471,335 471.5,334.7 472,334.5 472.5,334.2 473,334.1 473.5,334 474,333.8 474.5,333.7 475,333.6 475.5,333.5 476,333.4 476.5,333.4 477,333.3 477.5,333.2 478,333.2 478.5,333.2 479,333.1 479.5,333.1 480,333 480.5,333 481,333 481.5,333 482,332.9 482.5,332.9 483,332.9 483.5,332.9 484,332.9 484.5,332.9 485,332.9 485.5,332.9 486,332.9 486.5,332.9 487,332.9 487.5,332.9 488,332.9 488.5,332.9 489,332.9 489.5,332.9 490,332.9 490.5,332.9 491,332.9 491.5,332.9 492,332.9 492.5,332.9 493,332.9 493.5,332.9 494,332.9 494.5,332.9 495,332.9 495.5,332.9 496,332.9 496.5,332.9 497,332.9 497.5,332.9 498,332.9 498.5,332.9 499,332.9 499.5,332.9 500,332.9 500.5,332.9 501,332.9 501.5,332.9 502,332.9 502.5,332.9 503,332.9 503.5,332.9 504,332.9 504.5,332.9 505,332.9 505.5,332.9 506,332.9 506.5,332.9 507,332.9 507,340.5 506.5,340.5 506,340.5 505.5,340.5 505,340.5 504.5,340.5 504,340.5 503.5,340.5 503,340.5 502.5,340.5 502,340.5 501.5,340.5 501,340.5 500.5,340.5 500,340.5 499.5,340.5 499,340.5 498.5,340.5 498,340.5 497.5,340.5 497,340.5 496.5,340.5 496,340.5 495.5,340.5 495,340.5 494.5,340.5 494,340.5 493.5,340.5 493,340.5 492.5,340.5 492,340.5 491.5,340.5 491,340.5 490.5,340.5 490,340.5 489.5,340.5 489,340.5 488.5,340.5 488,340.5 487.5,340.5 487,340.5 486.5,340.5 486,340.5 485.5,340.5 485,340.5 484.5,340.5 484,340.5 483.5,340.5 483,340.5 482.5,340.5 482,340.5 481.5,340.5 481,340.6 480.5,340.6 480,340.6 479.5,340.6 479,340.6 478.5,340.7 478,340.7 477.5,340.7 477,340.7 476.5,340.7 476,340.8 475.5,340.8 475,340.8 474.5,340.9 474,340.9 473.5,340.9 473,340.9 472.5,341 472,341 471.5,341.1 471,341.3 470.5,341.5 470,341.7 469.5,341.9 469,342.2 468.5,342.6 468,343.1 467.5,343.6 467,344.3 466.5,345 466,345.9 465.5,346.9 465,347.9 464.5,349 464,350 463.5,351.2 463,352.2 462.5,353.1 462,353.7 461.5,354.4 461,354.9 460.5,355.4 460,355.9 459.5,356.3 459,356.7 458.5,357 458,357.4 457.5,357.7 457,358 456.5,358.2 456,358.5 455.5,358.7 455,358.9 454.5,359 454,359.1 453.5,359.2 453,359.3 452.5,359.3 452,359.4 451.5,359.4 451,359.5 450.5,359.5 450,359.5 449.5,359.5 449,359.6Z" fill="#75aee1"/>
<path d="M449,359.6 449.5,359.5 450,359.5 450.5,359.5 451,359.5 451.5,359.4 452,359.4 452.5,359.3 453,359.3 453.5,359.2 454,359.1 454.5,359 455,358.9 455.5,358.7 456,358.5 456.5,358.2 457,358 457.5,357.7 458,357.4 458.5,357 459,356.7 459.5,356.3 460,355.9 460.5,355.4 461,354.9 461.5,354.4 462,353.7 462.5,353.1 463,352.2 463.5,351.2 464,350 464.5,349 465,347.9 465.5,346.9 466,345.9 466.5,345 467,344.3 467.5,343.6 468,343.1 468.5,342.6 469,342.2 469.5,341.9 470,341.7 470.5,341.5 471,341.3 471.5,341.1 472,341 472.5,341 473,340.9 473.5,340.9 474,340.9 474.5,340.9 475,340.8 475.5,340.8 476,340.8 476.5,340.7 477,340.7 477.5,340.7 478,340.7 478.5,340.7 479,340.6 479.5,340.6 480,340.6 480.5,340.6 481,340.6 481.5,340.5 482,340.5 482.5,340.5 483,340.5 483.5,340.5 484,340.5 484.5,340.5 485,340.5 485.5,340.5 486,340.5 486.5,340.5 487,340.5 487.5,340.5 488,340.5 488.5,340.5 489,340.5 489.5,340.5 490,340.5 490.5,340.5 491,340.5 491.5,340.5 492,340.5 492.5,340.5 493,340.5 493.5,340.5 494,340.5 494.5,340.5 495,340.5 495.5,340.5 496,340.5 496.5,340.5 497,340.5 497.5,340.5 498,340.5 498.5,340.5 499,340.5 499.5,340.5 500,340.5 500.5,340.5 501,340.5 501.5,340.5 502,340.5 502.5,340.5 503,340.5 503.5,340.5 504,340.5 504.5,340.5 505,340.5 505.5,340.5 506,340.5 506.5,340.5 507,340.5 507,340.5 506.5,340.5 506,340.5 505.5,340.5 505,340.5 504.5,340.5 504,340.5 503.5,340.5 503,340.5 502.5,340.5 502,340.5 501.5,340.5 501,340.5 500.5,340.5 500,340.5 499.5,340.5 499,340.5 498.5,340.5 498,340.5 497.5,340.5 497,340.5 496.5,340.5 496,340.5 495.5,340.5 495,340.5 494.5,340.5 494,340.5 493.5,340.5 493,340.5 492.5,340.5 492,340.5 491.5,340.5 491,340.5 490.5,340.5 490,340.5 489.5,340.5 489,340.5 488.5,340.5 488,340.5 487.5,340.5 487,340.5 486.5,340.5 486,340.5 485.5,340.5 485,340.5 484.5,340.5 484,340.5 483.5,340.5 483,340.5 482.5,340.5 482,340.5 481.5,340.5 481,340.6 480.5,340.6 480,340.6 479.5,340.6 479,340.7 478.5,340.7 478,340.8 477.5,340.8 477,340.8 476.5,340.9 476,341 475.5,341.1 475,341.2 474.5,341.3 474,341.4 473.5,341.5 473,341.6 472.5,341.8 472,342 471.5,342.3 471,342.5 470.5,342.8 470,343.2 469.5,343.6 469,344 468.5,344.5 468,345 467.5,345.7 467,346.3 466.5,347.1 466,348 465.5,348.9 465,349.8 464.5,350.7 464,351.7 463.5,352.7 463,353.6 462.5,354.3 462,354.9 461.5,355.4 461,355.8 460.5,356.3 460,356.6 459.5,357 459,357.3 458.5,357.5 458,357.8 457.5,358.1 457,358.3 456.5,358.5 456,358.7 455.5,358.9 455,359 454.5,359.1 454,359.2 453.5,359.3 453,359.3 452.5,359.4 452,359.4 451.5,359.4 451,359.5 450.5,359.5 450,359.5 449.5,359.5 449,359.6Z" fill="#ffffff"/>
<path d="M449,359.6 449.5,359.5 450,359.5 450.5,359.5 451,359.5 451.5,359.4 452,359.4 452.5,359.4 453,359.3 453.5,359.3 454,359.2 454.5,359.1 455,359 455.5,358.9 456,358.7 456.5,358.5 457,358.3 457.5,358.1 458,357.8 458.5,357.5 459,357.3 459.5,357 460,356.6 460.5,356.3 461,355.8 461.5,355.4 462,354.9 462.5,354.3 463,353.6 463.5,352.7 464,351.7 464.5,350.7 465,349.8 465.5,348.9 466,348 466.5,347.1 467,346.3 467.5,345.7 468,345 468.5,344.5 469,344 469.5,343.6 470,343.2 470.5,342.8 471,342.5 471.5,342.3 472,342 472.5,341.8 473,341.6 473.5,341.5 474,341.4 474.5,341.3 475,341.2 475.5,341.1 476,341 476.5,340.9 477,340.8 477.5,340.8 478,340.8 478.5,340.7 479,340.7 479.5,340.6 480,340.6 480.5,340.6 481,340.6 481.5,340.5 482,340.5 482.5,340.5 483,340.5 483.5,340.5 484,340.5 484.5,340.5 485,340.5 485.5,340.5 486,340.5 486.5,340.5 487,340.5 487.5,340.5 488,340.5 488.5,340.5 489,340.5 489.5,340.5 490,340.5 490.5,340.5 491,340.5 491.5,340.5 492,340.5 492.5,340.5 493,340.5 493.5,340.5 494,340.5 494.5,340.5 495,340.5 495.5,340.5 496,340.5 496.5,340.5 497,340.5 497.5,340.5 498,340.5 498.5,340.5 499,340.5 499.5,340.5 500,340.5 500.5,340.5 501,340.5 501.5,340.5 502,340.5 502.5,340.5 503,340.5 503.5,340.5 504,340.5 504.5,340.5 505,340.5 505.5,340.5 506,340.5 506.5,340.5 507,340.5 507,344.2 506.5,344.2 506,344.2 505.5,344.2 505,344.2 504.5,344.2 504,344.2 503.5,344.2 503,344.2 502.5,344.2 502,344.2 501.5,344.2 501,344.2 500.5,344.2 500,344.2 499.5,344.2 499,344.2 498.5,344.2 498,344.2 497.5,344.2 497,344.2 496.5,344.2 496,344.2 495.5,344.2 495,344.2 494.5,344.2 494,344.2 493.5,344.2 493,344.2 492.5,344.2 492,344.2 491.5,344.2 491,344.2 490.5,344.2 490,344.2 489.5,344.2 489,344.2 488.5,344.2 488,344.2 487.5,344.2 487,344.2 486.5,344.2 486,344.2 485.5,344.2 485,344.2 484.5,344.2 484,344.2 483.5,344.2 483,344.2 482.5,344.2 482,344.2 481.5,344.2 481,344.3 480.5,344.3 480,344.3 479.5,344.3 479,344.3 478.5,344.4 478,344.4 477.5,344.4 477,344.5 476.5,344.5 476,344.5 475.5,344.6 475,344.7 474.5,344.7 474,344.8 473.5,344.9 473,345 472.5,345.1 472,345.2 471.5,345.4 471,345.6 470.5,345.8 470,346.1 469.5,346.3 469,346.6 468.5,347 468,347.5 467.5,348 467,348.6 466.5,349.2 466,349.9 465.5,350.7 465,351.5 464.5,352.3 464,353.2 463.5,354 463,354.8 462.5,355.5 462,356 461.5,356.4 461,356.8 460.5,357.2 460,357.6 459.5,357.9 459,358.1 458.5,358.4 458,358.6 457.5,358.9 457,359.1 456.5,359.3 456,359.5 455.5,359.6 455,359.7 454.5,359.8 454,359.9 453.5,360 453,360 452.5,360 452,360.1 451.5,360.1 451,360.1 450.5,360.2 450,360.2 449.5,360.2 449,360.2Z" fill="#f4c284"/>
<path d="M449,360.2 449.5,360.2 450,360.2 450.5,360.2 451,360.1 451.5,360.1 452,360.1 452.5,360 453,360 453.5,360 454,359.9 454.5,359.8 455,359.7 455.5,359.6 456,359.5 456.5,359.3 457,359.1 457.5,358.9 458,358.6 458.5,358.4 459,358.1 459.5,357.9 460,357.6 460.5,357.2 461,356.8 461.5,356.4 462,356 462.5,355.5 463,354.8 463.5,354 464,353.2 464.5,352.3 465,351.5 465.5,350.7 466,349.9 466.5,349.2 467,348.6 467.5,348 468,347.5 468.5,347 469,346.6 469.5,346.3 470,346.1 470.5,345.8 471,345.6 471.5,345.4 472,345.2 472.5,345.1 473,345 473.5,344.9 474,344.8 474.5,344.7 475,344.7 475.5,344.6 476,344.5 476.5,344.5 477,344.5 477.5,344.4 478,344.4 478.5,344.4 479,344.3 479.5,344.3 480,344.3 480.5,344.3 481,344.3 481.5,344.2 482,344.2 482.5,344.2 483,344.2 483.5,344.2 484,344.2 484.5,344.2 485,344.2 485.5,344.2 486,344.2 486.5,344.2 487,344.2 487.5,344.2 488,344.2 488.5,344.2 489,344.2 489.5,344.2 490,344.2 490.5,344.2 491,344.2 491.5,344.2 492,344.2 492.5,344.2 493,344.2 493.5,344.2 494,344.2 494.5,344.2 495,344.2 495.5,344.2 496,344.2 496.5,344.2 497,344.2 497.5,344.2 498,344.2 498.5,344.2 499,344.2 499.5,344.2 500,344.2 500.5,344.2 501,344.2 501.5,344.2 502,344.2 502.5,344.2 503,344.2 503.5,344.2 504,344.2 504.5,344.2 505,344.2 505.5,344.2 506,344.2 506.5,344.2 507,344.2 507,347.4 506.5,347.4 506,347.4 505.5,347.4 505,347.4 504.5,347.4 504,347.4 503.5,347.4 503,347.4 502.5,347.4 502,347.4 501.5,347.4 501,347.4 500.5,347.4 500,347.4 499.5,347.4 499,347.4 498.5,347.4 498,347.4 497.5,347.4 497,347.4 496.5,347.4 496,347.4 495.5,347.4 495,347.4 494.5,347.4 494,347.4 493.5,347.4 493,347.4 492.5,347.4 492,347.4 491.5,347.4 491,347.4 490.5,347.4 490,347.4 489.5,347.4 489,347.4 488.5,347.4 488,347.4 487.5,347.4 487,347.4 486.5,347.4 486,347.4 485.5,347.4 485,347.4 484.5,347.4 484,347.4 483.5,347.4 483,347.4 482.5,347.4 482,347.4 481.5,347.4 481,347.4 480.5,347.5 480,347.5 479.5,347.5 479,347.5 478.5,347.5 478,347.5 477.5,347.6 477,347.6 476.5,347.6 476,347.6 475.5,347.7 475,347.7 474.5,347.7 474,347.8 473.5,347.8 473,347.8 472.5,347.9 472,348 471.5,348.1 471,348.2 470.5,348.4 470,348.5 469.5,348.7 469,349 468.5,349.2 468,349.6 467.5,350 467,350.5 466.5,351 466,351.6 465.5,352.3 465,353 464.5,353.7 464,354.4 463.5,355.2 463,355.9 462.5,356.5 462,356.9 461.5,357.3 461,357.7 460.5,358.1 460,358.4 459.5,358.6 459,358.9 458.5,359.1 458,359.3 457.5,359.5 457,359.7 456.5,359.9 456,360.1 455.5,360.2 455,360.4 454.5,360.4 454,360.5 453.5,360.5 453,360.6 452.5,360.6 452,360.7 451.5,360.7 451,360.7 450.5,360.7 450,360.8 449.5,360.8 449,360.8Z" fill="#84d8bc"/>
<path d="M449,360.8 449.5,360.8 450,360.8 450.5,360.7 451,360.7 451.5,360.7 452,360.7 452.5,360.6 453,360.6 453.5,360.5 454,360.5 454.5,360.4 455,360.4 455.5,360.2 456,360.1 456.5,359.9 457,359.7 457.5,359.5 458,359.3 458.5,359.1 459,358.9 459.5,358.6 460,358.4 460.5,358.1 461,357.7 461.5,357.3 462,356.9 462.5,356.5 463,355.9 463.5,355.2 464,354.4 464.5,353.7 465,353 465.5,352.3 466,351.6 466.5,351 467,350.5 467.5,350 468,349.6 468.5,349.2 469,349 469.5,348.7 470,348.5 470.5,348.4 471,348.2 471.5,348.1 472,348 472.5,347.9 473,347.8 473.5,347.8 474,347.8 474.5,347.7 475,347.7 475.5,347.7 476,347.6 476.5,347.6 477,347.6 477.5,347.6 478,347.5 478.5,347.5 479,347.5 479.5,347.5 480,347.5 480.5,347.5 481,347.4 481.5,347.4 482,347.4 482.5,347.4 483,347.4 483.5,347.4 484,347.4 484.5,347.4 485,347.4 485.5,347.4 486,347.4 486.5,347.4 487,347.4 487.5,347.4 488,347.4 488.5,347.4 489,347.4 489.5,347.4 490,347.4 490.5,347.4 491,347.4 491.5,347.4 492,347.4 492.5,347.4 493,347.4 493.5,347.4 494,347.4 494.5,347.4 495,347.4 495.5,347.4 496,347.4 496.5,347.4 497,347.4 497.5,347.4 498,347.4 498.5,347.4 499,347.4 499.5,347.4 500,347.4 500.5,347.4 501,347.4 501.5,347.4 502,347.4 502.5,347.4 503,347.4 503.5,347.4 504,347.4 504.5,347.4 505,347.4 505.5,347.4 506,347.4 506.5,347.4 507,347.4 507,347.4 506.5,347.4 506,347.4 505.5,347.4 505,347.4 504.5,347.4 504,347.4 503.5,347.4 503,347.4 502.5,347.4 502,347.4 501.5,347.4 501,347.4 500.5,347.4 500,347.4 499.5,347.4 499,347.4 498.5,347.4 498,347.4 497.5,347.4 497,347.4 496.5,347.4 496,347.4 495.5,347.4 495,347.4 494.5,347.4 494,347.4 493.5,347.4 493,347.4 492.5,347.4 492,347.4 491.5,347.4 491,347.4 490.5,347.4 490,347.4 489.5,347.4 489,347.4 488.5,347.4 488,347.4 487.5,347.4 487,347.4 486.5,347.4 486,347.4 485.5,347.4 485,347.4 484.5,347.4 484,347.4 483.5,347.4 483,347.4 482.5,347.4 482,347.4 481.5,347.4 481,347.4 480.5,347.5 480,347.5 479.5,347.5 479,347.5 478.5,347.6 478,347.6 477.5,347.6 477,347.7 476.5,347.7 476,347.8 475.5,347.9 475,348 474.5,348.1 474,348.2 473.5,348.3 473,348.4 472.5,348.6 472,348.8 471.5,349 471,349.3 470.5,349.5 470,349.8 469.5,350.1 469,350.4 468.5,350.8 468,351.2 467.5,351.7 467,352.2 466.5,352.7 466,353.3 465.5,354 465,354.6 464.5,355.2 464,355.8 463.5,356.5 463,357 462.5,357.5 462,357.9 461.5,358.2 461,358.5 460.5,358.8 460,359 459.5,359.2 459,359.4 458.5,359.5 458,359.7 457.5,359.9 457,360 456.5,360.1 456,360.3 455.5,360.4 455,360.5 454.5,360.5 454,360.6 453.5,360.6 453,360.6 452.5,360.7 452,360.7 451.5,360.7 451,360.7 450.5,360.8 450,360.8 449.5,360.8 449,360.8Z" fill="#ffffff"/>
<path d="M449,360.8 449.5,360.8 450,360.8 450.5,360.8 451,360.7 451.5,360.7 452,360.7 452.5,360.7 453,360.6 453.5,360.6 454,360.6 454.5,360.5 455,360.5 455.5,360.4 456,360.3 456.5,360.1 457,360 457.5,359.9 458,359.7 458.5,359.5 459,359.4 459.5,359.2 460,359 460.5,358.8 461,358.5 461.5,358.2 462,357.9 462.5,357.5 463,357 463.5,356.5 464,355.8 464.5,355.2 465,354.6 465.5,354 466,353.3 466.5,352.7 467,352.2 467.5,351.7 468,351.2 468.5,350.8 469,350.4 469.5,350.1 470,349.8 470.5,349.5 471,349.3 471.5,349 472,348.8 472.5,348.6 473,348.4 473.5,348.3 474,348.2 474.5,348.1 475,348 475.5,347.9 476,347.8 476.5,347.7 477,347.7 477.5,347.6 478,347.6 478.5,347.6 479,347.5 479.5,347.5 480,347.5 480.5,347.5 481,347.4 481.5,347.4 482,347.4 482.5,347.4 483,347.4 483.5,347.4 484,347.4 484.5,347.4 485,347.4 485.5,347.4 486,347.4 486.5,347.4 487,347.4 487.5,347.4 488,347.4 488.5,347.4 489,347.4 489.5,347.4 490,347.4 490.5,347.4 491,347.4 491.5,347.4 492,347.4 492.5,347.4 493,347.4 493.5,347.4 494,347.4 494.5,347.4 495,347.4 495.5,347.4 496,347.4 496.5,347.4 497,347.4 497.5,347.4 498,347.4 498.5,347.4 499,347.4 499.5,347.4 500,347.4 500.5,347.4 501,347.4 501.5,347.4 502,347.4 502.5,347.4 503,347.4 503.5,347.4 504,347.4 504.5,347.4 505,347.4 505.5,347.4 506,347.4 506.5,347.4 507,347.4 507,350.2 506.5,350.2 506,350.2 505.5,350.2 505,350.2 504.5,350.2 504,350.2 503.5,350.2 503,350.2 502.5,350.2 502,350.2 501.5,350.2 501,350.2 500.5,350.2 500,350.2 499.5,350.2 499,350.2 498.5,350.2 498,350.2 497.5,350.2 497,350.2 496.5,350.2 496,350.2 495.5,350.2 495,350.2 494.5,350.2 494,350.2 493.5,350.2 493,350.2 492.5,350.2 492,350.2 491.5,350.2 491,350.2 490.5,350.2 490,350.2 489.5,350.2 489,350.2 488.5,350.2 488,350.2 487.5,350.2 487,350.2 486.5,350.2 486,350.2 485.5,350.2 485,350.2 484.5,350.2 484,350.2 483.5,350.2 483,350.2 482.5,350.2 482,350.2 481.5,350.2 481,350.2 480.5,350.3 480,350.3 479.5,350.3 479,350.3 478.5,350.3 478,350.4 477.5,350.4 477,350.4 476.5,350.5 476,350.5 475.5,350.6 475,350.6 474.5,350.7 474,350.8 473.5,350.9 473,351 472.5,351.1 472,351.2 471.5,351.4 471,351.6 470.5,351.8 470,352 469.5,352.2 469,352.5 468.5,352.8 468,353.1 467.5,353.5 467,353.9 466.5,354.3 466,354.8 465.5,355.3 465,355.9 464.5,356.4 464,356.9 463.5,357.5 463,358 462.5,358.4 462,358.7 461.5,359 461,359.3 460.5,359.5 460,359.7 459.5,359.9 459,360 458.5,360.2 458,360.3 457.5,360.5 457,360.6 456.5,360.7 456,360.8 455.5,360.9 455,361 454.5,361.1 454,361.1 453.5,361.1 453,361.2 452.5,361.2 452,361.2 451.5,361.2 451,361.2 450.5,361.3 450,361.3 449.5,361.3 449,361.3Z" fill="#efc863"/>
<path d="M449,361.3 449.5,361.3 450,361.3 450.5,361.3 451,361.2 451.5,361.2 452,361.2 452.5,361.2 453,361.2 453.5,361.1 454,361.1 454.5,361.1 455,361 455.5,360.9 456,360.8 456.5,360.7 457,360.6 457.5,360.5 458,360.3 458.5,360.2 459,360 459.5,359.9 460,359.7 460.5,359.5 461,359.3 461.5,359 462,358.7 462.5,358.4 463,358 463.5,357.5 464,356.9 464.5,356.4 465,355.9 465.5,355.3 466,354.8 466.5,354.3 467,353.9 467.5,353.5 468,353.1 468.5,352.8 469,352.5 469.5,352.2 470,352 470.5,351.8 471,351.6 471.5,351.4 472,351.2 472.5,351.1 473,351 473.5,350.9 474,350.8 474.5,350.7 475,350.6 475.5,350.6 476,350.5 476.5,350.5 477,350.4 477.5,350.4 478,350.4 478.5,350.3 479,350.3 479.5,350.3 480,350.3 480.5,350.3 481,350.2 481.5,350.2 482,350.2 482.5,350.2 483,350.2 483.5,350.2 484,350.2 484.5,350.2 485,350.2 485.5,350.2 486,350.2 486.5,350.2 487,350.2 487.5,350.2 488,350.2 488.5,350.2 489,350.2 489.5,350.2 490,350.2 490.5,350.2 491,350.2 491.5,350.2 492,350.2 492.5,350.2 493,350.2 493.5,350.2 494,350.2 494.5,350.2 495,350.2 495.5,350.2 496,350.2 496.5,350.2 497,350.2 497.5,350.2 498,350.2 498.5,350.2 499,350.2 499.5,350.2 500,350.2 500.5,350.2 501,350.2 501.5,350.2 502,350.2 502.5,350.2 503,350.2 503.5,350.2 504,350.2 504.5,350.2 505,350.2 505.5,350.2 506,350.2 506.5,350.2 507,350.2 507,354.7 506.5,354.7 506,354.7 505.5,354.7 505,354.7 504.5,354.7 504,354.7 503.5,354.7 503,354.7 502.5,354.7 502,354.7 501.5,354.7 501,354.7 500.5,354.7 500,354.7 499.5,354.7 499,354.7 498.5,354.7 498,354.7 497.5,354.7 497,354.7 496.5,354.7 496,354.7 495.5,354.7 495,354.7 494.5,354.7 494,354.7 493.5,354.7 493,354.7 492.5,354.7 492,354.7 491.5,354.7 491,354.7 490.5,354.7 490,354.7 489.5,354.7 489,354.7 488.5,354.7 488,354.7 487.5,354.7 487,354.7 486.5,354.7 486,354.7 485.5,354.7 485,354.7 484.5,354.7 484,354.7 483.5,354.7 483,354.7 482.5,354.7 482,354.7 481.5,354.7 481,354.7 480.5,354.7 480,354.7 479.5,354.8 479,354.8 478.5,354.8 478,354.8 477.5,354.8 477,354.8 476.5,354.8 476,354.8 475.5,354.9 475,354.9 474.5,354.9 474,354.9 473.5,355 473,355 472.5,355 472,355.1 471.5,355.2 471,355.3 470.5,355.4 470,355.5 469.5,355.6 469,355.7 468.5,355.9 468,356.1 467.5,356.3 467,356.6 466.5,356.9 466,357.2 465.5,357.6 465,358 464.5,358.3 464,358.7 463.5,359.1 463,359.5 462.5,359.8 462,360.1 461.5,360.3 461,360.5 460.5,360.7 460,360.8 459.5,361 459,361.1 458.5,361.2 458,361.3 457.5,361.4 457,361.5 456.5,361.6 456,361.7 455.5,361.8 455,361.9 454.5,361.9 454,361.9 453.5,362 453,362 452.5,362 452,362 451.5,362 451,362.1 450.5,362.1 450,362.1 449.5,362.1 449,362.1Z" fill="#e9bcde"/>
<path d="M449,362.1 449.5,362.1 450,362.1 450.5,362.1 451,362.1 451.5,362 452,362 452.5,362 453,362 453.5,362 454,361.9 454.5,361.9 455,361.9 455.5,361.8 456,361.7 456.5,361.6 457,361.5 457.5,361.4 458,361.3 458.5,361.2 459,361.1 459.5,361 460,360.8 460.5,360.7 461,360.5 461.5,360.3 462,360.1 462.5,359.8 463,359.5 463.5,359.1 464,358.7 464.5,358.3 465,358 465.5,357.6 466,357.2 466.5,356.9 467,356.6 467.5,356.3 468,356.1 468.5,355.9 469,355.7 469.5,355.6 470,355.5 470.5,355.4 471,355.3 471.5,355.2 472,355.1 472.5,355 473,355 473.5,355 474,354.9 474.5,354.9 475,354.9 475.5,354.9 476,354.8 476.5,354.8 477,354.8 477.5,354.8 478,354.8 478.5,354.8 479,354.8 479.5,354.8 480,354.7 480.5,354.7 481,354.7 481.5,354.7 482,354.7 482.5,354.7 483,354.7 483.5,354.7 484,354.7 484.5,354.7 485,354.7 485.5,354.7 486,354.7 486.5,354.7 487,354.7 487.5,354.7 488,354.7 488.5,354.7 489,354.7 489.5,354.7 490,354.7 490.5,354.7 491,354.7 491.5,354.7 492,354.7 492.5,354.7 493,354.7 493.5,354.7 494,354.7 494.5,354.7 495,354.7 495.5,354.7 496,354.7 496.5,354.7 497,354.7 497.5,354.7 498,354.7 498.5,354.7 499,354.7 499.5,354.7 500,354.7 500.5,354.7 501,354.7 501.5,354.7 502,354.7 502.5,354.7 503,354.7 503.5,354.7 504,354.7 504.5,354.7 505,354.7 505.5,354.7 506,354.7 506.5,354.7 507,354.7 507,354.7 506.5,354.7 506,354.7 505.5,354.7 505,354.7 504.5,354.7 504,354.7 503.5,354.7 503,354.7 502.5,354.7 502,354.7 501.5,354.7 501,354.7 500.5,354.7 500,354.7 499.5,354.7 499,354.7 498.5,354.7 498,354.7 497.5,354.7 497,354.7 496.5,354.7 496,354.7 495.5,354.7 495,354.7 494.5,354.7 494,354.7 493.5,354.7 493,354.7 492.5,354.7 492,354.7 491.5,354.7 491,354.7 490.5,354.7 490,354.7 489.5,354.7 489,354.7 488.5,354.7 488,354.7 487.5,354.7 487,354.7 486.5,354.7 486,354.7 485.5,354.7 485,354.7 484.5,354.7 484,354.7 483.5,354.7 483,354.7 482.5,354.7 482,354.7 481.5,354.7 481,354.7 480.5,354.7 480,354.8 479.5,354.8 479,354.8 478.5,354.8 478,354.8 477.5,354.9 477,354.9 476.5,355 476,355 475.5,355.1 475,355.2 474.5,355.3 474,355.4 473.5,355.5 473,355.6 472.5,355.7 472,355.9 471.5,356.1 471,356.3 470.5,356.5 470,356.7 469.5,357 469,357.2 468.5,357.5 468,357.7 467.5,358 467,358.3 466.5,358.6 466,358.9 465.5,359.2 465,359.5 464.5,359.8 464,360.1 463.5,360.4 463,360.7 462.5,360.9 462,361 461.5,361.1 461,361.3 460.5,361.4 460,361.4 459.5,361.5 459,361.6 458.5,361.6 458,361.7 457.5,361.8 457,361.8 456.5,361.9 456,361.9 455.5,362 455,362 454.5,362 454,362 453.5,362 453,362 452.5,362.1 452,362.1 451.5,362.1 451,362.1 450.5,362.1 450,362.1 449.5,362.1 449,362.1Z" fill="#ffffff"/>
<path d="M449,362.1 449.5,362.1 450,362.1 450.5,362.1 451,362.1 451.5,362.1 452,362.1 452.5,362.1 453,362 453.5,362 454,362 454.5,362 455,362 455.5,362 456,361.9 456.5,361.9 457,361.8 457.5,361.8 458,361.7 458.5,361.6 459,361.6 459.5,361.5 460,361.4 460.5,361.4 461,361.3 461.5,361.1 462,361 462.5,360.9 463,360.7 463.5,360.4 464,360.1 464.5,359.8 465,359.5 465.5,359.2 466,358.9 466.5,358.6 467,358.3 467.5,358 468,357.7 468.5,357.5 469,357.2 469.5,357 470,356.7 470.5,356.5 471,356.3 471.5,356.1 472,355.9 472.5,355.7 473,355.6 473.5,355.5 474,355.4 474.5,355.3 475,355.2 475.5,355.1 476,355 476.5,355 477,354.9 477.5,354.9 478,354.8 478.5,354.8 479,354.8 479.5,354.8 480,354.8 480.5,354.7 481,354.7 481.5,354.7 482,354.7 482.5,354.7 483,354.7 483.5,354.7 484,354.7 484.5,354.7 485,354.7 485.5,354.7 486,354.7 486.5,354.7 487,354.7 487.5,354.7 488,354.7 488.5,354.7 489,354.7 489.5,354.7 490,354.7 490.5,354.7 491,354.7 491.5,354.7 492,354.7 492.5,354.7 493,354.7 493.5,354.7 494,354.7 494.5,354.7 495,354.7 495.5,354.7 496,354.7 496.5,354.7 497,354.7 497.5,354.7 498,354.7 498.5,354.7 499,354.7 499.5,354.7 500,354.7 500.5,354.7 501,354.7 501.5,354.7 502,354.7 502.5,354.7 503,354.7 503.5,354.7 504,354.7 504.5,354.7 505,354.7 505.5,354.7 506,354.7 506.5,354.7 507,354.7 507,357.1 506.5,357.1 506,357.1 505.5,357.1 505,357.1 504.5,357.1 504,357.1 503.5,357.1 503,357.1 502.5,357.1 502,357.1 501.5,357.1 501,357.1 500.5,357.1 500,357.1 499.5,357.1 499,357.1 498.5,357.1 498,357.1 497.5,357.1 497,357.1 496.5,357.1 496,357.1 495.5,357.1 495,357.1 494.5,357.1 494,357.1 493.5,357.1 493,357.1 492.5,357.1 492,357.1 491.5,357.1 491,357.1 490.5,357.1 490,357.1 489.5,357.1 489,357.1 488.5,357.1 488,357.1 487.5,357.1 487,357.1 486.5,357.1 486,357.1 485.5,357.1 485,357.1 484.5,357.1 484,357.1 483.5,357.1 483,357.1 482.5,357.1 482,357.1 481.5,357.1 481,357.1 480.5,357.1 480,357.1 479.5,357.2 479,357.2 478.5,357.2 478,357.2 477.5,357.2 477,357.3 476.5,357.3 476,357.3 475.5,357.4 475,357.4 474.5,357.5 474,357.6 473.5,357.7 473,357.8 472.5,357.9 472,358 471.5,358.1 471,358.3 470.5,358.4 470,358.6 469.5,358.8 469,358.9 468.5,359.1 468,359.3 467.5,359.5 467,359.7 466.5,360 466,360.2 465.5,360.4 465,360.6 464.5,360.8 464,361.1 463.5,361.3 463,361.5 462.5,361.6 462,361.7 461.5,361.8 461,361.9 460.5,362 460,362 459.5,362.1 459,362.1 458.5,362.2 458,362.2 457.5,362.3 457,362.3 456.5,362.4 456,362.4 455.5,362.4 455,362.4 454.5,362.5 454,362.5 453.5,362.5 453,362.5 452.5,362.5 452,362.5 451.5,362.5 451,362.5 450.5,362.5 450,362.5 449.5,362.5 449,362.5Z" fill="#408666"/>
<path d="M449,362.5 449.5,362.5 450,362.5 450.5,362.5 451,362.5 451.5,362.5 452,362.5 452.5,362.5 453,362.5 453.5,362.5 454,362.5 454.5,362.5 455,362.4 455.5,362.4 456,362.4 456.5,362.4 457,362.3 457.5,362.3 458,362.2 458.5,362.2 459,362.1 459.5,362.1 460,362 460.5,362 461,361.9 461.5,361.8 462,361.7 462.5,361.6 463,361.5 463.5,361.3 464,361.1 464.5,360.8 465,360.6 465.5,360.4 466,360.2 466.5,360 467,359.7 467.5,359.5 468,359.3 468.5,359.1 469,358.9 469.5,358.8 470,358.6 470.5,358.4 471,358.3 471.5,358.1 472,358 472.5,357.9 473,357.8 473.5,357.7 474,357.6 474.5,357.5 475,357.4 475.5,357.4 476,357.3 476.5,357.3 477,357.3 477.5,357.2 478,357.2 478.5,357.2 479,357.2 479.5,357.2 480,357.1 480.5,357.1 481,357.1 481.5,357.1 482,357.1 482.5,357.1 483,357.1 483.5,357.1 484,357.1 484.5,357.1 485,357.1 485.5,357.1 486,357.1 486.5,357.1 487,357.1 487.5,357.1 488,357.1 488.5,357.1 489,357.1 489.5,357.1 490,357.1 490.5,357.1 491,357.1 491.5,357.1 492,357.1 492.5,357.1 493,357.1 493.5,357.1 494,357.1 494.5,357.1 495,357.1 495.5,357.1 496,357.1 496.5,357.1 497,357.1 497.5,357.1 498,357.1 498.5,357.1 499,357.1 499.5,357.1 500,357.1 500.5,357.1 501,357.1 501.5,357.1 502,357.1 502.5,357.1 503,357.1 503.5,357.1 504,357.1 504.5,357.1 505,357.1 505.5,357.1 506,357.1 506.5,357.1 507,357.1 507,361.5 506.5,361.5 506,361.5 505.5,361.5 505,361.5 504.5,361.5 504,361.5 503.5,361.5 503,361.5 502.5,361.5 502,361.5 501.5,361.5 501,361.5 500.5,361.5 500,361.5 499.5,361.5 499,361.5 498.5,361.5 498,361.5 497.5,361.5 497,361.5 496.5,361.5 496,361.5 495.5,361.5 495,361.5 494.5,361.5 494,361.5 493.5,361.5 493,361.5 492.5,361.5 492,361.5 491.5,361.5 491,361.5 490.5,361.5 490,361.5 489.5,361.5 489,361.5 488.5,361.5 488,361.5 487.5,361.5 487,361.5 486.5,361.5 486,361.5 485.5,361.5 485,361.5 484.5,361.5 484,361.5 483.5,361.5 483,361.5 482.5,361.5 482,361.5 481.5,361.5 481,361.5 480.5,361.5 480,361.5 479.5,361.5 479,361.5 478.5,361.5 478,361.5 477.5,361.5 477,361.6 476.5,361.6 476,361.6 475.5,361.6 475,361.6 474.5,361.6 474,361.7 473.5,361.7 473,361.7 472.5,361.8 472,361.8 471.5,361.8 471,361.9 470.5,361.9 470,362 469.5,362.1 469,362.1 468.5,362.2 468,362.2 467.5,362.3 467,362.4 466.5,362.5 466,362.5 465.5,362.6 465,362.7 464.5,362.7 464,362.8 463.5,362.9 463,363 462.5,363 462,363 461.5,363.1 461,363.1 460.5,363.1 460,363.1 459.5,363.2 459,363.2 458.5,363.2 458,363.2 457.5,363.2 457,363.2 456.5,363.3 456,363.3 455.5,363.3 455,363.3 454.5,363.3 454,363.3 453.5,363.3 453,363.3 452.5,363.3 452,363.3 451.5,363.3 451,363.3 450.5,363.3 450,363.3 449.5,363.3 449,363.3Z" fill="#ded363"/>
<path d="M449,363.3 449.5,363.3 450,363.3 450.5,363.3 451,363.3 451.5,363.3 452,363.3 452.5,363.3 453,363.3 453.5,363.3 454,363.3 454.5,363.3 455,363.3 455.5,363.3 456,363.3 456.5,363.3 457,363.2 457.5,363.2 458,363.2 458.5,363.2 459,363.2 459.5,363.2 460,363.1 460.5,363.1 461,363.1 461.5,363.1 462,363 462.5,363 463,363 463.5,362.9 464,362.8 464.5,362.7 465,362.7 465.5,362.6 466,362.5 466.5,362.5 467,362.4 467.5,362.3 468,362.2 468.5,362.2 469,362.1 469.5,362.1 470,362 470.5,361.9 471,361.9 471.5,361.8 472,361.8 472.5,361.8 473,361.7 473.5,361.7 474,361.7 474.5,361.6 475,361.6 475.5,361.6 476,361.6 476.5,361.6 477,361.6 477.5,361.5 478,361.5 478.5,361.5 479,361.5 479.5,361.5 480,361.5 480.5,361.5 481,361.5 481.5,361.5 482,361.5 482.5,361.5 483,361.5 483.5,361.5 484,361.5 484.5,361.5 485,361.5 485.5,361.5 486,361.5 486.5,361.5 487,361.5 487.5,361.5 488,361.5 488.5,361.5 489,361.5 489.5,361.5 490,361.5 490.5,361.5 491,361.5 491.5,361.5 492,361.5 492.5,361.5 493,361.5 493.5,361.5 494,361.5 494.5,361.5 495,361.5 495.5,361.5 496,361.5 496.5,361.5 497,361.5 497.5,361.5 498,361.5 498.5,361.5 499,361.5 499.5,361.5 500,361.5 500.5,361.5 501,361.5 501.5,361.5 502,361.5 502.5,361.5 503,361.5 503.5,361.5 504,361.5 504.5,361.5 505,361.5 505.5,361.5 506,361.5 506.5,361.5 507,361.5 507,363.7 506.5,363.7 506,363.7 505.5,363.7 505,363.7 504.5,363.7 504,363.7 503.5,363.7 503,363.7 502.5,363.7 502,363.7 501.5,363.7 501,363.7 500.5,363.7 500,363.7 499.5,363.7 499,363.7 498.5,363.7 498,363.7 497.5,363.7 497,363.7 496.5,363.7 496,363.7 495.5,363.7 495,363.7 494.5,363.7 494,363.7 493.5,363.7 493,363.7 492.5,363.7 492,363.7 491.5,363.7 491,363.7 490.5,363.7 490,363.7 489.5,363.7 489,363.7 488.5,363.7 488,363.7 487.5,363.7 487,363.7 486.5,363.7 486,363.7 485.5,363.7 485,363.7 484.5,363.7 484,363.7 483.5,363.7 483,363.7 482.5,363.7 482,363.7 481.5,363.7 481,363.7 480.5,363.7 480,363.7 479.5,363.7 479,363.7 478.5,363.7 478,363.7 477.5,363.7 477,363.7 476.5,363.7 476,363.7 475.5,363.7 475,363.7 474.5,363.7 474,363.7 473.5,363.7 473,363.7 472.5,363.7 472,363.7 471.5,363.7 471,363.7 470.5,363.7 470,363.7 469.5,363.7 469,363.7 468.5,363.7 468,363.7 467.5,363.7 467,363.7 466.5,363.7 466,363.7 465.5,363.7 465,363.7 464.5,363.7 464,363.7 463.5,363.7 463,363.7 462.5,363.7 462,363.7 461.5,363.7 461,363.7 460.5,363.7 460,363.7 459.5,363.7 459,363.7 458.5,363.7 458,363.7 457.5,363.7 457,363.7 456.5,363.7 456,363.7 455.5,363.7 455,363.7 454.5,363.7 454,363.7 453.5,363.7 453,363.7 452.5,363.7 452,363.7 451.5,363.7 451,363.7 450.5,363.7 450,363.7 449.5,363.7 449,363.7Z" fill="#a65890"/>
</g>
<rect x="209.00" y="295.50" width="24.00" height="6.90" fill="#b84ca8" />
<rect x="209.00" y="302.40" width="24.00" height="6.90" fill="#40c0f0" />
<rect x="209.00" y="309.30" width="24.00" height="5.00" fill="#8040a8" />
<rect x="209.00" y="314.30" width="24.00" height="6.50" fill="#22b034" />
<rect x="209.00" y="320.80" width="24.00" height="4.70" fill="#e880c0" />
<rect x="209.00" y="325.50" width="24.00" height="4.10" fill="#1a2890" />
<rect x="209.00" y="329.60" width="24.00" height="4.10" fill="#50d0b0" />
<rect x="209.00" y="333.70" width="24.00" height="4.60" fill="#f8a860" />
<rect x="209.00" y="338.30" width="24.00" height="3.90" fill="#107078" />
<rect x="209.00" y="342.20" width="24.00" height="4.20" fill="#e0a800" />
<rect x="209.00" y="346.40" width="24.00" height="3.80" fill="#f08888" />
<rect x="209.00" y="350.20" width="24.00" height="3.50" fill="#6088d0" />
<rect x="209.00" y="353.70" width="24.00" height="4.20" fill="#e8c020" />
<rect x="209.00" y="357.90" width="24.00" height="2.30" fill="#c0b0e0" />
<rect x="209.00" y="360.20" width="24.00" height="1.60" fill="#40c0b0" />
<rect x="209.00" y="361.80" width="24.00" height="1.90" fill="#208890" />
<rect x="422.20" y="351.50" width="25.50" height="2.30" fill="#207860" />
<rect x="422.20" y="353.80" width="25.50" height="2.00" fill="#3090b0" />
<rect x="422.20" y="355.80" width="25.50" height="2.20" fill="#e08080" />
<rect x="422.20" y="358.00" width="25.50" height="2.20" fill="#305090" />
<rect x="422.20" y="360.20" width="25.50" height="1.80" fill="#60c070" />
<rect x="422.20" y="362.00" width="25.50" height="1.70" fill="#f0a0b0" />
<rect x="483.30" y="295.00" width="23.70" height="7.90" fill="#22a838" />
<rect x="483.30" y="302.90" width="23.70" height="7.30" fill="#48c0f0" />
<rect x="483.30" y="310.20" width="23.70" height="4.00" fill="#b050a0" />
<rect x="483.30" y="314.20" width="23.70" height="5.70" fill="#e83080" />
<rect x="483.30" y="319.90" width="23.70" height="4.40" fill="#7040a0" />
<rect x="483.30" y="324.30" width="23.70" height="4.30" fill="#f08080" />
<rect x="483.30" y="328.60" width="23.70" height="4.30" fill="#1a2080" />
<rect x="483.30" y="332.90" width="23.70" height="7.60" fill="#3a8cd4" />
<rect x="483.30" y="340.50" width="23.70" height="3.70" fill="#f0a850" />
<rect x="483.30" y="344.20" width="23.70" height="3.20" fill="#50c8a0" />
<rect x="483.30" y="347.40" width="23.70" height="2.80" fill="#e8b020" />
<rect x="483.30" y="350.20" width="23.70" height="4.50" fill="#e0a0d0" />
<rect x="483.30" y="354.70" width="23.70" height="2.40" fill="#106840" />
<rect x="483.30" y="357.10" width="23.70" height="4.40" fill="#d0c020" />
<rect x="483.30" y="361.50" width="23.70" height="2.20" fill="#801060" />
<line x1="209.50" y1="367.00" x2="507.00" y2="367.00" stroke="#333" stroke-width="1.1"/>
<line x1="267.00" y1="367.00" x2="267.00" y2="369.20" stroke="#333" stroke-width="0.9"/>
<line x1="357.00" y1="367.00" x2="357.00" y2="369.20" stroke="#333" stroke-width="0.9"/>
<line x1="447.00" y1="367.00" x2="447.00" y2="369.20" stroke="#333" stroke-width="0.9"/>
<line x1="222.20" y1="367.00" x2="222.20" y2="368.60" stroke="#333" stroke-width="0.8"/>
<line x1="312.00" y1="367.00" x2="312.00" y2="368.60" stroke="#333" stroke-width="0.8"/>
<line x1="402.00" y1="367.00" x2="402.00" y2="368.60" stroke="#333" stroke-width="0.8"/>
<line x1="492.00" y1="367.00" x2="492.00" y2="368.60" stroke="#333" stroke-width="0.8"/>
<text x="267.00" y="378.90" font-size="7.7" text-anchor="middle" fill="#222"><tspan>0</tspan></text>
<text x="357.00" y="378.90" font-size="7.7" text-anchor="middle" fill="#222"><tspan>50</tspan></text>
<text x="447.00" y="378.90" font-size="7.7" text-anchor="middle" fill="#222"><tspan>100</tspan></text>
<line x1="222.00" y1="285.80" x2="222.00" y2="291.00" stroke="#111" stroke-width="1.1"/>
<path d="M219.00,288.30 L222.00,289.20 L225.00,288.30 L222.00,295.00 Z" fill="#111"/>
<text x="222.00" y="280.60" font-size="7.7" text-anchor="middle" fill="#222"><tspan>868.2</tspan></text>
<line x1="435.20" y1="337.60" x2="435.20" y2="342.80" stroke="#111" stroke-width="1.1"/>
<path d="M432.20,340.10 L435.20,341.00 L438.20,340.10 L435.20,346.80 Z" fill="#111"/>
<text x="435.20" y="333.40" font-size="7.7" text-anchor="middle" fill="#222"><tspan>205.0</tspan></text>
<line x1="494.80" y1="284.60" x2="494.80" y2="288.60" stroke="#111" stroke-width="1.1"/>
<path d="M491.80,285.90 L494.80,286.80 L497.80,285.90 L494.80,292.60 Z" fill="#111"/>
<text x="494.80" y="279.20" font-size="7.7" text-anchor="middle" fill="#222"><tspan>980.4</tspan></text>
<text x="334.80" y="305.60" font-size="7.55" fill="#333"><tspan font-style="italic">OTHERS include:</tspan></text>
<text x="334.80" y="315.40" font-size="7.55" fill="#2b2b2b"><tspan font-style="italic" fill="#d01f2c">BTK</tspan><tspan fill="#d01f2c"> - C481Y &amp; </tspan><tspan font-style="italic" fill="#d01f2c">BTK</tspan><tspan fill="#d01f2c"> - C481F</tspan></text>
<text x="6.8" y="400.3" font-size="10.6" font-weight="bold" fill="#111" stroke="#111" stroke-width="0.3">D</text>
<text x="17.50" y="424.30" font-size="7.5" font-weight="bold" fill="#1e1e1e"><tspan>MZ05 (MALT)</tspan></text>
<text x="17.50" y="435.40" font-size="7.3" font-style="italic" fill="#555"><tspan>Progressive Response</tspan></text>
<rect x="18.80" y="442.20" width="82.40" height="8.70" fill="#dedede" />
<line x1="16.80" y1="440.80" x2="166.30" y2="440.80" stroke="#333" stroke-width="1"/>
<line x1="16.80" y1="452.30" x2="166.30" y2="452.30" stroke="#333" stroke-width="1"/>
<line x1="16.80" y1="463.80" x2="166.30" y2="463.80" stroke="#333" stroke-width="1"/>
<line x1="16.80" y1="474.90" x2="166.30" y2="474.90" stroke="#333" stroke-width="1"/>
<line x1="16.80" y1="486.10" x2="166.30" y2="486.10" stroke="#333" stroke-width="1"/>
<line x1="16.80" y1="497.40" x2="166.30" y2="497.40" stroke="#333" stroke-width="1"/>
<line x1="17.30" y1="440.80" x2="17.30" y2="497.40" stroke="#333" stroke-width="1"/>
<line x1="102.70" y1="440.80" x2="102.70" y2="497.40" stroke="#333" stroke-width="1"/>
<line x1="134.20" y1="440.80" x2="134.20" y2="497.40" stroke="#333" stroke-width="1"/>
<line x1="165.80" y1="440.80" x2="165.80" y2="497.40" stroke="#333" stroke-width="1"/>
<text x="60.00" y="448.97" font-size="7.0" text-anchor="middle" fill="#2e2e2e"><tspan>hGE/mL plasma</tspan></text>
<text x="118.45" y="448.97" font-size="7.0" text-anchor="middle" fill="#2e2e2e"><tspan>Day 84</tspan></text>
<text x="150.00" y="448.97" font-size="7.0" text-anchor="middle" fill="#2e2e2e"><tspan>Day 334</tspan></text>
<text x="60.00" y="460.47" font-size="7.0" text-anchor="middle" fill="#2e2e2e"><tspan font-style="italic">NOTCH2</tspan><tspan> – A21T</tspan></text>
<text x="118.45" y="460.47" font-size="7.0" text-anchor="middle" fill="#2e2e2e"><tspan>12.1</tspan></text>
<text x="150.00" y="460.47" font-size="7.0" text-anchor="middle" fill="#2e2e2e"><tspan>126.1</tspan></text>
<text x="60.00" y="471.77" font-size="7.0" text-anchor="middle" fill="#2e2e2e"><tspan font-style="italic">TP53</tspan><tspan> – R280G</tspan></text>
<text x="118.45" y="471.77" font-size="7.0" text-anchor="middle" fill="#2e2e2e"><tspan>18.2</tspan></text>
<text x="150.00" y="471.77" font-size="7.0" text-anchor="middle" fill="#2e2e2e"><tspan>5.0</tspan></text>
<text x="60.00" y="482.92" font-size="7.0" text-anchor="middle" fill="#2e2e2e"><tspan font-style="italic">TP53</tspan><tspan> – R213*</tspan></text>
<text x="118.45" y="482.92" font-size="7.0" text-anchor="middle" fill="#2e2e2e"><tspan>8.5</tspan></text>
<text x="150.00" y="482.92" font-size="7.0" text-anchor="middle" fill="#2e2e2e"><tspan>17.2</tspan></text>
<text x="60.00" y="494.17" font-size="7.0" text-anchor="middle" fill="#2e2e2e"><tspan font-style="italic">TP53</tspan><tspan> – I255F</tspan></text>
<text x="118.45" y="494.17" font-size="7.0" text-anchor="middle" fill="#2e2e2e"><tspan>2.8</tspan></text>
<text x="150.00" y="494.17" font-size="7.0" text-anchor="middle" fill="#2e2e2e"><tspan>10.1</tspan></text>
<rect x="155.20" y="412.90" width="8.60" height="8.50" fill="#f29062" />
<text x="167.80" y="419.47" font-size="7.9" fill="#2b2b2b"><tspan font-style="italic">NOTCH2</tspan><tspan> – A21T</tspan></text>
<rect x="155.20" y="424.60" width="8.60" height="8.50" fill="#64aae8" />
<text x="167.80" y="431.17" font-size="7.9" fill="#2b2b2b"><tspan font-style="italic">BIRC3</tspan><tspan> – Q547N..P*</tspan></text>
<rect x="240.90" y="412.90" width="8.60" height="8.50" fill="#d674c4" />
<text x="254.50" y="419.47" font-size="7.9" fill="#2b2b2b"><tspan font-style="italic">TP53</tspan><tspan> – R280G</tspan></text>
<rect x="240.90" y="424.60" width="8.60" height="8.50" fill="#e8c232" />
<text x="254.50" y="431.17" font-size="7.9" fill="#2b2b2b"><tspan font-style="italic">TP53</tspan><tspan> – R213*</tspan></text>
<rect x="240.90" y="436.00" width="8.60" height="8.50" fill="#a484ca" />
<text x="254.50" y="442.57" font-size="7.9" fill="#2b2b2b"><tspan font-style="italic">TP53</tspan><tspan> – I255F</tspan></text>
<rect x="311.20" y="413.00" width="8.60" height="8.50" fill="#5050b0" />
<text x="323.00" y="419.57" font-size="7.9" fill="#2b2b2b"><tspan font-style="italic">MAML2</tspan><tspan> – F562L</tspan></text>
<rect x="311.20" y="424.70" width="8.60" height="8.50" fill="#a02898" />
<text x="323.00" y="431.27" font-size="7.9" fill="#2b2b2b"><tspan font-style="italic">SPEN</tspan><tspan> – P3480S</tspan></text>
<path d="M216,473.2 217,473.2 218,473.2 219,473.2 220,473.2 221,473.2 222,473.2 223,473.2 224,473.2 225,473.2 226,473.2 227,473.2 228,473.2 229,473.2 230,473.2 231,473.2 232,473.2 233,473.2 234,473.2 235,473.2 236,473.2 237,473.2 238,473.2 239,473.2 240,473.2 241,473.2 242,473.2 243,473.2 244,473.2 245,473.2 246,473.2 247,473.2 248,473.2 249,473.2 250,473.2 251,473.2 252,473.2 253,473.2 254,473.2 255,473.2 256,473.2 257,473.2 258,473.2 259,473.2 260,473.2 261,473.2 262,473.2 263,473.2 264,473.2 265,473.2 266,473.2 267,473.2 268,473.2 269,473.2 270,473.2 271,473.3 272,473.3 273,473.3 274,473.3 275,473.3 276,473.3 277,473.3 278,473.3 279,473.3 280,473.3 281,473.3 282,473.3 283,473.3 284,473.3 285,473.3 286,473.3 287,473.3 288,473.3 289,473.3 290,473.3 291,473.3 292,473.3 293,473.4 294,473.4 295,473.5 296,473.5 297,473.6 298,473.7 299,473.8 300,473.9 301,474 302,474.1 303,474.2 304,474.4 305,474.5 306,474.6 307,474.7 308,474.8 309,474.9 310,475.1 311,475.2 312,475.3 313,475.4 314,475.5 315,475.5 316,475.6 317,475.7 318,475.7 319,475.8 320,475.8 321,475.8 322,475.8 323,475.9 324,475.9 325,475.9 326,475.9 327,475.9 328,476 329,476 330,476 331,476 332,476 333,476.1 334,476.1 335,476.1 336,476.1 337,476.1 338,476.1 339,476.1 340,476.1 341,476.2 342,476.2 343,476.2 344,476.2 345,476.2 346,476.2 347,476.2 348,476.2 349,476.2 350,476.2 351,476.2 352,476.2 353,476.2 354,476.2 355,476.2 356,476.2 357,476.2 358,476.2 359,476.2 360,476.2 361,476.2 362,476.2 363,476.2 364,476.2 365,476.2 366,476.2 367,476.2 368,476.2 369,476.2 370,476.2 371,476.2 372,476.2 373,476.2 374,476.2 375,476.2 376,476.2 377,476.2 378,476.2 379,476.2 380,476.2 381,476.2 382,476.2 383,476.2 384,476.2 385,476.2 386,476.2 387,476.2 388,476.2 389,476.2 390,476.2 391,476.2 392,476.2 393,476.2 394,476.2 395,476.2 396,476.2 397,476.2 398,476.2 399,476.2 400,476.2 401,476.2 402,476.2 403,476.2 404,476.2 405,476.2 406,476.2 407,476.2 408,476.2 409,476.2 410,476.2 411,476.2 412,476.2 413,476.2 414,476.2 415,476.2 416,476.2 417,476.2 418,476.2 419,476.2 420,476.2 421,476.2 422,476.2 423,476.2 424,476.2 425,476.2 426,476.2 427,476.2 428,476.2 429,476.2 430,476.2 431,476.2 432,476.2 433,476.2 434,476.2 435,476.2 436,476.2 437,476.2 438,476.2 439,476.2 440,476.2 441,476.2 442,476.2 443,476.2 444,476.2 445,476.2 446,476.2 447,476.2 448,476.2 449,476.2 450,476.2 451,476.2 452,476.2 453,476.2 454,476.2 455,476.2 456,476.2 457,476.2 458,476.2 459,476.2 460,476.2 461,476.2 462,476.2 463,476.2 464,476.2 465,476.2 466,476.2 467,476.2 468,476.2 469,476.2 470,476.2 471,476.2 472,476.2 473,476.2 474,476.2 475,476.2 476,476.2 477,476.2 478,476.2 479,476.2 480,476.2 481,476.2 482,476.2 483,476.2 484,476.2 485,476.2 486,476.2 487,476.2 488,476.2 489,476.2 490,476.2 491,476.2 492,476.2 493,476.2 493,478.5 492,478.5 491,478.5 490,478.5 489,478.5 488,478.5 487,478.5 486,478.5 485,478.5 484,478.5 483,478.5 482,478.5 481,478.5 480,478.5 479,478.5 478,478.5 477,478.5 476,478.5 475,478.5 474,478.5 473,478.5 472,478.5 471,478.5 470,478.5 469,478.5 468,478.5 467,478.5 466,478.5 465,478.5 464,478.5 463,478.5 462,478.5 461,478.5 460,478.5 459,478.5 458,478.5 457,478.5 456,478.5 455,478.5 454,478.5 453,478.5 452,478.5 451,478.5 450,478.5 449,478.5 448,478.5 447,478.5 446,478.5 445,478.5 444,478.5 443,478.5 442,478.5 441,478.5 440,478.5 439,478.5 438,478.5 437,478.5 436,478.5 435,478.5 434,478.5 433,478.5 432,478.5 431,478.5 430,478.5 429,478.5 428,478.5 427,478.5 426,478.5 425,478.5 424,478.5 423,478.5 422,478.5 421,478.5 420,478.5 419,478.5 418,478.5 417,478.5 416,478.5 415,478.5 414,478.5 413,478.5 412,478.5 411,478.5 410,478.5 409,478.5 408,478.5 407,478.5 406,478.5 405,478.5 404,478.5 403,478.5 402,478.5 401,478.5 400,478.5 399,478.5 398,478.5 397,478.5 396,478.5 395,478.5 394,478.5 393,478.5 392,478.5 391,478.5 390,478.5 389,478.5 388,478.5 387,478.5 386,478.4 385,478.4 384,478.4 383,478.4 382,478.4 381,478.4 380,478.4 379,478.4 378,478.4 377,478.4 376,478.4 375,478.4 374,478.4 373,478.4 372,478.4 371,478.4 370,478.4 369,478.4 368,478.4 367,478.4 366,478.4 365,478.4 364,478.4 363,478.4 362,478.4 361,478.4 360,478.4 359,478.4 358,478.4 357,478.4 356,478.4 355,478.4 354,478.4 353,478.4 352,478.4 351,478.4 350,478.4 349,478.4 348,478.4 347,478.4 346,478.4 345,478.4 344,478.4 343,478.4 342,478.3 341,478.3 340,478.3 339,478.3 338,478.3 337,478.3 336,478.2 335,478.2 334,478.2 333,478.2 332,478.1 331,478.1 330,478.1 329,478.1 328,478 327,478 326,478 325,478 324,477.9 323,477.9 322,477.9 321,477.8 320,477.8 319,477.8 318,477.7 317,477.6 316,477.6 315,477.5 314,477.4 313,477.3 312,477.2 311,477 310,476.9 309,476.8 308,476.6 307,476.5 306,476.4 305,476.2 304,476.1 303,476 302,475.8 301,475.7 300,475.6 299,475.5 298,475.4 297,475.3 296,475.2 295,475.1 294,475 293,475 292,474.9 291,474.9 290,474.9 289,474.9 288,474.9 287,474.9 286,474.9 285,474.9 284,474.9 283,474.9 282,474.9 281,474.9 280,474.9 279,474.9 278,474.9 277,474.9 276,474.9 275,474.9 274,474.9 273,474.9 272,474.9 271,474.9 270,474.8 269,474.8 268,474.8 267,474.8 266,474.8 265,474.8 264,474.8 263,474.8 262,474.8 261,474.8 260,474.8 259,474.8 258,474.8 257,474.8 256,474.8 255,474.8 254,474.8 253,474.8 252,474.8 251,474.8 250,474.8 249,474.8 248,474.8 247,474.8 246,474.8 245,474.8 244,474.8 243,474.8 242,474.8 241,474.8 240,474.8 239,474.8 238,474.8 237,474.8 236,474.8 235,474.8 234,474.8 233,474.8 232,474.8 231,474.8 230,474.8 229,474.8 228,474.8 227,474.8 226,474.8 225,474.8 224,474.8 223,474.8 222,474.8 221,474.8 220,474.8 219,474.8 218,474.8 217,474.8 216,474.8Z" fill="#9870af"/>
<linearGradient id="ylg" gradientUnits="userSpaceOnUse" x1="230" x2="340" y1="0" y2="0"><stop offset="0" stop-color="#dcc078"/><stop offset="1" stop-color="#f2d03e"/></linearGradient>
<path d="M216,474.8 217,474.8 218,474.8 219,474.8 220,474.8 221,474.8 222,474.8 223,474.8 224,474.8 225,474.8 226,474.8 227,474.8 228,474.8 229,474.8 230,474.8 231,474.8 232,474.8 233,474.8 234,474.8 235,474.8 236,474.8 237,474.8 238,474.8 239,474.8 240,474.8 241,474.8 242,474.8 243,474.8 244,474.8 245,474.8 246,474.8 247,474.8 248,474.8 249,474.8 250,474.8 251,474.8 252,474.8 253,474.8 254,474.8 255,474.8 256,474.8 257,474.8 258,474.8 259,474.8 260,474.8 261,474.8 262,474.8 263,474.8 264,474.8 265,474.8 266,474.8 267,474.8 268,474.8 269,474.8 270,474.7 271,474.7 272,474.7 273,474.7 274,474.7 275,474.7 276,474.7 277,474.7 278,474.7 279,474.7 280,474.7 281,474.7 282,474.7 283,474.7 284,474.7 285,474.7 286,474.7 287,474.7 288,474.7 289,474.7 290,474.7 291,474.7 292,474.7 293,474.7 294,474.6 295,474.6 296,474.6 297,474.5 298,474.5 299,474.4 300,474.4 301,474.4 302,474.3 303,474.2 304,474.2 305,474.1 306,474.1 307,474 308,474 309,473.9 310,473.9 311,473.8 312,473.8 313,473.7 314,473.7 315,473.7 316,473.7 317,473.6 318,473.6 319,473.6 320,473.6 321,473.6 322,473.6 323,473.6 324,473.6 325,473.6 326,473.6 327,473.7 328,473.7 329,473.7 330,473.7 331,473.7 332,473.7 333,473.8 334,473.8 335,473.8 336,473.8 337,473.8 338,473.9 339,473.9 340,473.9 341,473.9 342,473.9 343,473.9 344,474 345,474 346,474 347,474 348,474 349,474 350,474 351,474 352,474 353,474 354,474 355,473.9 356,473.9 357,473.9 358,473.9 359,473.8 360,473.8 361,473.8 362,473.7 363,473.7 364,473.7 365,473.6 366,473.6 367,473.5 368,473.5 369,473.5 370,473.4 371,473.4 372,473.4 373,473.3 374,473.3 375,473.3 376,473.3 377,473.2 378,473.2 379,473.2 380,473.2 381,473.2 382,473.2 383,473.2 384,473.2 385,473.2 386,473.2 387,473.2 388,473.2 389,473.2 390,473.2 391,473.2 392,473.2 393,473.2 394,473.1 395,473.1 396,473.1 397,473.1 398,473.1 399,473.1 400,473.1 401,473.1 402,473.1 403,473.1 404,473.1 405,473.1 406,473.1 407,473.1 408,473.1 409,473.1 410,473.1 411,473.1 412,473.1 413,473.1 414,473.1 415,473.1 416,473.1 417,473.1 418,473.1 419,473.1 420,473.1 421,473.1 422,473.1 423,473.1 424,473.1 425,473.1 426,473.1 427,473.1 428,473.1 429,473.1 430,473.1 431,473.1 432,473.1 433,473 434,473 435,473 436,473 437,473 438,473 439,473 440,473 441,473 442,473 443,473 444,473 445,473 446,473 447,473 448,473 449,473 450,473 451,473 452,473 453,473 454,473 455,473 456,473 457,473 458,473 459,473 460,473 461,473 462,473 463,473 464,473 465,473 466,473 467,473 468,473 469,473 470,473 471,473 472,473 473,473 474,473 475,473 476,473 477,473 478,473 479,473 480,473 481,473 482,473 483,473 484,473 485,473 486,473 487,473 488,473 489,473 490,473 491,473 492,473 493,473 493,476.2 492,476.2 491,476.2 490,476.2 489,476.2 488,476.2 487,476.2 486,476.2 485,476.2 484,476.2 483,476.2 482,476.2 481,476.2 480,476.2 479,476.2 478,476.2 477,476.2 476,476.2 475,476.2 474,476.2 473,476.2 472,476.2 471,476.2 470,476.2 469,476.2 468,476.2 467,476.2 466,476.2 465,476.2 464,476.2 463,476.2 462,476.2 461,476.2 460,476.2 459,476.2 458,476.2 457,476.2 456,476.2 455,476.2 454,476.2 453,476.2 452,476.2 451,476.2 450,476.2 449,476.2 448,476.2 447,476.2 446,476.2 445,476.2 444,476.2 443,476.2 442,476.2 441,476.2 440,476.2 439,476.2 438,476.2 437,476.2 436,476.2 435,476.2 434,476.2 433,476.2 432,476.2 431,476.2 430,476.2 429,476.2 428,476.2 427,476.2 426,476.2 425,476.2 424,476.2 423,476.2 422,476.2 421,476.2 420,476.2 419,476.2 418,476.2 417,476.2 416,476.2 415,476.2 414,476.2 413,476.2 412,476.2 411,476.2 410,476.2 409,476.2 408,476.2 407,476.2 406,476.2 405,476.2 404,476.2 403,476.2 402,476.2 401,476.2 400,476.2 399,476.2 398,476.2 397,476.2 396,476.2 395,476.2 394,476.2 393,476.2 392,476.2 391,476.2 390,476.2 389,476.2 388,476.2 387,476.2 386,476.2 385,476.2 384,476.2 383,476.2 382,476.2 381,476.2 380,476.2 379,476.2 378,476.2 377,476.2 376,476.2 375,476.2 374,476.2 373,476.2 372,476.2 371,476.2 370,476.3 369,476.3 368,476.3 367,476.3 366,476.3 365,476.3 364,476.3 363,476.3 362,476.3 361,476.3 360,476.3 359,476.4 358,476.4 357,476.4 356,476.4 355,476.4 354,476.4 353,476.4 352,476.4 351,476.4 350,476.4 349,476.4 348,476.4 347,476.4 346,476.4 345,476.4 344,476.4 343,476.3 342,476.3 341,476.3 340,476.3 339,476.3 338,476.3 337,476.2 336,476.2 335,476.2 334,476.2 333,476.2 332,476.1 331,476.1 330,476.1 329,476.1 328,476.1 327,476.1 326,476 325,476 324,476 323,476 322,476 321,476 320,476 319,476 318,476 317,476 316,476.1 315,476.1 314,476.1 313,476.2 312,476.2 311,476.2 310,476.3 309,476.4 308,476.4 307,476.5 306,476.5 305,476.6 304,476.6 303,476.7 302,476.8 301,476.8 300,476.9 299,476.9 298,477 297,477 296,477.1 295,477.1 294,477.1 293,477.2 292,477.2 291,477.2 290,477.2 289,477.2 288,477.2 287,477.2 286,477.2 285,477.2 284,477.2 283,477.2 282,477.2 281,477.2 280,477.3 279,477.3 278,477.3 277,477.3 276,477.3 275,477.3 274,477.3 273,477.3 272,477.3 271,477.3 270,477.3 269,477.3 268,477.3 267,477.3 266,477.3 265,477.3 264,477.3 263,477.3 262,477.3 261,477.3 260,477.3 259,477.3 258,477.3 257,477.3 256,477.3 255,477.3 254,477.4 253,477.4 252,477.4 251,477.4 250,477.4 249,477.4 248,477.4 247,477.4 246,477.4 245,477.4 244,477.4 243,477.4 242,477.4 241,477.4 240,477.4 239,477.4 238,477.4 237,477.4 236,477.4 235,477.4 234,477.4 233,477.4 232,477.4 231,477.4 230,477.4 229,477.4 228,477.4 227,477.4 226,477.4 225,477.4 224,477.4 223,477.4 222,477.4 221,477.4 220,477.4 219,477.4 218,477.4 217,477.4 216,477.4Z" fill="url(#ylg)"/>
<path d="M216,473.2 217,473.2 218,473.2 219,473.2 220,473.2 221,473.2 222,473.2 223,473.2 224,473.2 225,473.2 226,473.2 227,473.2 228,473.2 229,473.2 230,473.2 231,473.2 232,473.2 233,473.2 234,473.2 235,473.2 236,473.2 237,473.2 238,473.2 239,473.2 240,473.2 241,473.2 242,473.2 243,473.2 244,473.2 245,473.2 246,473.2 247,473.2 248,473.2 249,473.2 250,473.2 251,473.2 252,473.2 253,473.2 254,473.2 255,473.2 256,473.2 257,473.2 258,473.2 259,473.2 260,473.2 261,473.2 262,473.2 263,473.2 264,473.2 265,473.2 266,473.2 267,473.2 268,473.2 269,473.2 270,473.2 271,473.2 272,473.2 273,473.2 274,473.2 275,473.2 276,473.1 277,473.1 278,473.1 279,473.1 280,473.1 281,473.1 282,473.1 283,473.1 284,473.1 285,473.1 286,473.1 287,473.1 288,473.1 289,473.1 290,473.1 291,473.1 292,473.1 293,473.1 294,473.1 295,473.1 296,473.1 297,473 298,473 299,472.9 300,472.8 301,472.7 302,472.6 303,472.4 304,472.3 305,472.2 306,472 307,471.9 308,471.8 309,471.6 310,471.5 311,471.4 312,471.3 313,471.2 314,471 315,470.9 316,470.8 317,470.7 318,470.6 319,470.4 320,470.3 321,470.1 322,470 323,469.8 324,469.7 325,469.5 326,469.3 327,469.1 328,468.9 329,468.7 330,468.5 331,468.3 332,468.1 333,467.8 334,467.6 335,467.4 336,467.1 337,466.9 338,466.6 339,466.3 340,466 341,465.8 342,465.5 343,465.2 344,464.9 345,464.6 346,464.3 347,464 348,463.7 349,463.4 350,463 351,462.7 352,462.4 353,462 354,461.7 355,461.4 356,461 357,460.7 358,460.4 359,460.1 360,459.8 361,459.5 362,459.2 363,458.9 364,458.6 365,458.3 366,458 367,457.8 368,457.5 369,457.3 370,457.1 371,456.9 372,456.7 373,456.5 374,456.3 375,456.2 376,456 377,455.8 378,455.7 379,455.5 380,455.4 381,455.2 382,455.1 383,454.9 384,454.8 385,454.7 386,454.5 387,454.4 388,454.3 389,454.2 390,454.1 391,454 392,453.9 393,453.8 394,453.7 395,453.6 396,453.6 397,453.5 398,453.4 399,453.3 400,453.2 401,453.2 402,453.1 403,453 404,453 405,452.9 406,452.8 407,452.8 408,452.7 409,452.7 410,452.6 411,452.6 412,452.5 413,452.5 414,452.4 415,452.4 416,452.4 417,452.3 418,452.3 419,452.3 420,452.2 421,452.2 422,452.2 423,452.1 424,452.1 425,452.1 426,452.1 427,452 428,452 429,452 430,452 431,451.9 432,451.9 433,451.9 434,451.9 435,451.9 436,451.9 437,451.8 438,451.8 439,451.8 440,451.8 441,451.8 442,451.8 443,451.8 444,451.8 445,451.8 446,451.7 447,451.7 448,451.7 449,451.7 450,451.7 451,451.7 452,451.7 453,451.7 454,451.7 455,451.7 456,451.7 457,451.6 458,451.6 459,451.6 460,451.6 461,451.6 462,451.6 463,451.6 464,451.6 465,451.6 466,451.6 467,451.6 468,451.6 469,451.6 470,451.6 471,451.6 472,451.6 473,451.5 474,451.5 475,451.5 476,451.5 477,451.5 478,451.5 479,451.5 480,451.5 481,451.5 482,451.5 483,451.5 484,451.5 485,451.5 486,451.5 487,451.5 488,451.5 489,451.5 490,451.5 491,451.5 492,451.5 493,451.5 493,473 492,473 491,473 490,473 489,473 488,473 487,473 486,473 485,473 484,473 483,473 482,473 481,473 480,473 479,473 478,473 477,473 476,473 475,473 474,473 473,473 472,473 471,473 470,473 469,473 468,473 467,473 466,473 465,473 464,473 463,473 462,473 461,473 460,473 459,473 458,473 457,473 456,473 455,473 454,473 453,473 452,473 451,473 450,473 449,473 448,473 447,473 446,473 445,473 444,473 443,473 442,473 441,473 440,473 439,473 438,473 437,473 436,473 435,473 434,472.9 433,472.9 432,472.9 431,472.9 430,472.9 429,472.9 428,472.9 427,472.9 426,472.9 425,472.9 424,472.9 423,472.9 422,472.9 421,472.9 420,472.9 419,472.9 418,472.9 417,472.9 416,472.9 415,472.9 414,472.9 413,472.9 412,472.9 411,472.9 410,472.9 409,472.9 408,472.9 407,472.9 406,472.9 405,472.9 404,472.9 403,472.9 402,472.9 401,472.9 400,472.9 399,472.9 398,472.9 397,472.9 396,472.9 395,472.9 394,472.8 393,472.8 392,472.8 391,472.8 390,472.8 389,472.8 388,472.8 387,472.8 386,472.8 385,472.8 384,472.8 383,472.8 382,472.8 381,472.8 380,472.8 379,472.8 378,472.8 377,472.8 376,472.8 375,472.8 374,472.7 373,472.7 372,472.7 371,472.7 370,472.7 369,472.6 368,472.6 367,472.6 366,472.6 365,472.5 364,472.5 363,472.5 362,472.5 361,472.4 360,472.4 359,472.4 358,472.4 357,472.3 356,472.3 355,472.3 354,472.3 353,472.3 352,472.2 351,472.2 350,472.2 349,472.2 348,472.2 347,472.2 346,472.2 345,472.2 344,472.2 343,472.2 342,472.2 341,472.2 340,472.2 339,472.2 338,472.3 337,472.3 336,472.3 335,472.3 334,472.3 333,472.3 332,472.4 331,472.4 330,472.4 329,472.4 328,472.4 327,472.5 326,472.5 325,472.5 324,472.5 323,472.5 322,472.6 321,472.6 320,472.6 319,472.6 318,472.6 317,472.7 316,472.7 315,472.7 314,472.7 313,472.8 312,472.8 311,472.8 310,472.8 309,472.9 308,472.9 307,472.9 306,472.9 305,473 304,473 303,473 302,473 301,473 300,473.1 299,473.1 298,473.1 297,473.1 296,473.1 295,473.1 294,473.1 293,473.1 292,473.1 291,473.1 290,473.1 289,473.1 288,473.1 287,473.1 286,473.1 285,473.1 284,473.1 283,473.1 282,473.1 281,473.1 280,473.1 279,473.1 278,473.1 277,473.1 276,473.1 275,473.1 274,473.1 273,473.2 272,473.2 271,473.2 270,473.2 269,473.2 268,473.2 267,473.2 266,473.2 265,473.2 264,473.2 263,473.2 262,473.2 261,473.2 260,473.2 259,473.2 258,473.2 257,473.2 256,473.2 255,473.2 254,473.2 253,473.2 252,473.2 251,473.2 250,473.2 249,473.2 248,473.2 247,473.2 246,473.2 245,473.2 244,473.2 243,473.2 242,473.2 241,473.2 240,473.2 239,473.2 238,473.2 237,473.2 236,473.2 235,473.2 234,473.2 233,473.2 232,473.2 231,473.2 230,473.2 229,473.2 228,473.2 227,473.2 226,473.2 225,473.2 224,473.2 223,473.2 222,473.2 221,473.2 220,473.2 219,473.2 218,473.2 217,473.2 216,473.2Z" fill="#f59a71"/>
<path d="M216,471.4 217,471.4 218,471.4 219,471.4 220,471.4 221,471.4 222,471.4 223,471.4 224,471.4 225,471.4 226,471.4 227,471.4 228,471.4 229,471.4 230,471.4 231,471.4 232,471.4 233,471.4 234,471.4 235,471.4 236,471.4 237,471.4 238,471.4 239,471.4 240,471.4 241,471.4 242,471.4 243,471.4 244,471.4 245,471.4 246,471.4 247,471.4 248,471.4 249,471.4 250,471.4 251,471.4 252,471.4 253,471.4 254,471.4 255,471.4 256,471.4 257,471.4 258,471.4 259,471.4 260,471.4 261,471.4 262,471.4 263,471.4 264,471.4 265,471.4 266,471.4 267,471.4 268,471.4 269,471.4 270,471.4 271,471.4 272,471.4 273,471.4 274,471.4 275,471.4 276,471.4 277,471.4 278,471.4 279,471.4 280,471.4 281,471.4 282,471.3 283,471.2 284,471.1 285,470.9 286,470.7 287,470.5 288,470.3 289,470.1 290,470 291,469.8 292,469.6 293,469.4 294,469.3 295,469.1 296,468.9 297,468.8 298,468.6 299,468.4 300,468.2 301,468.1 302,467.9 303,467.7 304,467.6 305,467.4 306,467.3 307,467.1 308,467 309,466.8 310,466.7 311,466.6 312,466.5 313,466.3 314,466.2 315,466.1 316,465.9 317,465.8 318,465.6 319,465.4 320,465.3 321,465.1 322,464.9 323,464.7 324,464.5 325,464.3 326,464.1 327,463.8 328,463.6 329,463.3 330,463.1 331,462.8 332,462.5 333,462.2 334,461.8 335,461.5 336,461.1 337,460.8 338,460.4 339,460 340,459.6 341,459.1 342,458.6 343,458.2 344,457.6 345,457.1 346,456.6 347,456.1 348,455.5 349,454.9 350,454.2 351,453.6 352,453 353,452.3 354,451.7 355,451 356,450.4 357,449.8 358,449.2 359,448.7 360,448.1 361,447.5 362,446.9 363,446.4 364,445.8 365,445.3 366,444.8 367,444.3 368,443.8 369,443.3 370,442.9 371,442.5 372,442.1 373,441.7 374,441.3 375,440.9 376,440.6 377,440.2 378,439.9 379,439.6 380,439.2 381,438.9 382,438.6 383,438.3 384,438.1 385,437.8 386,437.5 387,437.3 388,437 389,436.8 390,436.5 391,436.3 392,436.1 393,435.9 394,435.7 395,435.5 396,435.3 397,435.1 398,434.9 399,434.7 400,434.6 401,434.4 402,434.2 403,434.1 404,433.9 405,433.7 406,433.6 407,433.4 408,433.3 409,433.1 410,433 411,432.9 412,432.7 413,432.6 414,432.5 415,432.4 416,432.2 417,432.1 418,432 419,431.9 420,431.8 421,431.7 422,431.6 423,431.5 424,431.4 425,431.3 426,431.2 427,431.1 428,431 429,430.9 430,430.8 431,430.8 432,430.7 433,430.6 434,430.6 435,430.6 436,430.5 437,430.5 438,430.4 439,430.4 440,430.3 441,430.3 442,430.3 443,430.2 444,430.2 445,430.2 446,430.1 447,430.1 448,430.1 449,430 450,430 451,430 452,430 453,429.9 454,429.9 455,429.9 456,429.9 457,429.9 458,429.8 459,429.8 460,429.8 461,429.8 462,429.8 463,429.8 464,429.8 465,429.7 466,429.7 467,429.7 468,429.7 469,429.7 470,429.7 471,429.7 472,429.6 473,429.6 474,429.6 475,429.6 476,429.6 477,429.6 478,429.6 479,429.6 480,429.6 481,429.6 482,429.5 483,429.5 484,429.5 485,429.5 486,429.5 487,429.5 488,429.5 489,429.5 490,429.5 491,429.5 492,429.5 493,429.5 493,451.5 492,451.5 491,451.5 490,451.5 489,451.5 488,451.5 487,451.5 486,451.5 485,451.5 484,451.5 483,451.5 482,451.5 481,451.5 480,451.5 479,451.5 478,451.5 477,451.5 476,451.5 475,451.5 474,451.5 473,451.5 472,451.6 471,451.6 470,451.6 469,451.6 468,451.6 467,451.6 466,451.6 465,451.6 464,451.6 463,451.6 462,451.6 461,451.6 460,451.6 459,451.6 458,451.6 457,451.6 456,451.7 455,451.7 454,451.7 453,451.7 452,451.7 451,451.7 450,451.7 449,451.7 448,451.7 447,451.7 446,451.7 445,451.8 444,451.8 443,451.8 442,451.8 441,451.8 440,451.8 439,451.8 438,451.8 437,451.8 436,451.9 435,451.9 434,451.9 433,451.9 432,451.9 431,451.9 430,452 429,452 428,452 427,452 426,452.1 425,452.1 424,452.1 423,452.1 422,452.2 421,452.2 420,452.2 419,452.3 418,452.3 417,452.3 416,452.4 415,452.4 414,452.4 413,452.5 412,452.5 411,452.6 410,452.6 409,452.7 408,452.7 407,452.8 406,452.8 405,452.9 404,453 403,453 402,453.1 401,453.2 400,453.2 399,453.3 398,453.4 397,453.5 396,453.6 395,453.6 394,453.7 393,453.8 392,453.9 391,454 390,454.1 389,454.2 388,454.3 387,454.4 386,454.5 385,454.7 384,454.8 383,454.9 382,455.1 381,455.2 380,455.4 379,455.5 378,455.7 377,455.8 376,456 375,456.2 374,456.3 373,456.5 372,456.7 371,456.9 370,457.1 369,457.3 368,457.5 367,457.8 366,458 365,458.3 364,458.6 363,458.9 362,459.2 361,459.5 360,459.8 359,460.1 358,460.4 357,460.7 356,461 355,461.4 354,461.7 353,462 352,462.4 351,462.7 350,463 349,463.4 348,463.7 347,464 346,464.3 345,464.6 344,464.9 343,465.2 342,465.5 341,465.8 340,466 339,466.3 338,466.6 337,466.9 336,467.1 335,467.4 334,467.6 333,467.8 332,468.1 331,468.3 330,468.5 329,468.7 328,468.9 327,469.1 326,469.3 325,469.5 324,469.7 323,469.8 322,470 321,470.1 320,470.3 319,470.4 318,470.6 317,470.7 316,470.8 315,470.9 314,471 313,471.2 312,471.3 311,471.4 310,471.5 309,471.6 308,471.8 307,471.9 306,472 305,472.2 304,472.3 303,472.4 302,472.6 301,472.7 300,472.8 299,472.9 298,473 297,473 296,473.1 295,473.1 294,473.1 293,473.1 292,473.1 291,473.1 290,473.1 289,473.1 288,473.1 287,473.1 286,473.1 285,473.1 284,473.1 283,473.1 282,473.1 281,473.1 280,473.1 279,473.1 278,473.1 277,473.1 276,473.1 275,473.2 274,473.2 273,473.2 272,473.2 271,473.2 270,473.2 269,473.2 268,473.2 267,473.2 266,473.2 265,473.2 264,473.2 263,473.2 262,473.2 261,473.2 260,473.2 259,473.2 258,473.2 257,473.2 256,473.2 255,473.2 254,473.2 253,473.2 252,473.2 251,473.2 250,473.2 249,473.2 248,473.2 247,473.2 246,473.2 245,473.2 244,473.2 243,473.2 242,473.2 241,473.2 240,473.2 239,473.2 238,473.2 237,473.2 236,473.2 235,473.2 234,473.2 233,473.2 232,473.2 231,473.2 230,473.2 229,473.2 228,473.2 227,473.2 226,473.2 225,473.2 224,473.2 223,473.2 222,473.2 221,473.2 220,473.2 219,473.2 218,473.2 217,473.2 216,473.2Z" fill="#71a4da"/>
<linearGradient id="lbg" x1="0" x2="1" y1="0" y2="0"><stop offset="0" stop-color="#98bce8"/><stop offset="0.55" stop-color="#c8dcf4"/><stop offset="1" stop-color="#ffffff"/></linearGradient>
<path d="M216,471.4 217,471.4 218,471.4 219,471.4 220,471.4 221,471.4 222,471.4 223,471.4 224,471.4 225,471.4 226,471.4 227,471.4 228,471.4 229,471.4 230,471.4 231,471.4 232,471.4 233,471.4 234,471.4 235,471.4 236,471.4 237,471.4 238,471.4 239,471.4 240,471.4 241,471.4 242,471.4 243,471.5 244,471.5 245,471.5 246,471.5 247,471.5 248,471.5 249,471.5 250,471.5 251,471.5 252,471.5 253,471.5 254,471.5 255,471.5 256,471.5 257,471.5 258,471.5 259,471.5 260,471.5 261,471.5 262,471.5 263,471.5 264,471.5 265,471.5 266,471.5 267,471.5 268,471.5 269,471.5 270,471.5 271,471.5 272,471.5 273,471.5 274,471.5 275,471.5 276,471.5 277,471.5 278,471.5 279,471.5 280,471.5 281,471.5 282,471.5 283,471.5 284,471.5 285,471.5 286,471.5 287,471.5 288,471.5 289,471.5 290,471.5 291,471.5 292,471.5 293,471.5 294,471.6 295,471.6 296,471.6 297,471.6 298,471.6 299,471.6 300,471.6 301,471.6 302,471.6 303,471.6 304,471.6 305,471.6 306,471.6 307,471.6 308,471.6 309,471.6 310,471.6 311,471.6 312,471.6 313,471.6 314,471.6 315,471.6 316,471.6 317,471.6 318,471.6 319,471.6 320,471.6 320,473.4 319,473.4 318,473.4 317,473.4 316,473.4 315,473.4 314,473.4 313,473.4 312,473.4 311,473.4 310,473.4 309,473.4 308,473.4 307,473.4 306,473.4 305,473.4 304,473.4 303,473.4 302,473.4 301,473.4 300,473.4 299,473.4 298,473.4 297,473.4 296,473.4 295,473.4 294,473.3 293,473.3 292,473.3 291,473.3 290,473.3 289,473.3 288,473.3 287,473.3 286,473.3 285,473.3 284,473.3 283,473.3 282,473.3 281,473.3 280,473.3 279,473.3 278,473.3 277,473.3 276,473.3 275,473.3 274,473.3 273,473.3 272,473.3 271,473.3 270,473.3 269,473.3 268,473.3 267,473.3 266,473.3 265,473.3 264,473.3 263,473.3 262,473.3 261,473.3 260,473.3 259,473.3 258,473.3 257,473.3 256,473.3 255,473.3 254,473.3 253,473.3 252,473.3 251,473.3 250,473.3 249,473.3 248,473.3 247,473.3 246,473.3 245,473.3 244,473.3 243,473.3 242,473.2 241,473.2 240,473.2 239,473.2 238,473.2 237,473.2 236,473.2 235,473.2 234,473.2 233,473.2 232,473.2 231,473.2 230,473.2 229,473.2 228,473.2 227,473.2 226,473.2 225,473.2 224,473.2 223,473.2 222,473.2 221,473.2 220,473.2 219,473.2 218,473.2 217,473.2 216,473.2Z" fill="url(#lbg)"/>
<path d="M216,469.3 217,469.3 218,469.3 219,469.3 220,469.3 221,469.3 222,469.3 223,469.3 224,469.3 225,469.3 226,469.3 227,469.3 228,469.3 229,469.3 230,469.3 231,469.3 232,469.3 233,469.3 234,469.3 235,469.3 236,469.4 237,469.4 238,469.4 239,469.4 240,469.4 241,469.4 242,469.4 243,469.4 244,469.4 245,469.4 246,469.4 247,469.4 248,469.4 249,469.4 250,469.4 251,469.5 252,469.5 253,469.5 254,469.5 255,469.5 256,469.5 257,469.5 258,469.5 259,469.5 260,469.5 261,469.6 262,469.6 263,469.6 264,469.6 265,469.6 266,469.6 267,469.6 268,469.6 269,469.6 270,469.7 271,469.7 272,469.7 273,469.7 274,469.7 275,469.7 276,469.7 277,469.8 278,469.8 279,469.8 280,469.8 281,469.8 282,469.8 283,469.9 284,469.9 285,469.9 286,470 287,470 288,470 289,470.1 290,470.1 291,470.2 292,470.2 293,470.3 294,470.3 295,470.4 296,470.4 297,470.5 298,470.5 299,470.6 300,470.6 301,470.6 302,470.7 303,470.7 304,470.8 305,470.8 306,470.9 307,470.9 308,471 309,471 310,471.1 311,471.1 312,471.2 313,471.2 314,471.3 315,471.3 316,471.4 317,471.4 318,471.4 319,471.5 320,471.5 321,471.5 322,471.5 323,471.6 324,471.6 325,471.6 326,471.6 327,471.6 328,471.7 329,471.7 330,471.7 331,471.7 332,471.7 333,471.8 334,471.8 335,471.8 336,471.8 337,471.9 338,471.9 339,471.9 340,471.9 341,472 342,472 343,472 344,472.1 345,472.1 346,472.1 347,472.2 348,472.2 349,472.3 350,472.3 351,472.3 352,472.4 353,472.5 354,472.5 355,472.6 356,472.6 357,472.7 358,472.8 359,472.8 360,472.8 361,472.9 362,472.9 363,472.9 364,472.9 365,472.9 366,473 367,473 368,473 369,473 370,473 371,473 372,473 372,473 371,473 370,473 369,473 368,473 367,473 366,473 365,472.9 364,472.9 363,472.9 362,472.9 361,472.9 360,472.9 359,472.8 358,472.8 357,472.7 356,472.7 355,472.6 354,472.6 353,472.5 352,472.5 351,472.4 350,472.4 349,472.4 348,472.3 347,472.3 346,472.3 345,472.2 344,472.2 343,472.1 342,472.1 341,472.1 340,472 339,472 338,472 337,472 336,471.9 335,471.9 334,471.9 333,471.9 332,471.8 331,471.8 330,471.8 329,471.8 328,471.8 327,471.7 326,471.7 325,471.7 324,471.7 323,471.7 322,471.6 321,471.6 320,471.6 319,471.6 318,471.6 317,471.5 316,471.5 315,471.5 314,471.5 313,471.4 312,471.4 311,471.4 310,471.4 309,471.3 308,471.3 307,471.3 306,471.3 305,471.2 304,471.2 303,471.2 302,471.2 301,471.2 300,471.2 299,471.2 298,471.2 297,471.2 296,471.2 295,471.2 294,471.2 293,471.2 292,471.2 291,471.2 290,471.2 289,471.2 288,471.2 287,471.2 286,471.3 285,471.3 284,471.3 283,471.3 282,471.3 281,471.3 280,471.3 279,471.3 278,471.3 277,471.3 276,471.3 275,471.3 274,471.3 273,471.4 272,471.4 271,471.4 270,471.4 269,471.4 268,471.4 267,471.4 266,471.4 265,471.4 264,471.4 263,471.4 262,471.4 261,471.4 260,471.4 259,471.4 258,471.4 257,471.4 256,471.4 255,471.4 254,471.4 253,471.4 252,471.4 251,471.4 250,471.4 249,471.4 248,471.4 247,471.4 246,471.4 245,471.4 244,471.4 243,471.4 242,471.4 241,471.4 240,471.4 239,471.4 238,471.4 237,471.4 236,471.4 235,471.4 234,471.4 233,471.4 232,471.4 231,471.4 230,471.4 229,471.4 228,471.4 227,471.4 226,471.4 225,471.4 224,471.4 223,471.4 222,471.4 221,471.4 220,471.4 219,471.4 218,471.4 217,471.4 216,471.4Z" fill="#f09686"/>
<path d="M216,466.8 217,466.8 218,466.8 219,466.8 220,466.8 221,466.8 222,466.8 223,466.8 224,466.8 225,466.8 226,466.8 227,466.8 228,466.8 229,466.8 230,466.8 231,466.8 232,466.8 233,466.8 234,466.8 235,466.8 236,466.8 237,466.8 238,466.8 239,466.8 240,466.8 241,466.8 242,466.8 243,466.8 244,466.8 245,466.8 246,466.8 247,466.9 248,466.9 249,466.9 250,466.9 251,466.9 252,466.9 253,466.9 254,466.9 255,466.9 256,466.9 257,466.9 258,466.9 259,466.9 260,466.9 261,466.9 262,466.9 263,466.9 264,466.9 265,466.9 266,466.9 267,466.9 268,466.9 269,466.9 270,466.9 271,467 272,467 273,467 274,467 275,467 276,467 277,467 278,467 279,467 280,467 281,467 282,467 283,467 284,467 285,467 286,467.1 287,467.1 288,467.1 289,467.1 290,467.1 291,467.1 292,467.1 293,467.2 294,467.2 295,467.2 296,467.2 297,467.2 298,467.3 299,467.3 300,467.3 301,467.3 302,467.4 303,467.4 304,467.4 305,467.5 306,467.5 307,467.5 308,467.6 309,467.6 310,467.7 311,467.7 312,467.8 313,467.8 314,467.9 315,467.9 316,468 317,468 318,468.1 319,468.2 320,468.2 321,468.2 322,468.3 323,468.3 324,468.4 325,468.4 326,468.5 327,468.5 328,468.6 329,468.6 330,468.7 331,468.8 332,468.8 333,468.9 334,468.9 335,469 336,469.1 337,469.1 338,469.2 339,469.3 340,469.4 341,469.5 342,469.6 343,469.7 344,469.8 345,469.9 346,470 347,470.1 348,470.2 349,470.3 350,470.4 351,470.5 352,470.7 353,470.8 354,471 355,471.2 356,471.3 357,471.5 358,471.7 359,471.8 360,472 361,472.1 362,472.2 363,472.3 364,472.4 365,472.4 366,472.5 367,472.6 368,472.6 369,472.7 370,472.7 371,472.8 372,472.8 372,473 371,473 370,473 369,473 368,473 367,473 366,473 365,472.9 364,472.9 363,472.9 362,472.9 361,472.9 360,472.8 359,472.8 358,472.8 357,472.7 356,472.6 355,472.6 354,472.5 353,472.5 352,472.4 351,472.3 350,472.3 349,472.3 348,472.2 347,472.2 346,472.1 345,472.1 344,472.1 343,472 342,472 341,472 340,471.9 339,471.9 338,471.9 337,471.9 336,471.8 335,471.8 334,471.8 333,471.8 332,471.7 331,471.7 330,471.7 329,471.7 328,471.7 327,471.6 326,471.6 325,471.6 324,471.6 323,471.6 322,471.5 321,471.5 320,471.5 319,471.5 318,471.4 317,471.4 316,471.4 315,471.3 314,471.3 313,471.2 312,471.2 311,471.1 310,471.1 309,471 308,471 307,470.9 306,470.9 305,470.8 304,470.8 303,470.7 302,470.7 301,470.6 300,470.6 299,470.6 298,470.5 297,470.5 296,470.4 295,470.4 294,470.3 293,470.3 292,470.2 291,470.2 290,470.1 289,470.1 288,470 287,470 286,470 285,469.9 284,469.9 283,469.9 282,469.8 281,469.8 280,469.8 279,469.8 278,469.8 277,469.8 276,469.7 275,469.7 274,469.7 273,469.7 272,469.7 271,469.7 270,469.7 269,469.6 268,469.6 267,469.6 266,469.6 265,469.6 264,469.6 263,469.6 262,469.6 261,469.6 260,469.5 259,469.5 258,469.5 257,469.5 256,469.5 255,469.5 254,469.5 253,469.5 252,469.5 251,469.5 250,469.4 249,469.4 248,469.4 247,469.4 246,469.4 245,469.4 244,469.4 243,469.4 242,469.4 241,469.4 240,469.4 239,469.4 238,469.4 237,469.4 236,469.4 235,469.3 234,469.3 233,469.3 232,469.3 231,469.3 230,469.3 229,469.3 228,469.3 227,469.3 226,469.3 225,469.3 224,469.3 223,469.3 222,469.3 221,469.3 220,469.3 219,469.3 218,469.3 217,469.3 216,469.3Z" fill="#e068ab"/>
<rect x="216.00" y="467.00" width="17.20" height="2.70" fill="#c02080" />
<rect x="216.00" y="469.70" width="17.20" height="2.30" fill="#e84848" />
<rect x="216.00" y="472.00" width="17.20" height="2.30" fill="#5070c0" />
<rect x="216.00" y="474.30" width="17.20" height="1.90" fill="#501870" />
<rect x="216.00" y="476.20" width="17.20" height="1.20" fill="#e0a030" />
<rect x="216.00" y="477.40" width="17.20" height="1.40" fill="#302010" />
<rect x="478.60" y="429.50" width="14.40" height="22.00" fill="#3a80cc" />
<rect x="478.60" y="451.50" width="14.40" height="21.50" fill="#f06424" />
<rect x="478.60" y="473.00" width="14.40" height="3.20" fill="#f0c020" />
<rect x="478.60" y="476.20" width="14.40" height="2.30" fill="#703890" />
<line x1="208.00" y1="485.00" x2="499.70" y2="485.00" stroke="#333" stroke-width="1.1"/>
<line x1="238.80" y1="485.00" x2="238.80" y2="487.20" stroke="#333" stroke-width="0.9"/>
<line x1="343.20" y1="485.00" x2="343.20" y2="487.20" stroke="#333" stroke-width="0.9"/>
<line x1="447.70" y1="485.00" x2="447.70" y2="487.20" stroke="#333" stroke-width="0.9"/>
<line x1="291.00" y1="485.00" x2="291.00" y2="486.60" stroke="#333" stroke-width="0.8"/>
<line x1="395.50" y1="485.00" x2="395.50" y2="486.60" stroke="#333" stroke-width="0.8"/>
<text x="238.80" y="496.70" font-size="7.7" text-anchor="middle" fill="#222"><tspan>100</tspan></text>
<text x="343.20" y="496.70" font-size="7.7" text-anchor="middle" fill="#222"><tspan>200</tspan></text>
<text x="447.70" y="496.70" font-size="7.7" text-anchor="middle" fill="#222"><tspan>300</tspan></text>
<line x1="224.40" y1="455.20" x2="224.40" y2="459.80" stroke="#111" stroke-width="1.1"/>
<path d="M221.40,457.10 L224.40,458.00 L227.40,457.10 L224.40,463.80 Z" fill="#111"/>
<text x="224.40" y="450.40" font-size="7.7" text-anchor="middle" fill="#222"><tspan>18.2</tspan></text>
<line x1="484.30" y1="416.80" x2="484.30" y2="421.80" stroke="#111" stroke-width="1.1"/>
<path d="M481.30,419.10 L484.30,420.00 L487.30,419.10 L484.30,425.80 Z" fill="#111"/>
<text x="484.30" y="412.20" font-size="7.7" text-anchor="middle" fill="#222"><tspan>127.1</tspan></text>
<text x="6.8" y="518.2" font-size="10.6" font-weight="bold" fill="#111" stroke="#111" stroke-width="0.3">E</text>
<text x="17.50" y="543.30" font-size="7.5" font-weight="bold" fill="#1e1e1e"><tspan>MZ07 (SPLENIC)</tspan></text>
<text x="17.50" y="554.40" font-size="7.3" font-style="italic" fill="#555"><tspan>Progressive Disease</tspan></text>
<rect x="18.80" y="561.20" width="76.30" height="8.70" fill="#dedede" />
<line x1="16.80" y1="559.80" x2="188.50" y2="559.80" stroke="#333" stroke-width="1"/>
<line x1="16.80" y1="571.30" x2="188.50" y2="571.30" stroke="#333" stroke-width="1"/>
<line x1="16.80" y1="582.40" x2="188.50" y2="582.40" stroke="#333" stroke-width="1"/>
<line x1="16.80" y1="593.50" x2="188.50" y2="593.50" stroke="#333" stroke-width="1"/>
<line x1="16.80" y1="604.40" x2="188.50" y2="604.40" stroke="#333" stroke-width="1"/>
<line x1="16.80" y1="615.20" x2="188.50" y2="615.20" stroke="#333" stroke-width="1"/>
<line x1="16.80" y1="626.20" x2="188.50" y2="626.20" stroke="#333" stroke-width="1"/>
<line x1="17.30" y1="559.80" x2="17.30" y2="626.20" stroke="#333" stroke-width="1"/>
<line x1="96.60" y1="559.80" x2="96.60" y2="626.20" stroke="#333" stroke-width="1"/>
<line x1="125.50" y1="559.80" x2="125.50" y2="626.20" stroke="#333" stroke-width="1"/>
<line x1="156.50" y1="559.80" x2="156.50" y2="626.20" stroke="#333" stroke-width="1"/>
<line x1="188.00" y1="559.80" x2="188.00" y2="626.20" stroke="#333" stroke-width="1"/>
<text x="56.95" y="567.96" font-size="7.0" text-anchor="middle" fill="#2e2e2e"><tspan>hGE/mL plasma</tspan></text>
<text x="111.05" y="567.96" font-size="7.0" text-anchor="middle" fill="#2e2e2e"><tspan>Day -11</tspan></text>
<text x="141.00" y="567.96" font-size="7.0" text-anchor="middle" fill="#2e2e2e"><tspan>Day 170</tspan></text>
<text x="172.25" y="567.96" font-size="7.0" text-anchor="middle" fill="#2e2e2e"><tspan>Day 253</tspan></text>
<text x="56.95" y="579.26" font-size="7.0" text-anchor="middle" fill="#2e2e2e"><tspan font-style="italic">MYD88</tspan><tspan> – V144M</tspan></text>
<text x="111.05" y="579.26" font-size="7.0" text-anchor="middle" fill="#2e2e2e"><tspan>1.3</tspan></text>
<text x="141.00" y="579.26" font-size="7.0" text-anchor="middle" fill="#2e2e2e"><tspan>5.7</tspan></text>
<text x="172.25" y="579.26" font-size="7.0" text-anchor="middle" fill="#2e2e2e"><tspan>0.34</tspan></text>
<text x="56.95" y="590.37" font-size="7.0" text-anchor="middle" fill="#2e2e2e"><tspan font-style="italic">TNFAIP3</tspan><tspan> – N415QT..*</tspan></text>
<text x="111.05" y="590.37" font-size="7.0" text-anchor="middle" fill="#2e2e2e"><tspan>250.1</tspan></text>
<text x="141.00" y="590.37" font-size="7.0" text-anchor="middle" fill="#2e2e2e"><tspan>11.4</tspan></text>
<text x="172.25" y="590.37" font-size="7.0" text-anchor="middle" fill="#2e2e2e"><tspan>395.8</tspan></text>
<text x="56.95" y="601.37" font-size="7.0" text-anchor="middle" fill="#2e2e2e"><tspan font-style="italic">KMT2D</tspan><tspan> – Q3370*</tspan></text>
<text x="111.05" y="601.37" font-size="7.0" text-anchor="middle" fill="#2e2e2e"><tspan>151.9</tspan></text>
<text x="141.00" y="601.37" font-size="7.0" text-anchor="middle" fill="#2e2e2e"><tspan>4.7</tspan></text>
<text x="172.25" y="601.37" font-size="7.0" text-anchor="middle" fill="#2e2e2e"><tspan>251.0</tspan></text>
<text x="56.95" y="612.21" font-size="7.0" text-anchor="middle" fill="#2e2e2e"><tspan font-style="italic" fill="#d01f2c">PLCG2</tspan><tspan fill="#d01f2c"> – R665W</tspan></text>
<text x="111.05" y="612.21" font-size="7.0" text-anchor="middle" fill="#2e2e2e"><tspan font-style="italic">BD</tspan></text>
<text x="141.00" y="612.21" font-size="7.0" text-anchor="middle" fill="#2e2e2e"><tspan font-style="italic">BD</tspan></text>
<text x="172.25" y="612.21" font-size="7.0" text-anchor="middle" fill="#2e2e2e"><tspan>18.8</tspan></text>
<text x="56.95" y="623.12" font-size="7.0" text-anchor="middle" fill="#2e2e2e"><tspan font-style="italic" fill="#d01f2c">PLCG2</tspan><tspan fill="#d01f2c"> – R742P</tspan></text>
<text x="111.05" y="623.12" font-size="7.0" text-anchor="middle" fill="#2e2e2e"><tspan font-style="italic">BD</tspan></text>
<text x="141.00" y="623.12" font-size="7.0" text-anchor="middle" fill="#2e2e2e"><tspan font-style="italic">BD</tspan></text>
<text x="172.25" y="623.12" font-size="7.0" text-anchor="middle" fill="#2e2e2e"><tspan>10.0</tspan></text>
<rect x="170.50" y="523.20" width="8.60" height="8.50" fill="#3a9aa2" />
<text x="182.50" y="529.77" font-size="7.9" fill="#2b2b2b"><tspan font-style="italic">KLF2</tspan><tspan> – C274S</tspan></text>
<rect x="170.50" y="534.85" width="8.60" height="8.50" fill="#e0b832" />
<text x="182.50" y="541.42" font-size="7.9" fill="#2b2b2b"><tspan font-style="italic">MYD88</tspan><tspan> – V144M</tspan></text>
<rect x="246.80" y="523.20" width="8.60" height="8.50" fill="#e272b2" />
<text x="258.50" y="529.77" font-size="7.9" fill="#2b2b2b"><tspan font-style="italic">KMT2D</tspan><tspan> – Q3370*</tspan></text>
<rect x="246.80" y="534.85" width="8.60" height="8.50" fill="#5296d6" />
<text x="258.50" y="541.42" font-size="7.9" fill="#2b2b2b"><tspan font-style="italic">BCL10</tspan><tspan> – E140*</tspan></text>
<rect x="246.80" y="546.10" width="8.60" height="8.50" fill="#e06878" />
<text x="258.50" y="552.67" font-size="7.9" fill="#2b2b2b"><tspan font-style="italic">TNFAIP3</tspan><tspan> – N415QT..*</tspan></text>
<rect x="337.40" y="523.20" width="8.60" height="8.50" fill="#822a92" />
<text x="349.00" y="529.77" font-size="7.9" fill="#2b2b2b"><tspan font-style="italic">IGLL5</tspan><tspan> – G9D</tspan></text>
<rect x="337.40" y="534.85" width="8.60" height="8.50" fill="#52b252" />
<text x="349.00" y="541.42" font-size="7.9" fill="#2b2b2b"><tspan font-style="italic" fill="#d01f2c">PLCG2</tspan><tspan fill="#d01f2c"> – R665W</tspan></text>
<rect x="337.40" y="546.10" width="8.60" height="8.50" fill="#f0a2d2" />
<text x="349.00" y="552.67" font-size="7.9" fill="#2b2b2b"><tspan font-style="italic" fill="#d01f2c">PLCG2</tspan><tspan fill="#d01f2c"> – R742P</tspan></text>
<rect x="414.00" y="523.20" width="8.60" height="8.50" fill="#f2a272" />
<text x="426.70" y="529.77" font-size="7.9" fill="#2b2b2b"><tspan font-style="italic">EP300</tspan><tspan> – L415P</tspan></text>
<path d="M340,603 341,603.7 342,604.3 343,604.9 344,605.5 345,606.1 346,606.6 347,607.1 348,607.6 349,608 350,608.4 351,608.8 352,609.1 353,609.4 354,609.7 355,610 356,610.3 357,610.5 358,610.8 359,611 360,611.3 361,611.5 362,611.7 363,611.9 364,612 365,612.1 366,612.2 367,612.3 368,612.3 369,612.3 370,612.3 371,612.4 372,612.4 373,612.4 374,612.4 375,612.4 376,612.4 377,612.4 378,612.5 379,612.5 380,612.5 381,612.5 382,612.5 383,612.5 384,612.5 385,612.5 386,612.5 387,612.5 388,612.5 389,612.5 390,612.5 391,612.6 392,612.6 393,612.6 394,612.6 395,612.6 396,612.6 397,612.6 398,612.6 399,612.6 400,612.6 401,612.6 402,612.6 403,612.6 404,612.6 405,612.6 406,612.6 407,612.6 408,612.6 409,612.6 410,612.7 411,612.7 412,612.7 413,612.7 414,612.7 415,612.7 416,612.7 417,612.7 418,612.7 419,612.7 420,612.7 421,612.7 422,612.7 423,612.7 424,612.7 425,612.7 426,612.7 427,612.7 428,612.7 429,612.7 430,612.7 431,612.8 432,612.8 433,612.8 434,612.8 435,612.8 436,612.8 437,612.8 438,612.8 439,612.8 440,612.8 441,612.8 442,612.8 443,612.8 444,612.8 445,612.8 446,612.8 447,612.8 448,612.8 449,612.8 450,612.8 451,612.8 452,612.8 453,612.8 454,612.8 455,612.8 456,612.7 457,612.6 458,612.3 459,611.9 460,611.5 461,610.6 462,608.9 462,611.8 461,612.7 460,613.2 459,613.4 458,613.5 457,613.7 456,613.8 455,613.8 454,613.8 453,613.8 452,613.8 451,613.8 450,613.8 449,613.8 448,613.8 447,613.8 446,613.8 445,613.8 444,613.8 443,613.8 442,613.8 441,613.8 440,613.8 439,613.8 438,613.8 437,613.8 436,613.8 435,613.8 434,613.8 433,613.8 432,613.8 431,613.8 430,613.8 429,613.8 428,613.8 427,613.8 426,613.8 425,613.8 424,613.8 423,613.8 422,613.8 421,613.8 420,613.8 419,613.7 418,613.7 417,613.7 416,613.7 415,613.7 414,613.7 413,613.7 412,613.7 411,613.7 410,613.7 409,613.7 408,613.7 407,613.7 406,613.7 405,613.7 404,613.7 403,613.7 402,613.7 401,613.7 400,613.7 399,613.7 398,613.7 397,613.7 396,613.7 395,613.7 394,613.7 393,613.7 392,613.7 391,613.7 390,613.7 389,613.7 388,613.7 387,613.7 386,613.7 385,613.7 384,613.7 383,613.7 382,613.6 381,613.6 380,613.6 379,613.6 378,613.6 377,613.6 376,613.6 375,613.6 374,613.6 373,613.6 372,613.6 371,613.6 370,613.6 369,613.6 368,613.6 367,613.5 366,613.5 365,613.5 364,613.4 363,613.3 362,613.2 361,613.1 360,613 359,612.9 358,612.8 357,612.7 356,612.5 355,612.4 354,612.2 353,612.1 352,612 351,611.8 350,611.6 349,611.4 348,611.2 347,611 346,610.7 345,610.4 344,610.2 343,609.9 342,609.6 341,609.2 340,608.9Z" fill="#aca4c0"/>
<path d="M340,608.9 341,609.2 342,609.6 343,609.9 344,610.2 345,610.4 346,610.7 347,611 348,611.2 349,611.4 350,611.6 351,611.8 352,612 353,612.1 354,612.2 355,612.4 356,612.5 357,612.7 358,612.8 359,612.9 360,613 361,613.1 362,613.2 363,613.3 364,613.4 365,613.5 366,613.5 367,613.5 368,613.6 369,613.6 370,613.6 371,613.6 372,613.6 373,613.6 374,613.6 375,613.6 376,613.6 377,613.6 378,613.6 379,613.6 380,613.6 381,613.6 382,613.6 383,613.7 384,613.7 385,613.7 386,613.7 387,613.7 388,613.7 389,613.7 390,613.7 391,613.7 392,613.7 393,613.7 394,613.7 395,613.7 396,613.7 397,613.7 398,613.7 399,613.7 400,613.7 401,613.7 402,613.7 403,613.7 404,613.7 405,613.7 406,613.7 407,613.7 408,613.7 409,613.7 410,613.7 411,613.7 412,613.7 413,613.7 414,613.7 415,613.7 416,613.7 417,613.7 418,613.7 419,613.7 420,613.8 421,613.8 422,613.8 423,613.8 424,613.8 425,613.8 426,613.8 427,613.8 428,613.8 429,613.8 430,613.8 431,613.8 432,613.8 433,613.8 434,613.8 435,613.8 436,613.8 437,613.8 438,613.8 439,613.8 440,613.8 441,613.8 442,613.8 443,613.8 444,613.8 445,613.8 446,613.8 447,613.8 448,613.8 449,613.8 450,613.8 451,613.8 452,613.8 453,613.8 454,613.8 455,613.8 456,613.8 457,613.7 458,613.5 459,613.4 460,613.2 461,612.7 462,611.8 462,614.8 461,614.8 460,614.8 459,614.8 458,614.8 457,614.8 456,614.8 455,614.8 454,614.8 453,614.8 452,614.8 451,614.8 450,614.8 449,614.8 448,614.8 447,614.8 446,614.8 445,614.8 444,614.8 443,614.8 442,614.8 441,614.8 440,614.8 439,614.8 438,614.8 437,614.8 436,614.8 435,614.8 434,614.8 433,614.8 432,614.8 431,614.8 430,614.8 429,614.8 428,614.8 427,614.8 426,614.8 425,614.8 424,614.8 423,614.8 422,614.8 421,614.8 420,614.8 419,614.8 418,614.8 417,614.8 416,614.8 415,614.8 414,614.8 413,614.8 412,614.8 411,614.8 410,614.8 409,614.8 408,614.8 407,614.8 406,614.8 405,614.8 404,614.8 403,614.8 402,614.8 401,614.8 400,614.8 399,614.8 398,614.8 397,614.8 396,614.8 395,614.8 394,614.8 393,614.8 392,614.8 391,614.8 390,614.8 389,614.8 388,614.8 387,614.8 386,614.8 385,614.8 384,614.8 383,614.8 382,614.8 381,614.8 380,614.8 379,614.8 378,614.8 377,614.8 376,614.8 375,614.8 374,614.8 373,614.8 372,614.8 371,614.8 370,614.8 369,614.8 368,614.8 367,614.8 366,614.8 365,614.8 364,614.8 363,614.8 362,614.8 361,614.8 360,614.8 359,614.8 358,614.8 357,614.8 356,614.8 355,614.8 354,614.8 353,614.8 352,614.8 351,614.8 350,614.8 349,614.8 348,614.8 347,614.8 346,614.8 345,614.8 344,614.8 343,614.8 342,614.8 341,614.8 340,614.8Z" fill="#d2bdd2"/>
<linearGradient id="gmEL" gradientUnits="userSpaceOnUse" x1="350" x2="385" y1="0" y2="0"><stop offset="0" stop-color="#fff"/><stop offset="1" stop-color="#000"/></linearGradient><mask id="mEL" maskUnits="userSpaceOnUse" x="0" y="0" width="520" height="638"><rect x="0" y="0" width="520" height="638" fill="url(#gmEL)"/></mask>
<g mask="url(#mEL)">
<path d="M212,571.5 213,571.5 214,571.5 215,571.5 216,571.5 217,571.5 218,571.5 219,571.5 220,571.5 221,571.5 222,571.5 223,571.5 224,571.5 225,571.5 226,571.5 227,571.5 228,571.5 229,571.5 230,571.5 231,571.5 232,571.5 233,571.5 234,571.5 235,571.5 236,571.5 237,571.6 238,571.6 239,571.6 240,571.6 241,571.6 242,571.6 243,571.6 244,571.6 245,571.6 246,571.6 247,571.6 248,571.6 249,571.6 250,571.6 251,571.6 252,571.6 253,571.6 254,571.7 255,571.7 256,571.7 257,571.7 258,571.7 259,571.7 260,571.7 261,571.7 262,571.7 263,571.7 264,571.8 265,571.8 266,571.8 267,571.9 268,571.9 269,572 270,572 271,572.1 272,572.1 273,572.2 274,572.3 275,572.3 276,572.4 277,572.5 278,572.6 279,572.6 280,572.7 281,572.8 282,572.9 283,573 284,573.1 285,573.2 286,573.3 287,573.4 288,573.5 289,573.6 290,573.7 291,573.8 292,573.9 293,574.1 294,574.2 295,574.4 296,574.6 297,574.8 298,575 299,575.2 300,575.4 301,575.6 302,575.9 303,576.2 304,576.4 305,576.7 306,577 307,577.3 308,577.6 309,578 310,578.4 311,578.8 312,579.2 313,579.7 314,580.2 315,580.7 316,581.2 317,581.8 318,582.4 319,583 320,583.6 321,584.3 322,585 323,585.8 324,586.6 325,587.6 326,588.7 327,589.7 328,590.8 329,591.9 330,593 331,594 332,595 333,596.1 334,597.2 335,598.3 336,599.4 337,600.4 338,601.4 339,602.3 340,603 341,603.7 342,604.3 343,604.9 344,605.5 345,606.1 346,606.6 347,607.1 348,607.6 349,608 350,608.4 351,608.8 352,609.1 353,609.4 354,609.7 355,610 356,610.3 357,610.5 358,610.8 359,611 360,611.3 361,611.5 362,611.7 363,611.9 364,612 365,612.1 366,612.2 367,612.3 368,612.3 369,612.3 370,612.3 371,612.4 372,612.4 373,612.4 374,612.4 375,612.4 376,612.4 377,612.4 378,612.5 379,612.5 380,612.5 381,612.5 382,612.5 383,612.5 384,612.5 385,612.5 386,612.5 386,613.5 385,613.5 384,613.4 383,613.4 382,613.4 381,613.4 380,613.4 379,613.4 378,613.4 377,613.4 376,613.4 375,613.4 374,613.4 373,613.4 372,613.4 371,613.4 370,613.3 369,613.3 368,613.3 367,613.3 366,613.3 365,613.2 364,613.1 363,613.1 362,613 361,612.8 360,612.7 359,612.6 358,612.4 357,612.3 356,612.1 355,612 354,611.8 353,611.6 352,611.4 351,611.2 350,611 349,610.8 348,610.5 347,610.3 346,610 345,609.6 344,609.3 343,609 342,608.6 341,608.2 340,607.8 339,607.4 338,606.9 337,606.3 336,605.7 335,605.1 334,604.4 333,603.8 332,603.1 331,602.5 330,601.9 329,601.3 328,600.6 327,600 326,599.4 325,598.7 324,598.2 323,597.6 322,597.2 321,596.7 320,596.4 319,596 318,595.6 317,595.3 316,595 315,594.6 314,594.3 313,594 312,593.8 311,593.5 310,593.3 309,593 308,592.8 307,592.6 306,592.5 305,592.3 304,592.1 303,592 302,591.8 301,591.7 300,591.5 299,591.4 298,591.2 297,591.1 296,591 295,590.9 294,590.8 293,590.7 292,590.6 291,590.6 290,590.5 289,590.4 288,590.4 287,590.3 286,590.3 285,590.2 284,590.1 283,590.1 282,590 281,590 280,589.9 279,589.9 278,589.8 277,589.8 276,589.7 275,589.7 274,589.7 273,589.6 272,589.6 271,589.5 270,589.5 269,589.5 268,589.4 267,589.4 266,589.4 265,589.4 264,589.4 263,589.3 262,589.3 261,589.3 260,589.3 259,589.3 258,589.3 257,589.3 256,589.3 255,589.3 254,589.3 253,589.3 252,589.3 251,589.3 250,589.3 249,589.3 248,589.3 247,589.3 246,589.3 245,589.3 244,589.3 243,589.2 242,589.2 241,589.2 240,589.2 239,589.2 238,589.2 237,589.2 236,589.2 235,589.2 234,589.2 233,589.2 232,589.2 231,589.2 230,589.2 229,589.2 228,589.2 227,589.2 226,589.2 225,589.2 224,589.2 223,589.2 222,589.2 221,589.2 220,589.2 219,589.2 218,589.2 217,589.2 216,589.2 215,589.2 214,589.2 213,589.2 212,589.2Z" fill="#5ca3a3"/>
<path d="M212,589.2 213,589.2 214,589.2 215,589.2 216,589.2 217,589.2 218,589.2 219,589.2 220,589.2 221,589.2 222,589.2 223,589.2 224,589.2 225,589.2 226,589.2 227,589.2 228,589.2 229,589.2 230,589.2 231,589.2 232,589.2 233,589.2 234,589.2 235,589.2 236,589.2 237,589.2 238,589.2 239,589.2 240,589.2 241,589.2 242,589.2 243,589.2 244,589.3 245,589.3 246,589.3 247,589.3 248,589.3 249,589.3 250,589.3 251,589.3 252,589.3 253,589.3 254,589.3 255,589.3 256,589.3 257,589.3 258,589.3 259,589.3 260,589.3 261,589.3 262,589.3 263,589.3 264,589.4 265,589.4 266,589.4 267,589.4 268,589.4 269,589.5 270,589.5 271,589.5 272,589.6 273,589.6 274,589.7 275,589.7 276,589.7 277,589.8 278,589.8 279,589.9 280,589.9 281,590 282,590 283,590.1 284,590.1 285,590.2 286,590.3 287,590.3 288,590.4 289,590.4 290,590.5 291,590.6 292,590.6 293,590.7 294,590.8 295,590.9 296,591 297,591.1 298,591.2 299,591.4 300,591.5 301,591.7 302,591.8 303,592 304,592.1 305,592.3 306,592.5 307,592.6 308,592.8 309,593 310,593.3 311,593.5 312,593.8 313,594 314,594.3 315,594.6 316,595 317,595.3 318,595.6 319,596 320,596.4 321,596.7 322,597.2 323,597.6 324,598.2 325,598.7 326,599.4 327,600 328,600.6 329,601.3 330,601.9 331,602.5 332,603.1 333,603.8 334,604.4 335,605.1 336,605.7 337,606.3 338,606.9 339,607.4 340,607.8 341,608.2 342,608.6 343,609 344,609.3 345,609.6 346,610 347,610.3 348,610.5 349,610.8 350,611 351,611.2 352,611.4 353,611.6 354,611.8 355,612 356,612.1 357,612.3 358,612.4 359,612.6 360,612.7 361,612.8 362,613 363,613.1 364,613.1 365,613.2 366,613.3 367,613.3 368,613.3 369,613.3 370,613.3 371,613.4 372,613.4 373,613.4 374,613.4 375,613.4 376,613.4 377,613.4 378,613.4 379,613.4 380,613.4 381,613.4 382,613.4 383,613.4 384,613.4 385,613.5 386,613.5 386,613.8 385,613.8 384,613.8 383,613.8 382,613.8 381,613.8 380,613.8 379,613.8 378,613.8 377,613.8 376,613.8 375,613.8 374,613.8 373,613.8 372,613.8 371,613.8 370,613.7 369,613.7 368,613.7 367,613.7 366,613.7 365,613.7 364,613.6 363,613.5 362,613.5 361,613.4 360,613.3 359,613.2 358,613.1 357,613 356,612.9 355,612.7 354,612.6 353,612.5 352,612.4 351,612.2 350,612.1 349,611.9 348,611.7 347,611.5 346,611.3 345,611.1 344,610.8 343,610.6 342,610.3 341,610 340,609.7 339,609.4 338,609 337,608.6 336,608.2 335,607.7 334,607.3 333,606.8 332,606.3 331,605.9 330,605.4 329,605 328,604.5 327,604 326,603.6 325,603.1 324,602.7 323,602.3 322,602 321,601.7 320,601.4 319,601.1 318,600.9 317,600.6 316,600.4 315,600.2 314,599.9 313,599.7 312,599.5 311,599.3 310,599.2 309,599 308,598.8 307,598.7 306,598.6 305,598.4 304,598.3 303,598.2 302,598.1 301,598 300,597.9 299,597.8 298,597.7 297,597.6 296,597.5 295,597.4 294,597.4 293,597.3 292,597.2 291,597.2 290,597.2 289,597.1 288,597.1 287,597 286,597 285,596.9 284,596.9 283,596.8 282,596.8 281,596.8 280,596.7 279,596.7 278,596.7 277,596.6 276,596.6 275,596.6 274,596.5 273,596.5 272,596.5 271,596.4 270,596.4 269,596.4 268,596.4 267,596.4 266,596.3 265,596.3 264,596.3 263,596.3 262,596.3 261,596.3 260,596.3 259,596.3 258,596.3 257,596.3 256,596.3 255,596.3 254,596.3 253,596.3 252,596.3 251,596.3 250,596.3 249,596.3 248,596.2 247,596.2 246,596.2 245,596.2 244,596.2 243,596.2 242,596.2 241,596.2 240,596.2 239,596.2 238,596.2 237,596.2 236,596.2 235,596.2 234,596.2 233,596.2 232,596.2 231,596.2 230,596.2 229,596.2 228,596.2 227,596.2 226,596.2 225,596.2 224,596.2 223,596.2 222,596.2 221,596.2 220,596.2 219,596.2 218,596.2 217,596.2 216,596.2 215,596.2 214,596.2 213,596.2 212,596.2Z" fill="#ea6788"/>
<path d="M212,596.2 213,596.2 214,596.2 215,596.2 216,596.2 217,596.2 218,596.2 219,596.2 220,596.2 221,596.2 222,596.2 223,596.2 224,596.2 225,596.2 226,596.2 227,596.2 228,596.2 229,596.2 230,596.2 231,596.2 232,596.2 233,596.2 234,596.2 235,596.2 236,596.2 237,596.2 238,596.2 239,596.2 240,596.2 241,596.2 242,596.2 243,596.2 244,596.2 245,596.2 246,596.2 247,596.2 248,596.2 249,596.3 250,596.3 251,596.3 252,596.3 253,596.3 254,596.3 255,596.3 256,596.3 257,596.3 258,596.3 259,596.3 260,596.3 261,596.3 262,596.3 263,596.3 264,596.3 265,596.3 266,596.3 267,596.4 268,596.4 269,596.4 270,596.4 271,596.4 272,596.5 273,596.5 274,596.5 275,596.6 276,596.6 277,596.6 278,596.7 279,596.7 280,596.7 281,596.8 282,596.8 283,596.8 284,596.9 285,596.9 286,597 287,597 288,597.1 289,597.1 290,597.2 291,597.2 292,597.2 293,597.3 294,597.4 295,597.4 296,597.5 297,597.6 298,597.7 299,597.8 300,597.9 301,598 302,598.1 303,598.2 304,598.3 305,598.4 306,598.6 307,598.7 308,598.8 309,599 310,599.2 311,599.3 312,599.5 313,599.7 314,599.9 315,600.2 316,600.4 317,600.6 318,600.9 319,601.1 320,601.4 321,601.7 322,602 323,602.3 324,602.7 325,603.1 326,603.6 327,604 328,604.5 329,605 330,605.4 331,605.9 332,606.3 333,606.8 334,607.3 335,607.7 336,608.2 337,608.6 338,609 339,609.4 340,609.7 341,610 342,610.3 343,610.6 344,610.8 345,611.1 346,611.3 347,611.5 348,611.7 349,611.9 350,612.1 351,612.2 352,612.4 353,612.5 354,612.6 355,612.7 356,612.9 357,613 358,613.1 359,613.2 360,613.3 361,613.4 362,613.5 363,613.5 364,613.6 365,613.7 366,613.7 367,613.7 368,613.7 369,613.7 370,613.7 371,613.8 372,613.8 373,613.8 374,613.8 375,613.8 376,613.8 377,613.8 378,613.8 379,613.8 380,613.8 381,613.8 382,613.8 383,613.8 384,613.8 385,613.8 386,613.8 386,614.1 385,614.1 384,614.1 383,614.1 382,614.1 381,614.1 380,614.1 379,614.1 378,614.1 377,614.1 376,614.1 375,614.1 374,614.1 373,614.1 372,614.1 371,614.1 370,614.1 369,614.1 368,614.1 367,614.1 366,614.1 365,614 364,614 363,614 362,613.9 361,613.8 360,613.8 359,613.7 358,613.6 357,613.6 356,613.5 355,613.4 354,613.3 353,613.2 352,613.2 351,613.1 350,613 349,612.8 348,612.7 347,612.6 346,612.4 345,612.3 344,612.1 343,612 342,611.8 341,611.6 340,611.4 339,611.2 338,610.9 337,610.7 336,610.4 335,610 334,609.7 333,609.4 332,609.1 331,608.8 330,608.5 329,608.2 328,607.9 327,607.6 326,607.3 325,607 324,606.7 323,606.4 322,606.2 321,606 320,605.8 319,605.6 318,605.4 317,605.3 316,605.1 315,605 314,604.8 313,604.7 312,604.5 311,604.4 310,604.3 309,604.2 308,604.1 307,604 306,603.9 305,603.8 304,603.7 303,603.6 302,603.6 301,603.5 300,603.4 299,603.4 298,603.3 297,603.2 296,603.2 295,603.1 294,603.1 293,603 292,603 291,603 290,602.9 289,602.9 288,602.9 287,602.8 286,602.8 285,602.8 284,602.8 283,602.7 282,602.7 281,602.7 280,602.7 279,602.6 278,602.6 277,602.6 276,602.6 275,602.5 274,602.5 273,602.5 272,602.5 271,602.5 270,602.4 269,602.4 268,602.4 267,602.4 266,602.4 265,602.4 264,602.4 263,602.4 262,602.4 261,602.4 260,602.4 259,602.4 258,602.4 257,602.4 256,602.3 255,602.3 254,602.3 253,602.3 252,602.3 251,602.3 250,602.3 249,602.3 248,602.3 247,602.3 246,602.3 245,602.3 244,602.3 243,602.3 242,602.3 241,602.3 240,602.3 239,602.3 238,602.3 237,602.3 236,602.3 235,602.3 234,602.3 233,602.3 232,602.3 231,602.3 230,602.3 229,602.3 228,602.3 227,602.3 226,602.3 225,602.3 224,602.3 223,602.3 222,602.3 221,602.3 220,602.3 219,602.3 218,602.3 217,602.3 216,602.3 215,602.3 214,602.3 213,602.3 212,602.3Z" fill="#ea72a9"/>
<path d="M212,602.3 213,602.3 214,602.3 215,602.3 216,602.3 217,602.3 218,602.3 219,602.3 220,602.3 221,602.3 222,602.3 223,602.3 224,602.3 225,602.3 226,602.3 227,602.3 228,602.3 229,602.3 230,602.3 231,602.3 232,602.3 233,602.3 234,602.3 235,602.3 236,602.3 237,602.3 238,602.3 239,602.3 240,602.3 241,602.3 242,602.3 243,602.3 244,602.3 245,602.3 246,602.3 247,602.3 248,602.3 249,602.3 250,602.3 251,602.3 252,602.3 253,602.3 254,602.3 255,602.3 256,602.3 257,602.4 258,602.4 259,602.4 260,602.4 261,602.4 262,602.4 263,602.4 264,602.4 265,602.4 266,602.4 267,602.4 268,602.4 269,602.4 270,602.4 271,602.5 272,602.5 273,602.5 274,602.5 275,602.5 276,602.6 277,602.6 278,602.6 279,602.6 280,602.7 281,602.7 282,602.7 283,602.7 284,602.8 285,602.8 286,602.8 287,602.8 288,602.9 289,602.9 290,602.9 291,603 292,603 293,603 294,603.1 295,603.1 296,603.2 297,603.2 298,603.3 299,603.4 300,603.4 301,603.5 302,603.6 303,603.6 304,603.7 305,603.8 306,603.9 307,604 308,604.1 309,604.2 310,604.3 311,604.4 312,604.5 313,604.7 314,604.8 315,605 316,605.1 317,605.3 318,605.4 319,605.6 320,605.8 321,606 322,606.2 323,606.4 324,606.7 325,607 326,607.3 327,607.6 328,607.9 329,608.2 330,608.5 331,608.8 332,609.1 333,609.4 334,609.7 335,610 336,610.4 337,610.7 338,610.9 339,611.2 340,611.4 341,611.6 342,611.8 343,612 344,612.1 345,612.3 346,612.4 347,612.6 348,612.7 349,612.8 350,613 351,613.1 352,613.2 353,613.2 354,613.3 355,613.4 356,613.5 357,613.6 358,613.6 359,613.7 360,613.8 361,613.8 362,613.9 363,614 364,614 365,614 366,614.1 367,614.1 368,614.1 369,614.1 370,614.1 371,614.1 372,614.1 373,614.1 374,614.1 375,614.1 376,614.1 377,614.1 378,614.1 379,614.1 380,614.1 381,614.1 382,614.1 383,614.1 384,614.1 385,614.1 386,614.1 386,614.3 385,614.3 384,614.3 383,614.3 382,614.3 381,614.3 380,614.3 379,614.3 378,614.3 377,614.3 376,614.3 375,614.3 374,614.3 373,614.3 372,614.3 371,614.3 370,614.3 369,614.3 368,614.3 367,614.3 366,614.3 365,614.3 364,614.2 363,614.2 362,614.2 361,614.1 360,614.1 359,614.1 358,614 357,614 356,613.9 355,613.8 354,613.8 353,613.7 352,613.7 351,613.6 350,613.5 349,613.5 348,613.4 347,613.3 346,613.2 345,613.1 344,613 343,612.8 342,612.7 341,612.6 340,612.5 339,612.3 338,612.1 337,611.9 336,611.7 335,611.5 334,611.3 333,611.1 332,610.9 331,610.7 330,610.5 329,610.3 328,610 327,609.8 326,609.6 325,609.4 324,609.2 323,609 322,608.9 321,608.7 320,608.6 319,608.5 318,608.4 317,608.2 316,608.1 315,608 314,607.9 313,607.8 312,607.7 311,607.6 310,607.6 309,607.5 308,607.4 307,607.4 306,607.3 305,607.2 304,607.2 303,607.1 302,607.1 301,607 300,607 299,606.9 298,606.9 297,606.8 296,606.8 295,606.8 294,606.7 293,606.7 292,606.7 291,606.7 290,606.6 289,606.6 288,606.6 287,606.6 286,606.6 285,606.5 284,606.5 283,606.5 282,606.5 281,606.5 280,606.4 279,606.4 278,606.4 277,606.4 276,606.4 275,606.4 274,606.4 273,606.3 272,606.3 271,606.3 270,606.3 269,606.3 268,606.3 267,606.3 266,606.3 265,606.3 264,606.3 263,606.2 262,606.2 261,606.2 260,606.2 259,606.2 258,606.2 257,606.2 256,606.2 255,606.2 254,606.2 253,606.2 252,606.2 251,606.2 250,606.2 249,606.2 248,606.2 247,606.2 246,606.2 245,606.2 244,606.2 243,606.2 242,606.2 241,606.2 240,606.2 239,606.2 238,606.2 237,606.2 236,606.2 235,606.2 234,606.2 233,606.2 232,606.2 231,606.2 230,606.2 229,606.2 228,606.2 227,606.2 226,606.2 225,606.2 224,606.2 223,606.2 222,606.2 221,606.2 220,606.2 219,606.2 218,606.2 217,606.2 216,606.2 215,606.2 214,606.2 213,606.2 212,606.2Z" fill="#729edf"/>
<path d="M212,606.2 213,606.2 214,606.2 215,606.2 216,606.2 217,606.2 218,606.2 219,606.2 220,606.2 221,606.2 222,606.2 223,606.2 224,606.2 225,606.2 226,606.2 227,606.2 228,606.2 229,606.2 230,606.2 231,606.2 232,606.2 233,606.2 234,606.2 235,606.2 236,606.2 237,606.2 238,606.2 239,606.2 240,606.2 241,606.2 242,606.2 243,606.2 244,606.2 245,606.2 246,606.2 247,606.2 248,606.2 249,606.2 250,606.2 251,606.2 252,606.2 253,606.2 254,606.2 255,606.2 256,606.2 257,606.2 258,606.2 259,606.2 260,606.2 261,606.2 262,606.2 263,606.2 264,606.3 265,606.3 266,606.3 267,606.3 268,606.3 269,606.3 270,606.3 271,606.3 272,606.3 273,606.3 274,606.4 275,606.4 276,606.4 277,606.4 278,606.4 279,606.4 280,606.4 281,606.5 282,606.5 283,606.5 284,606.5 285,606.5 286,606.6 287,606.6 288,606.6 289,606.6 290,606.6 291,606.7 292,606.7 293,606.7 294,606.7 295,606.8 296,606.8 297,606.8 298,606.9 299,606.9 300,607 301,607 302,607.1 303,607.1 304,607.2 305,607.2 306,607.3 307,607.4 308,607.4 309,607.5 310,607.6 311,607.6 312,607.7 313,607.8 314,607.9 315,608 316,608.1 317,608.2 318,608.4 319,608.5 320,608.6 321,608.7 322,608.9 323,609 324,609.2 325,609.4 326,609.6 327,609.8 328,610 329,610.3 330,610.5 331,610.7 332,610.9 333,611.1 334,611.3 335,611.5 336,611.7 337,611.9 338,612.1 339,612.3 340,612.5 341,612.6 342,612.7 343,612.8 344,613 345,613.1 346,613.2 347,613.3 348,613.4 349,613.5 350,613.5 351,613.6 352,613.7 353,613.7 354,613.8 355,613.8 356,613.9 357,614 358,614 359,614.1 360,614.1 361,614.1 362,614.2 363,614.2 364,614.2 365,614.3 366,614.3 367,614.3 368,614.3 369,614.3 370,614.3 371,614.3 372,614.3 373,614.3 374,614.3 375,614.3 376,614.3 377,614.3 378,614.3 379,614.3 380,614.3 381,614.3 382,614.3 383,614.3 384,614.3 385,614.3 386,614.3 386,614.6 385,614.6 384,614.6 383,614.6 382,614.6 381,614.6 380,614.6 379,614.6 378,614.6 377,614.6 376,614.6 375,614.6 374,614.6 373,614.6 372,614.6 371,614.6 370,614.6 369,614.6 368,614.6 367,614.6 366,614.6 365,614.6 364,614.5 363,614.5 362,614.5 361,614.5 360,614.5 359,614.5 358,614.4 357,614.4 356,614.4 355,614.4 354,614.3 353,614.3 352,614.3 351,614.2 350,614.2 349,614.2 348,614.1 347,614.1 346,614 345,614 344,613.9 343,613.9 342,613.8 341,613.8 340,613.7 339,613.6 338,613.6 337,613.5 336,613.4 335,613.3 334,613.2 333,613.1 332,613 331,612.9 330,612.8 329,612.7 328,612.6 327,612.5 326,612.4 325,612.3 324,612.2 323,612.1 322,612 321,612 320,611.9 319,611.9 318,611.8 317,611.8 316,611.7 315,611.6 314,611.6 313,611.6 312,611.5 311,611.5 310,611.4 309,611.4 308,611.4 307,611.3 306,611.3 305,611.3 304,611.3 303,611.2 302,611.2 301,611.2 300,611.2 299,611.1 298,611.1 297,611.1 296,611.1 295,611.1 294,611.1 293,611 292,611 291,611 290,611 289,611 288,611 287,611 286,611 285,611 284,610.9 283,610.9 282,610.9 281,610.9 280,610.9 279,610.9 278,610.9 277,610.9 276,610.9 275,610.9 274,610.9 273,610.9 272,610.9 271,610.9 270,610.8 269,610.8 268,610.8 267,610.8 266,610.8 265,610.8 264,610.8 263,610.8 262,610.8 261,610.8 260,610.8 259,610.8 258,610.8 257,610.8 256,610.8 255,610.8 254,610.8 253,610.8 252,610.8 251,610.8 250,610.8 249,610.8 248,610.8 247,610.8 246,610.8 245,610.8 244,610.8 243,610.8 242,610.8 241,610.8 240,610.8 239,610.8 238,610.8 237,610.8 236,610.8 235,610.8 234,610.8 233,610.8 232,610.8 231,610.8 230,610.8 229,610.8 228,610.8 227,610.8 226,610.8 225,610.8 224,610.8 223,610.8 222,610.8 221,610.8 220,610.8 219,610.8 218,610.8 217,610.8 216,610.8 215,610.8 214,610.8 213,610.8 212,610.8Z" fill="#73408d"/>
<path d="M212,610.8 213,610.8 214,610.8 215,610.8 216,610.8 217,610.8 218,610.8 219,610.8 220,610.8 221,610.8 222,610.8 223,610.8 224,610.8 225,610.8 226,610.8 227,610.8 228,610.8 229,610.8 230,610.8 231,610.8 232,610.8 233,610.8 234,610.8 235,610.8 236,610.8 237,610.8 238,610.8 239,610.8 240,610.8 241,610.8 242,610.8 243,610.8 244,610.8 245,610.8 246,610.8 247,610.8 248,610.8 249,610.8 250,610.8 251,610.8 252,610.8 253,610.8 254,610.8 255,610.8 256,610.8 257,610.8 258,610.8 259,610.8 260,610.8 261,610.8 262,610.8 263,610.8 264,610.8 265,610.8 266,610.8 267,610.8 268,610.8 269,610.8 270,610.8 271,610.9 272,610.9 273,610.9 274,610.9 275,610.9 276,610.9 277,610.9 278,610.9 279,610.9 280,610.9 281,610.9 282,610.9 283,610.9 284,610.9 285,611 286,611 287,611 288,611 289,611 290,611 291,611 292,611 293,611 294,611.1 295,611.1 296,611.1 297,611.1 298,611.1 299,611.1 300,611.2 301,611.2 302,611.2 303,611.2 304,611.3 305,611.3 306,611.3 307,611.3 308,611.4 309,611.4 310,611.4 311,611.5 312,611.5 313,611.6 314,611.6 315,611.6 316,611.7 317,611.8 318,611.8 319,611.9 320,611.9 321,612 322,612 323,612.1 324,612.2 325,612.3 326,612.4 327,612.5 328,612.6 329,612.7 330,612.8 331,612.9 332,613 333,613.1 334,613.2 335,613.3 336,613.4 337,613.5 338,613.6 339,613.6 340,613.7 341,613.8 342,613.8 343,613.9 344,613.9 345,614 346,614 347,614.1 348,614.1 349,614.2 350,614.2 351,614.2 352,614.3 353,614.3 354,614.3 355,614.4 356,614.4 357,614.4 358,614.4 359,614.5 360,614.5 361,614.5 362,614.5 363,614.5 364,614.5 365,614.6 366,614.6 367,614.6 368,614.6 369,614.6 370,614.6 371,614.6 372,614.6 373,614.6 374,614.6 375,614.6 376,614.6 377,614.6 378,614.6 379,614.6 380,614.6 381,614.6 382,614.6 383,614.6 384,614.6 385,614.6 386,614.6 386,614.8 385,614.8 384,614.8 383,614.8 382,614.8 381,614.8 380,614.8 379,614.8 378,614.8 377,614.8 376,614.8 375,614.8 374,614.8 373,614.8 372,614.8 371,614.8 370,614.8 369,614.8 368,614.8 367,614.8 366,614.8 365,614.8 364,614.8 363,614.8 362,614.8 361,614.8 360,614.8 359,614.8 358,614.8 357,614.8 356,614.8 355,614.8 354,614.8 353,614.8 352,614.8 351,614.8 350,614.8 349,614.8 348,614.8 347,614.8 346,614.8 345,614.8 344,614.8 343,614.8 342,614.8 341,614.8 340,614.8 339,614.8 338,614.8 337,614.8 336,614.8 335,614.8 334,614.8 333,614.8 332,614.8 331,614.8 330,614.8 329,614.8 328,614.8 327,614.8 326,614.8 325,614.8 324,614.8 323,614.8 322,614.8 321,614.8 320,614.8 319,614.8 318,614.8 317,614.8 316,614.8 315,614.8 314,614.8 313,614.8 312,614.8 311,614.8 310,614.8 309,614.8 308,614.8 307,614.8 306,614.8 305,614.8 304,614.8 303,614.8 302,614.8 301,614.8 300,614.8 299,614.8 298,614.8 297,614.8 296,614.8 295,614.8 294,614.8 293,614.8 292,614.8 291,614.8 290,614.8 289,614.8 288,614.8 287,614.8 286,614.8 285,614.8 284,614.8 283,614.8 282,614.8 281,614.8 280,614.8 279,614.8 278,614.8 277,614.8 276,614.8 275,614.8 274,614.8 273,614.8 272,614.8 271,614.8 270,614.8 269,614.8 268,614.8 267,614.8 266,614.8 265,614.8 264,614.8 263,614.8 262,614.8 261,614.8 260,614.8 259,614.8 258,614.8 257,614.8 256,614.8 255,614.8 254,614.8 253,614.8 252,614.8 251,614.8 250,614.8 249,614.8 248,614.8 247,614.8 246,614.8 245,614.8 244,614.8 243,614.8 242,614.8 241,614.8 240,614.8 239,614.8 238,614.8 237,614.8 236,614.8 235,614.8 234,614.8 233,614.8 232,614.8 231,614.8 230,614.8 229,614.8 228,614.8 227,614.8 226,614.8 225,614.8 224,614.8 223,614.8 222,614.8 221,614.8 220,614.8 219,614.8 218,614.8 217,614.8 216,614.8 215,614.8 214,614.8 213,614.8 212,614.8Z" fill="#ea8867"/>
</g>
<linearGradient id="gmER" gradientUnits="userSpaceOnUse" x1="452" x2="462" y1="0" y2="0"><stop offset="0" stop-color="#000"/><stop offset="1" stop-color="#fff"/></linearGradient><mask id="mER" maskUnits="userSpaceOnUse" x="0" y="0" width="520" height="638"><rect x="0" y="0" width="520" height="638" fill="url(#gmER)"/></mask>
<g mask="url(#mER)">
<path d="M451,612.8 452,612.8 453,612.8 454,612.8 455,612.8 456,612.7 457,612.6 458,612.3 459,611.9 460,611.5 461,610.6 462,608.9 463,606.7 464,604.2 465,601.6 466,598.5 467,594.9 468,591 469,587.1 470,583.3 471,579.1 472,574.9 473,571 474,567.7 475,564.9 476,562.2 477,559.9 478,558 479,556.7 480,555.5 481,554.5 482,553.5 483,552.8 484,552.1 485,551.7 486,551.4 487,551.1 488,550.9 489,550.7 490,550.5 491,550.4 492,550.4 493,550.4 494,550.4 495,550.4 496,550.4 497,550.4 498,550.4 499,550.4 500,550.4 501,550.4 502,550.4 503,550.4 504,550.4 505,550.4 506,550.4 507,550.4 508,550.4 509,550.4 510,550.4 511,550.4 511,574.6 510,574.6 509,574.6 508,574.6 507,574.6 506,574.6 505,574.6 504,574.6 503,574.6 502,574.6 501,574.6 500,574.6 499,574.6 498,574.6 497,574.6 496,574.6 495,574.6 494,574.6 493,574.6 492,574.6 491,574.6 490,574.7 489,574.8 488,574.9 487,575 486,575.2 485,575.4 484,575.7 483,576.1 482,576.6 481,577.1 480,577.8 479,578.5 478,579.4 477,580.5 476,582 475,583.6 474,585.4 473,587.5 472,589.9 471,592.5 470,595.1 469,597.5 468,600 467,602.4 466,604.6 465,606.6 464,608.2 463,609.7 462,611.1 461,612.2 460,612.7 459,613 458,613.2 457,613.4 456,613.5 455,613.6 454,613.6 453,613.6 452,613.6 451,613.6Z" fill="#5c9e9e"/>
<path d="M451,613.6 452,613.6 453,613.6 454,613.6 455,613.6 456,613.5 457,613.4 458,613.2 459,613 460,612.7 461,612.2 462,611.1 463,609.7 464,608.2 465,606.6 466,604.6 467,602.4 468,600 469,597.5 470,595.1 471,592.5 472,589.9 473,587.5 474,585.4 475,583.6 476,582 477,580.5 478,579.4 479,578.5 480,577.8 481,577.1 482,576.6 483,576.1 484,575.7 485,575.4 486,575.2 487,575 488,574.9 489,574.8 490,574.7 491,574.6 492,574.6 493,574.6 494,574.6 495,574.6 496,574.6 497,574.6 498,574.6 499,574.6 500,574.6 501,574.6 502,574.6 503,574.6 504,574.6 505,574.6 506,574.6 507,574.6 508,574.6 509,574.6 510,574.6 511,574.6 511,587.3 510,587.3 509,587.3 508,587.3 507,587.3 506,587.3 505,587.3 504,587.3 503,587.3 502,587.3 501,587.3 500,587.3 499,587.3 498,587.3 497,587.3 496,587.3 495,587.3 494,587.3 493,587.3 492,587.3 491,587.3 490,587.4 489,587.4 488,587.5 487,587.6 486,587.7 485,587.8 484,588 483,588.3 482,588.6 481,589 480,589.5 479,590 478,590.6 477,591.3 476,592.3 475,593.5 474,594.7 473,596.1 472,597.8 471,599.6 470,601.3 469,603 468,604.6 467,606.3 466,607.8 465,609.2 464,610.3 463,611.3 462,612.3 461,613 460,613.4 459,613.6 458,613.7 457,613.8 456,613.9 455,613.9 454,613.9 453,613.9 452,613.9 451,613.9Z" fill="#ea6d7d"/>
<path d="M451,613.9 452,613.9 453,613.9 454,613.9 455,613.9 456,613.9 457,613.8 458,613.7 459,613.6 460,613.4 461,613 462,612.3 463,611.3 464,610.3 465,609.2 466,607.8 467,606.3 468,604.6 469,603 470,601.3 471,599.6 472,597.8 473,596.1 474,594.7 475,593.5 476,592.3 477,591.3 478,590.6 479,590 480,589.5 481,589 482,588.6 483,588.3 484,588 485,587.8 486,587.7 487,587.6 488,587.5 489,587.4 490,587.4 491,587.3 492,587.3 493,587.3 494,587.3 495,587.3 496,587.3 497,587.3 498,587.3 499,587.3 500,587.3 501,587.3 502,587.3 503,587.3 504,587.3 505,587.3 506,587.3 507,587.3 508,587.3 509,587.3 510,587.3 511,587.3 511,595.4 510,595.4 509,595.4 508,595.4 507,595.4 506,595.4 505,595.4 504,595.4 503,595.4 502,595.4 501,595.4 500,595.4 499,595.4 498,595.4 497,595.4 496,595.4 495,595.4 494,595.4 493,595.4 492,595.4 491,595.4 490,595.4 489,595.5 488,595.5 487,595.6 486,595.7 485,595.8 484,595.9 483,596.1 482,596.3 481,596.6 480,596.9 479,597.3 478,597.7 477,598.3 476,599 475,599.8 474,600.6 473,601.6 472,602.8 471,604 470,605.3 469,606.5 468,607.6 467,608.8 466,609.9 465,610.8 464,611.6 463,612.4 462,613 461,613.5 460,613.8 459,613.9 458,614 457,614.1 456,614.2 455,614.2 454,614.2 453,614.2 452,614.2 451,614.2Z" fill="#ef9367"/>
<path d="M451,614.2 452,614.2 453,614.2 454,614.2 455,614.2 456,614.2 457,614.1 458,614 459,613.9 460,613.8 461,613.5 462,613 463,612.4 464,611.6 465,610.8 466,609.9 467,608.8 468,607.6 469,606.5 470,605.3 471,604 472,602.8 473,601.6 474,600.6 475,599.8 476,599 477,598.3 478,597.7 479,597.3 480,596.9 481,596.6 482,596.3 483,596.1 484,595.9 485,595.8 486,595.7 487,595.6 488,595.5 489,595.5 490,595.4 491,595.4 492,595.4 493,595.4 494,595.4 495,595.4 496,595.4 497,595.4 498,595.4 499,595.4 500,595.4 501,595.4 502,595.4 503,595.4 504,595.4 505,595.4 506,595.4 507,595.4 508,595.4 509,595.4 510,595.4 511,595.4 511,602.4 510,602.4 509,602.4 508,602.4 507,602.4 506,602.4 505,602.4 504,602.4 503,602.4 502,602.4 501,602.4 500,602.4 499,602.4 498,602.4 497,602.4 496,602.4 495,602.4 494,602.4 493,602.4 492,602.4 491,602.4 490,602.4 489,602.5 488,602.5 487,602.5 486,602.6 485,602.6 484,602.7 483,602.9 482,603 481,603.2 480,603.4 479,603.6 478,603.9 477,604.2 476,604.7 475,605.2 474,605.7 473,606.4 472,607.1 471,607.9 470,608.7 469,609.5 468,610.2 467,611 466,611.7 465,612.3 464,612.8 463,613.2 462,613.7 461,614 460,614.2 459,614.2 458,614.3 457,614.4 456,614.4 455,614.4 454,614.4 453,614.4 452,614.4 451,614.4Z" fill="#ea72b4"/>
<path d="M451,614.4 452,614.4 453,614.4 454,614.4 455,614.4 456,614.4 457,614.4 458,614.3 459,614.2 460,614.2 461,614 462,613.7 463,613.2 464,612.8 465,612.3 466,611.7 467,611 468,610.2 469,609.5 470,608.7 471,607.9 472,607.1 473,606.4 474,605.7 475,605.2 476,604.7 477,604.2 478,603.9 479,603.6 480,603.4 481,603.2 482,603 483,602.9 484,602.7 485,602.6 486,602.6 487,602.5 488,602.5 489,602.5 490,602.4 491,602.4 492,602.4 493,602.4 494,602.4 495,602.4 496,602.4 497,602.4 498,602.4 499,602.4 500,602.4 501,602.4 502,602.4 503,602.4 504,602.4 505,602.4 506,602.4 507,602.4 508,602.4 509,602.4 510,602.4 511,602.4 511,609.3 510,609.3 509,609.3 508,609.3 507,609.3 506,609.3 505,609.3 504,609.3 503,609.3 502,609.3 501,609.3 500,609.3 499,609.3 498,609.3 497,609.3 496,609.3 495,609.3 494,609.3 493,609.3 492,609.3 491,609.3 490,609.3 489,609.3 488,609.3 487,609.4 486,609.4 485,609.4 484,609.4 483,609.5 482,609.6 481,609.6 480,609.7 479,609.8 478,610 477,610.1 476,610.3 475,610.5 474,610.8 473,611.1 472,611.4 471,611.8 470,612.1 469,612.4 468,612.8 467,613.1 466,613.4 465,613.7 464,613.9 463,614.1 462,614.3 461,614.4 460,614.5 459,614.6 458,614.6 457,614.6 456,614.6 455,614.6 454,614.6 453,614.6 452,614.6 451,614.6Z" fill="#7da9df"/>
<path d="M451,614.6 452,614.6 453,614.6 454,614.6 455,614.6 456,614.6 457,614.6 458,614.6 459,614.6 460,614.5 461,614.4 462,614.3 463,614.1 464,613.9 465,613.7 466,613.4 467,613.1 468,612.8 469,612.4 470,612.1 471,611.8 472,611.4 473,611.1 474,610.8 475,610.5 476,610.3 477,610.1 478,610 479,609.8 480,609.7 481,609.6 482,609.6 483,609.5 484,609.4 485,609.4 486,609.4 487,609.4 488,609.3 489,609.3 490,609.3 491,609.3 492,609.3 493,609.3 494,609.3 495,609.3 496,609.3 497,609.3 498,609.3 499,609.3 500,609.3 501,609.3 502,609.3 503,609.3 504,609.3 505,609.3 506,609.3 507,609.3 508,609.3 509,609.3 510,609.3 511,609.3 511,613.9 510,613.9 509,613.9 508,613.9 507,613.9 506,613.9 505,613.9 504,613.9 503,613.9 502,613.9 501,613.9 500,613.9 499,613.9 498,613.9 497,613.9 496,613.9 495,613.9 494,613.9 493,613.9 492,613.9 491,613.9 490,613.9 489,613.9 488,613.9 487,613.9 486,613.9 485,613.9 484,613.9 483,613.9 482,613.9 481,614 480,614 479,614 478,614 477,614 476,614.1 475,614.1 474,614.1 473,614.2 472,614.2 471,614.3 470,614.4 469,614.4 468,614.5 467,614.5 466,614.6 465,614.6 464,614.7 463,614.7 462,614.7 461,614.7 460,614.8 459,614.8 458,614.8 457,614.8 456,614.8 455,614.8 454,614.8 453,614.8 452,614.8 451,614.8Z" fill="#9362a9"/>
<path d="M451,614.8 452,614.8 453,614.8 454,614.8 455,614.8 456,614.8 457,614.8 458,614.8 459,614.8 460,614.8 461,614.7 462,614.7 463,614.7 464,614.7 465,614.6 466,614.6 467,614.5 468,614.5 469,614.4 470,614.4 471,614.3 472,614.2 473,614.2 474,614.1 475,614.1 476,614.1 477,614 478,614 479,614 480,614 481,614 482,613.9 483,613.9 484,613.9 485,613.9 486,613.9 487,613.9 488,613.9 489,613.9 490,613.9 491,613.9 492,613.9 493,613.9 494,613.9 495,613.9 496,613.9 497,613.9 498,613.9 499,613.9 500,613.9 501,613.9 502,613.9 503,613.9 504,613.9 505,613.9 506,613.9 507,613.9 508,613.9 509,613.9 510,613.9 511,613.9 511,614.8 510,614.8 509,614.8 508,614.8 507,614.8 506,614.8 505,614.8 504,614.8 503,614.8 502,614.8 501,614.8 500,614.8 499,614.8 498,614.8 497,614.8 496,614.8 495,614.8 494,614.8 493,614.8 492,614.8 491,614.8 490,614.8 489,614.8 488,614.8 487,614.8 486,614.8 485,614.8 484,614.8 483,614.8 482,614.8 481,614.8 480,614.8 479,614.8 478,614.8 477,614.8 476,614.8 475,614.8 474,614.8 473,614.8 472,614.8 471,614.8 470,614.8 469,614.8 468,614.8 467,614.8 466,614.8 465,614.8 464,614.8 463,614.8 462,614.8 461,614.8 460,614.8 459,614.8 458,614.8 457,614.8 456,614.8 455,614.8 454,614.8 453,614.8 452,614.8 451,614.8Z" fill="#eabe7d"/>
</g>
<rect x="212.00" y="571.50" width="19.20" height="17.70" fill="#107878" />
<rect x="212.00" y="589.20" width="19.20" height="7.00" fill="#e02050" />
<rect x="212.00" y="596.20" width="19.20" height="6.10" fill="#e03080" />
<rect x="212.00" y="602.30" width="19.20" height="3.90" fill="#3070d0" />
<rect x="212.00" y="606.20" width="19.20" height="4.60" fill="#501070" />
<rect x="212.00" y="610.80" width="19.20" height="4.00" fill="#e05020" />
<rect x="492.00" y="550.40" width="19.00" height="24.20" fill="#107070" />
<rect x="492.00" y="574.60" width="19.00" height="12.70" fill="#e02840" />
<rect x="492.00" y="587.30" width="19.00" height="8.10" fill="#e86020" />
<rect x="492.00" y="595.40" width="19.00" height="7.00" fill="#e03090" />
<rect x="492.00" y="602.40" width="19.00" height="6.90" fill="#4080d0" />
<rect x="492.00" y="609.30" width="19.00" height="4.60" fill="#601880" />
<rect x="492.00" y="613.90" width="19.00" height="0.90" fill="#e0a040" />
<line x1="211.00" y1="619.30" x2="512.00" y2="619.30" stroke="#333" stroke-width="1.1"/>
<line x1="237.30" y1="619.30" x2="237.30" y2="621.50" stroke="#333" stroke-width="0.9"/>
<line x1="341.50" y1="619.30" x2="341.50" y2="621.50" stroke="#333" stroke-width="0.9"/>
<line x1="445.50" y1="619.30" x2="445.50" y2="621.50" stroke="#333" stroke-width="0.9"/>
<line x1="289.40" y1="619.30" x2="289.40" y2="620.90" stroke="#333" stroke-width="0.8"/>
<line x1="393.50" y1="619.30" x2="393.50" y2="620.90" stroke="#333" stroke-width="0.8"/>
<line x1="497.60" y1="619.30" x2="497.60" y2="620.90" stroke="#333" stroke-width="0.8"/>
<text x="237.30" y="631.20" font-size="7.7" text-anchor="middle" fill="#222"><tspan>0</tspan></text>
<text x="341.50" y="631.20" font-size="7.7" text-anchor="middle" fill="#222"><tspan>100</tspan></text>
<text x="445.50" y="631.20" font-size="7.7" text-anchor="middle" fill="#222"><tspan>200</tspan></text>
<line x1="222.00" y1="560.20" x2="222.00" y2="565.20" stroke="#111" stroke-width="1.1"/>
<path d="M219.00,562.50 L222.00,563.40 L225.00,562.50 L222.00,569.20 Z" fill="#111"/>
<text x="222.00" y="554.90" font-size="7.7" text-anchor="middle" fill="#222"><tspan>575.7</tspan></text>
<line x1="413.00" y1="604.20" x2="413.00" y2="609.20" stroke="#111" stroke-width="1.1"/>
<path d="M410.00,606.50 L413.00,607.40 L416.00,606.50 L413.00,613.20 Z" fill="#111"/>
<text x="413.00" y="598.90" font-size="7.7" text-anchor="middle" fill="#222"><tspan>11.4</tspan></text>
<line x1="502.60" y1="539.60" x2="502.60" y2="544.60" stroke="#111" stroke-width="1.1"/>
<path d="M499.60,541.90 L502.60,542.80 L505.60,541.90 L502.60,548.60 Z" fill="#111"/>
<text x="502.60" y="535.00" font-size="7.7" text-anchor="middle" fill="#222"><tspan>777.3</tspan></text>
<text x="337.50" y="580.00" font-size="7.55" fill="#333"><tspan font-style="italic">OTHERS include: CCND3</tspan><tspan> - P284L</tspan></text>
<rect x="0.5" y="0.5" width="519" height="637" fill="none" stroke="#5e5e5e" stroke-width="1"/></svg>
</body></html>
